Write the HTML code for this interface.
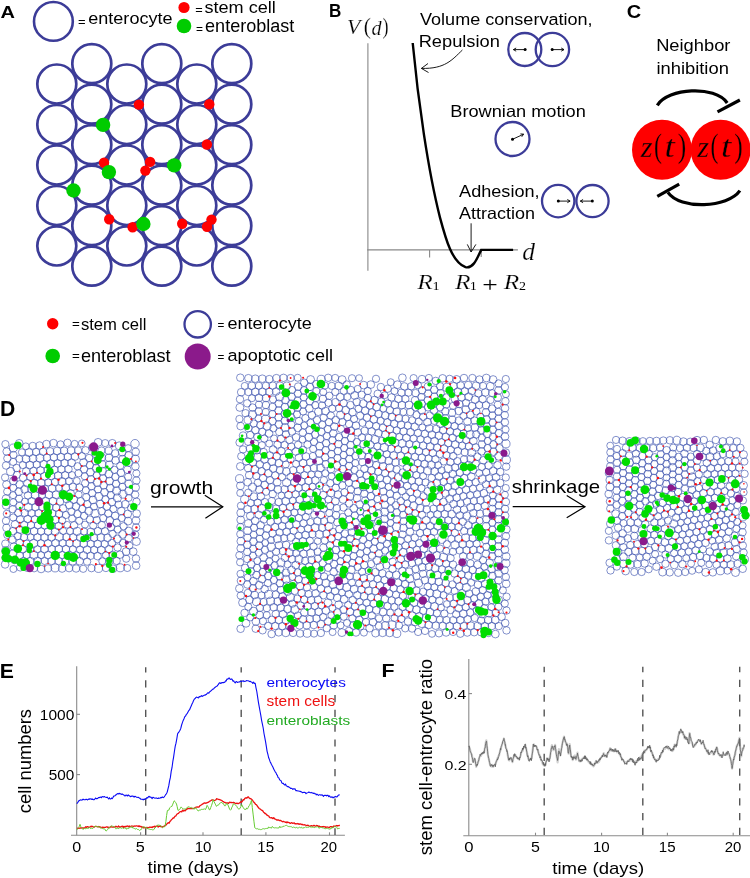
<!DOCTYPE html>
<html><head><meta charset="utf-8"><style>
html,body{margin:0;padding:0;background:#fff;}
svg{display:block;will-change:transform;}
</style></head><body>
<svg width="750" height="878" viewBox="0 0 750 878">
<rect width="750" height="878" fill="#fff"/>
<text transform="translate(0.50,17.60) scale(1.1500,1)" font-family="Liberation Sans, sans-serif" font-size="17.39" font-weight="bold">A</text>
<circle cx="53.4" cy="21.4" r="19.4" fill="none" stroke="#3c3c98" stroke-width="2.6"/>
<text transform="translate(78.05,25.50) scale(0.9992,1)" font-family="Liberation Sans, sans-serif" font-size="13.00">=</text>
<text transform="translate(88.28,24.30) scale(1.1060,1)" font-family="Liberation Sans, sans-serif" font-size="16.31">enterocyte</text>
<circle cx="184" cy="7.5" r="5.6" fill="#ff0000"/>
<circle cx="184" cy="26" r="7.3" fill="#00cc00"/>
<text transform="translate(195.16,14.00) scale(1.0227,1)" font-family="Liberation Sans, sans-serif" font-size="12.50">=</text>
<text transform="translate(204.46,13.00) scale(1.0758,1)" font-family="Liberation Sans, sans-serif" font-size="16.83">stem cell</text>
<text transform="translate(196.10,33.20) scale(0.9567,1)" font-family="Liberation Sans, sans-serif" font-size="12.50">=</text>
<text transform="translate(205.08,31.70) scale(0.9761,1)" font-family="Liberation Sans, sans-serif" font-size="18.48">enteroblast</text>
<g fill="none" stroke="#3c3c98" stroke-width="2.7"><circle cx="56.8" cy="84.0" r="19.5"/><circle cx="56.8" cy="124.5" r="19.5"/><circle cx="56.8" cy="165.0" r="19.5"/><circle cx="56.8" cy="205.5" r="19.5"/><circle cx="56.8" cy="246.0" r="19.5"/><circle cx="91.8" cy="63.7" r="19.5"/><circle cx="91.8" cy="104.2" r="19.5"/><circle cx="91.8" cy="144.7" r="19.5"/><circle cx="91.8" cy="185.2" r="19.5"/><circle cx="91.8" cy="225.7" r="19.5"/><circle cx="91.8" cy="266.2" r="19.5"/><circle cx="126.8" cy="84.0" r="19.5"/><circle cx="126.8" cy="124.5" r="19.5"/><circle cx="126.8" cy="165.0" r="19.5"/><circle cx="126.8" cy="205.5" r="19.5"/><circle cx="126.8" cy="246.0" r="19.5"/><circle cx="161.8" cy="63.7" r="19.5"/><circle cx="161.8" cy="104.2" r="19.5"/><circle cx="161.8" cy="144.7" r="19.5"/><circle cx="161.8" cy="185.2" r="19.5"/><circle cx="161.8" cy="225.7" r="19.5"/><circle cx="161.8" cy="266.2" r="19.5"/><circle cx="196.8" cy="84.0" r="19.5"/><circle cx="196.8" cy="124.5" r="19.5"/><circle cx="196.8" cy="165.0" r="19.5"/><circle cx="196.8" cy="205.5" r="19.5"/><circle cx="196.8" cy="246.0" r="19.5"/><circle cx="231.8" cy="63.7" r="19.5"/><circle cx="231.8" cy="104.2" r="19.5"/><circle cx="231.8" cy="144.7" r="19.5"/><circle cx="231.8" cy="185.2" r="19.5"/><circle cx="231.8" cy="225.7" r="19.5"/><circle cx="231.8" cy="266.2" r="19.5"/></g>
<g fill="#ff0000"><circle cx="138.9" cy="104.6" r="5.2"/><circle cx="209.3" cy="104.2" r="5.2"/><circle cx="206.9" cy="144.5" r="5.2"/><circle cx="104" cy="162.8" r="5.2"/><circle cx="150.1" cy="161.9" r="5.2"/><circle cx="145.4" cy="170.6" r="5.2"/><circle cx="109.2" cy="219.2" r="5.2"/><circle cx="132.6" cy="227.2" r="5.2"/><circle cx="182.2" cy="223.7" r="5.2"/><circle cx="211.5" cy="219.6" r="5.2"/><circle cx="207" cy="226.8" r="5.2"/></g>
<g fill="#00cc00"><circle cx="103.1" cy="124.9" r="7.2"/><circle cx="108.9" cy="172.1" r="7.2"/><circle cx="174.2" cy="165.4" r="7.2"/><circle cx="73.5" cy="190.5" r="7.2"/><circle cx="143.4" cy="224" r="7.2"/></g>
<text transform="translate(328.89,16.80) scale(0.9191,1)" font-family="Liberation Sans, sans-serif" font-size="18.55" font-weight="bold">B</text>
<text transform="translate(346.91,34.30) scale(1.0000,1)" font-family="Liberation Serif, serif" font-size="21.83" font-style="italic" stroke="#fff" stroke-width="0.2">V</text>
<text transform="translate(363.73,34.30) scale(0.9734,1)" font-family="Liberation Serif, serif" font-size="22.16" stroke="#fff" stroke-width="0.2">(</text>
<text transform="translate(371.39,34.50) scale(0.9688,1)" font-family="Liberation Serif, serif" font-size="20.86" font-style="italic" stroke="#fff" stroke-width="0.2">d</text>
<text transform="translate(382.46,34.30) scale(0.8158,1)" font-family="Liberation Serif, serif" font-size="22.16" stroke="#fff" stroke-width="0.2">)</text>
<g stroke="#888" stroke-width="1.1" fill="none"><line x1="367.9" y1="43.2" x2="367.9" y2="270.8"/><line x1="367.2" y1="249.9" x2="517.9" y2="249.9"/><line x1="429.6" y1="249.9" x2="429.6" y2="257.6"/><line x1="481.2" y1="249.9" x2="481.2" y2="257"/></g>
<path d="M412.7,43 C418,100 428,170 440,217.6 C446,240 452,262 465.5,267.2 C474,269 478,256 481.2,249.9 L513.1,249.9" fill="none" stroke="#000" stroke-width="2.4"/>
<text transform="translate(420.01,24.60) scale(1.0558,1)" font-family="Liberation Sans, sans-serif" font-size="17.10">Volume conservation,</text>
<text transform="translate(418.64,47.40) scale(1.1136,1)" font-family="Liberation Sans, sans-serif" font-size="16.41">Repulsion</text>
<text transform="translate(450.24,116.70) scale(1.1186,1)" font-family="Liberation Sans, sans-serif" font-size="16.28">Brownian motion</text>
<text transform="translate(459.10,196.50) scale(1.1119,1)" font-family="Liberation Sans, sans-serif" font-size="16.28">Adhesion,</text>
<text transform="translate(459.10,219.20) scale(1.1048,1)" font-family="Liberation Sans, sans-serif" font-size="16.28">Attraction</text>
<path d="M462.4,50 C452,60 445,69 421.4,68.4" fill="none" stroke="#000" stroke-width="0.9"/>
<path d="M428,63.5 L421.4,68.4 L428.5,72.5" fill="none" stroke="#000" stroke-width="0.9"/>
<path d="M471.1,223.3 L471.1,252" fill="none" stroke="#000" stroke-width="0.9"/>
<path d="M467.3,244.4 L471.1,252 L475.9,244.4" fill="none" stroke="#000" stroke-width="0.9"/>
<g fill="none" stroke="#3c3c98" stroke-width="2.3"><circle cx="524.8" cy="49.5" r="16.5"/><circle cx="552.4" cy="49.5" r="16.7"/><circle cx="512.5" cy="139" r="17"/><circle cx="558.2" cy="201.1" r="16.2"/><circle cx="592.5" cy="201.1" r="16.1"/></g>
<g stroke="#000" stroke-width="0.9" fill="none"><line x1="525.1" y1="49.6" x2="513.4" y2="49.6"/><polyline points="516.17,48.00 513.4,49.6 516.17,51.20"/><line x1="552.2" y1="49.6" x2="564" y2="49.6"/><polyline points="561.23,51.20 564,49.6 561.23,48.00"/><line x1="512.5" y1="139.3" x2="523.6" y2="134.2"/><polyline points="521.75,136.81 523.6,134.2 520.41,133.90"/><line x1="558.3" y1="201.1" x2="570.1" y2="201.1"/><polyline points="567.33,202.70 570.1,201.1 567.33,199.50"/><line x1="592.3" y1="201.1" x2="580.3" y2="201.1"/><polyline points="583.07,199.50 580.3,201.1 583.07,202.70"/></g>
<g fill="#000"><circle cx="525.1" cy="49.6" r="1.5"/><circle cx="552.2" cy="49.6" r="1.5"/><circle cx="512.5" cy="139.3" r="1.5"/><circle cx="558.3" cy="201.1" r="1.5"/><circle cx="592.3" cy="201.1" r="1.5"/></g>
<text transform="translate(522.13,259.80) scale(1.0562,1)" font-family="Liberation Serif, serif" font-size="24.17" font-style="italic" stroke="#fff" stroke-width="0.2">d</text>
<text transform="translate(417.33,288.50) scale(1.2476,1)" font-family="Liberation Serif, serif" font-size="20.31" font-style="italic" stroke="#fff" stroke-width="0.2">R</text>
<text transform="translate(432.48,290.40) scale(1.2314,1)" font-family="Liberation Serif, serif" font-size="11.67">1</text>
<text transform="translate(454.93,288.50) scale(1.2476,1)" font-family="Liberation Serif, serif" font-size="20.31" font-style="italic" stroke="#fff" stroke-width="0.2">R</text>
<text transform="translate(469.78,290.40) scale(1.2314,1)" font-family="Liberation Serif, serif" font-size="11.67">1</text>
<text transform="translate(482.22,291.60) scale(1.2803,1)" font-family="Liberation Serif, serif" font-size="21.50">+</text>
<text transform="translate(503.73,288.50) scale(1.2476,1)" font-family="Liberation Serif, serif" font-size="20.31" font-style="italic" stroke="#fff" stroke-width="0.2">R</text>
<text transform="translate(518.97,290.40) scale(1.2000,1)" font-family="Liberation Serif, serif" font-size="11.67">2</text>
<text transform="translate(626.70,18.00) scale(1.0769,1)" font-family="Liberation Sans, sans-serif" font-size="18.57" font-weight="bold">C</text>
<text transform="translate(656.13,51.30) scale(1.0633,1)" font-family="Liberation Sans, sans-serif" font-size="17.24">Neighbor</text>
<text transform="translate(656.41,73.90) scale(1.0657,1)" font-family="Liberation Sans, sans-serif" font-size="17.24">inhibition</text>
<circle cx="662" cy="149.7" r="30" fill="#ff0000"/><circle cx="720.6" cy="149.7" r="30" fill="#ff0000"/>
<text transform="translate(640.70,157.30) scale(1.0057,1)" font-family="Liberation Serif, serif" font-size="30.22" font-style="italic" stroke="#ff0000" stroke-width="0.3">z</text>
<text transform="translate(654.02,157.30) scale(0.7324,1)" font-family="Liberation Serif, serif" font-size="32.66" stroke="#ff0000" stroke-width="0.3">(</text>
<text transform="translate(664.42,157.30) scale(1.1502,1)" font-family="Liberation Serif, serif" font-size="32.39" font-style="italic" stroke="#ff0000" stroke-width="0.3">t</text>
<text transform="translate(677.74,157.30) scale(0.7772,1)" font-family="Liberation Serif, serif" font-size="32.66" stroke="#ff0000" stroke-width="0.3">)</text>
<text transform="translate(697.20,157.30) scale(1.0057,1)" font-family="Liberation Serif, serif" font-size="30.22" font-style="italic" stroke="#ff0000" stroke-width="0.3">z</text>
<text transform="translate(710.52,157.30) scale(0.7324,1)" font-family="Liberation Serif, serif" font-size="32.66" stroke="#ff0000" stroke-width="0.3">(</text>
<text transform="translate(720.92,157.30) scale(1.1502,1)" font-family="Liberation Serif, serif" font-size="32.39" font-style="italic" stroke="#ff0000" stroke-width="0.3">t</text>
<text transform="translate(734.24,157.30) scale(0.7772,1)" font-family="Liberation Serif, serif" font-size="32.66" stroke="#ff0000" stroke-width="0.3">)</text>
<g stroke="#000" stroke-width="3.2" fill="none"><path d="M657.3,105.3 C668,88 715,85 727.2,103"/><path d="M717.5,111.8 L739.9,100"/><path d="M739.9,190.7 C728,208 680,210 667.9,192.4"/><path d="M657.3,196.4 L679.2,184.2"/></g>
<circle cx="52.7" cy="323.8" r="5.7" fill="#ff0000"/>
<circle cx="52.7" cy="356" r="7.3" fill="#00cc00"/>
<text transform="translate(71.93,328.20) scale(1.0722,1)" font-family="Liberation Sans, sans-serif" font-size="12.50">=</text>
<text transform="translate(80.90,329.80) scale(1.0317,1)" font-family="Liberation Sans, sans-serif" font-size="16.14">stem cell</text>
<text transform="translate(71.93,360.20) scale(1.0722,1)" font-family="Liberation Sans, sans-serif" font-size="12.50">=</text>
<text transform="translate(80.98,362.10) scale(1.0265,1)" font-family="Liberation Sans, sans-serif" font-size="17.66">enteroblast</text>
<circle cx="197.7" cy="324.3" r="13.2" fill="none" stroke="#3c3c98" stroke-width="2.3"/>
<circle cx="197.7" cy="356.5" r="13" fill="#8b1a8b"/>
<text transform="translate(217.41,328.50) scale(0.9402,1)" font-family="Liberation Sans, sans-serif" font-size="12.50">=</text>
<text transform="translate(227.58,328.80) scale(1.0375,1)" font-family="Liberation Sans, sans-serif" font-size="17.38">enterocyte</text>
<text transform="translate(217.41,360.70) scale(0.9402,1)" font-family="Liberation Sans, sans-serif" font-size="12.50">=</text>
<text transform="translate(227.58,360.50) scale(1.1589,1)" font-family="Liberation Sans, sans-serif" font-size="15.59">apoptotic cell</text>
<text transform="translate(-0.18,677.60) scale(1.0697,1)" font-family="Liberation Sans, sans-serif" font-size="19.86" font-weight="bold">E</text>
<g stroke="#8a8a8a" stroke-width="1.1" fill="none"><line x1="76.7" y1="666.3" x2="76.7" y2="835.3"/><line x1="71" y1="835.3" x2="344.9" y2="835.3"/><line x1="76.7" y1="714.3" x2="80" y2="714.3"/><line x1="76.7" y1="774.6" x2="80" y2="774.6"/><line x1="140.6" y1="835.3" x2="140.6" y2="832.3"/><line x1="203" y1="835.3" x2="203" y2="832.3"/><line x1="265.9" y1="835.3" x2="265.9" y2="832.3"/><line x1="329.5" y1="835.3" x2="329.5" y2="832.3"/></g>
<g stroke="#555" stroke-width="1.4" stroke-dasharray="7.2,7.6" stroke-dashoffset="1.8" fill="none"><line x1="145.7" y1="667.2" x2="145.7" y2="835"/><line x1="241.2" y1="667.2" x2="241.2" y2="835"/><line x1="335" y1="667.2" x2="335" y2="835"/></g>
<polyline points="76.7,803.7 77.5,802.9 78.2,801.8 79.0,800.6 79.8,800.4 80.5,799.9 81.2,800.0 82.0,800.2 82.7,799.4 83.4,799.3 84.1,799.8 84.8,799.8 85.5,799.6 86.2,799.2 86.9,799.6 87.6,799.9 88.4,799.0 89.1,799.4 89.8,798.7 90.5,799.0 91.2,798.8 91.9,799.5 92.6,799.0 93.3,799.7 94.0,799.7 94.7,799.3 95.5,798.0 96.2,798.6 97.0,798.6 97.7,798.5 98.4,797.5 99.2,797.7 99.9,797.3 100.6,797.1 101.4,797.7 102.1,796.6 102.9,796.7 103.6,796.9 104.3,796.5 105.0,796.9 105.8,797.3 106.5,797.5 107.2,797.1 107.9,798.0 108.6,798.8 109.4,797.7 110.1,799.0 110.8,799.0 111.5,798.0 112.2,798.6 113.0,797.5 113.7,796.0 114.4,796.0 115.1,795.7 115.8,794.8 116.6,794.6 117.3,793.7 118.0,793.4 118.7,794.0 119.4,793.3 120.2,793.9 120.9,793.9 121.6,794.4 122.3,794.0 123.0,794.5 123.8,794.9 124.5,795.7 125.2,796.0 125.9,795.0 126.7,795.3 127.4,796.0 128.2,794.9 128.9,795.7 129.6,795.9 130.4,796.6 131.1,796.4 131.8,796.0 132.6,796.1 133.3,796.2 134.1,797.1 134.8,796.3 135.6,796.6 136.3,797.2 137.1,797.3 137.9,797.5 138.6,797.4 139.4,798.2 140.1,798.3 140.9,799.3 141.7,799.3 142.4,799.3 143.2,799.9 143.9,799.1 144.7,799.5 145.4,798.7 146.2,798.7 146.9,797.5 147.7,798.0 148.4,796.7 149.2,796.3 149.9,797.2 150.7,797.0 151.4,797.6 152.2,798.6 152.9,797.3 153.6,797.5 154.4,797.9 155.1,798.2 155.8,798.0 156.6,798.0 157.3,798.5 158.1,798.5 158.8,797.9 159.5,798.2 160.3,798.0 161.0,797.3 161.8,797.7 162.5,797.0 163.3,797.6 164.0,797.1 164.8,796.0 165.6,794.7 166.4,793.9 167.2,792.1 168.0,788.8 168.8,785.7 169.6,780.8 170.4,777.4 171.2,771.4 172.0,767.7 172.8,761.7 173.6,757.1 174.4,751.5 175.2,746.3 176.0,743.2 176.8,738.8 177.6,733.8 178.4,732.6 179.2,731.6 180.0,730.2 180.8,728.4 181.6,725.0 182.4,722.6 183.2,720.4 184.0,718.7 184.8,716.6 185.6,716.0 186.4,714.2 187.2,713.6 188.0,712.0 188.8,710.6 189.6,709.7 190.4,707.7 191.2,706.1 192.0,704.0 192.8,702.5 193.6,700.4 194.4,699.0 195.2,698.5 196.0,697.4 196.8,697.1 197.6,697.6 198.4,697.9 199.2,696.5 200.0,696.9 200.7,696.4 201.4,695.7 202.1,696.5 202.8,695.9 203.6,695.7 204.3,695.1 205.0,695.3 205.7,694.6 206.4,694.5 207.2,693.4 208.0,692.7 208.8,693.2 209.6,691.7 210.4,691.4 211.2,690.6 212.0,689.8 212.8,689.1 213.6,689.0 214.4,687.9 215.2,687.3 216.0,686.6 216.8,686.3 217.6,685.3 218.4,684.4 219.2,683.1 219.9,682.6 220.6,683.4 221.3,683.2 222.0,682.5 222.7,682.6 223.4,682.6 224.1,682.4 224.8,682.2 225.5,680.9 226.2,681.0 226.9,679.1 227.7,679.3 228.4,678.4 229.1,677.9 229.9,679.0 230.6,679.4 231.4,678.9 232.1,679.3 232.9,681.1 233.7,680.9 234.4,682.0 235.2,683.0 235.9,681.8 236.6,681.5 237.3,682.4 238.0,682.2 238.7,682.0 239.4,682.0 240.1,681.5 240.8,681.1 241.6,681.6 242.4,681.1 243.2,680.7 244.0,681.6 244.8,681.2 245.6,681.3 246.4,680.6 247.2,680.8 248.0,680.8 248.8,681.0 249.6,681.6 250.4,681.3 251.2,682.0 252.0,682.3 252.8,683.4 253.6,682.1 254.4,683.5 255.2,683.4 256.0,687.8 256.8,691.5 257.6,696.8 258.4,702.1 259.2,706.6 260.0,711.0 260.8,715.3 261.6,720.3 262.4,724.2 263.2,728.0 264.0,733.5 264.8,737.7 265.6,741.9 266.4,746.8 267.1,751.3 267.9,754.4 268.6,757.5 269.3,759.2 270.1,761.7 270.8,762.9 271.5,764.4 272.2,765.8 273.0,767.3 273.7,769.1 274.5,770.5 275.2,771.8 275.9,772.6 276.7,774.6 277.4,775.4 278.1,777.6 278.9,777.9 279.6,779.7 280.3,780.5 281.1,780.7 281.8,782.8 282.5,783.4 283.3,783.3 284.0,784.5 284.7,784.9 285.5,784.0 286.2,785.8 286.9,786.1 287.7,786.7 288.4,786.6 289.1,787.3 289.9,787.6 290.6,788.5 291.4,788.4 292.1,788.5 292.8,789.4 293.6,788.8 294.3,789.1 295.0,788.8 295.8,790.6 296.5,790.6 297.2,790.8 297.9,791.0 298.7,791.0 299.4,791.3 300.1,791.4 300.8,791.6 301.6,791.9 302.3,792.7 303.1,792.5 303.8,792.4 304.5,792.4 305.3,792.5 306.0,793.7 306.7,793.1 307.5,792.8 308.2,792.5 308.9,792.0 309.7,792.4 310.4,792.7 311.1,792.4 311.9,792.7 312.6,793.0 313.4,793.4 314.1,793.0 314.8,793.8 315.6,793.8 316.3,794.9 317.0,794.2 317.8,794.9 318.5,795.4 319.2,794.7 319.9,794.7 320.7,795.1 321.4,795.1 322.1,794.8 322.8,795.5 323.6,796.3 324.3,795.3 325.1,795.5 325.8,795.2 326.5,795.9 327.3,795.3 328.0,795.4 328.7,796.6 329.5,795.8 330.2,796.9 330.9,797.3 331.7,796.9 332.4,797.1 333.1,797.9 333.9,797.1 334.6,797.1 335.3,796.4 336.1,796.7 336.8,797.0 337.5,796.4 338.2,795.2 339.0,794.9 339.7,794.7" fill="none" stroke="#0a0af5" stroke-width="1.1" stroke-linejoin="round"/>
<polyline points="76.9,828.5 77.6,828.2 78.4,828.3 79.1,828.3 79.8,828.0 80.6,828.0 81.3,828.0 82.1,827.8 82.8,827.9 83.5,828.3 84.3,827.8 85.0,827.5 85.8,826.8 86.5,827.5 87.2,826.6 88.0,826.7 88.8,827.4 89.5,827.2 90.2,826.9 91.0,826.2 91.8,826.6 92.5,826.4 93.2,826.8 94.0,827.3 94.7,826.6 95.5,826.4 96.2,826.3 96.9,826.7 97.7,826.8 98.4,826.5 99.1,827.0 99.9,826.6 100.6,827.5 101.3,827.5 102.1,827.6 102.8,827.1 103.5,827.5 104.3,827.4 105.0,827.4 105.7,827.3 106.4,826.9 107.1,826.8 107.9,827.6 108.6,827.2 109.3,827.3 110.0,827.5 110.7,826.5 111.4,826.8 112.1,827.1 112.9,827.1 113.6,826.8 114.3,827.2 115.0,826.9 115.7,826.4 116.4,826.4 117.1,827.0 117.9,826.9 118.6,826.0 119.3,827.2 120.0,826.9 120.7,827.1 121.4,826.5 122.1,826.5 122.8,826.2 123.6,827.4 124.3,826.5 125.0,827.1 125.7,826.3 126.4,826.5 127.1,825.9 127.8,826.3 128.5,826.8 129.2,826.0 129.9,826.8 130.6,826.5 131.3,826.0 132.0,826.2 132.7,826.2 133.4,826.3 134.1,826.1 134.8,826.0 135.5,826.2 136.2,825.9 136.9,825.8 137.6,826.2 138.3,826.5 139.0,825.8 139.7,826.5 140.4,826.5 141.1,826.5 141.9,827.3 142.6,827.0 143.3,827.9 144.0,827.3 144.7,827.8 145.5,827.6 146.2,827.4 147.0,827.8 147.7,827.5 148.5,827.7 149.2,827.4 150.0,827.0 150.7,827.3 151.5,827.2 152.2,827.5 152.9,826.7 153.7,826.9 154.4,826.3 155.1,827.0 155.8,826.3 156.6,826.0 157.3,826.5 158.2,827.0 159.1,826.2 160.0,826.4 160.7,826.6 161.4,826.5 162.1,827.1 162.8,826.7 163.5,826.3 164.2,826.4 165.0,825.5 165.7,825.5 166.5,824.3 167.4,823.5 168.2,822.6 169.1,823.2 169.9,821.5 170.7,820.7 171.5,819.7 172.3,818.9 173.1,817.9 173.8,818.1 174.6,816.7 175.3,816.1 176.0,815.8 176.8,814.3 177.7,813.7 178.5,813.3 179.3,812.3 180.1,811.7 180.9,811.7 181.7,811.9 182.5,810.2 183.4,811.1 184.2,810.3 185.1,810.9 185.9,809.7 186.7,809.5 187.5,808.6 188.3,808.3 189.1,808.7 189.8,808.7 190.5,808.5 191.2,808.6 191.9,808.4 192.7,808.7 193.4,808.5 194.2,808.2 195.0,807.9 195.8,807.2 196.6,807.2 197.3,806.9 198.1,807.1 198.9,807.0 199.7,806.0 200.5,805.3 201.2,805.0 202.0,804.4 202.8,803.9 203.5,803.6 204.3,802.8 205.1,803.3 205.8,803.0 206.6,803.0 207.3,802.7 208.1,802.4 208.8,801.8 209.6,801.5 210.3,800.8 211.1,800.5 211.8,799.9 212.7,799.8 213.7,800.6 214.6,800.4 215.3,800.2 216.0,799.8 216.7,798.7 217.4,799.0 218.3,799.4 219.3,799.5 220.2,799.8 221.0,800.2 221.8,800.5 222.6,801.2 223.3,801.6 224.1,802.3 224.9,802.3 225.6,802.9 226.4,803.0 227.1,803.0 227.9,802.9 228.6,803.4 229.6,802.2 230.5,802.5 231.2,802.5 232.0,802.6 232.7,802.7 233.5,802.4 234.2,802.6 234.9,803.2 235.6,803.4 236.3,803.5 237.0,803.2 237.8,803.6 238.6,803.5 239.3,803.1 240.1,802.5 240.9,801.6 241.7,802.1 242.4,801.1 243.2,799.6 243.9,800.0 244.7,798.6 245.4,798.0 246.2,797.8 246.9,798.0 247.7,797.0 248.4,796.8 249.1,798.0 249.8,798.5 250.6,798.6 251.3,799.2 252.0,799.5 252.7,800.5 253.4,801.7 254.2,802.5 254.9,803.3 255.6,804.4 256.3,804.6 257.1,805.7 257.8,806.8 258.5,807.6 259.2,808.5 259.9,808.9 260.7,809.3 261.4,810.2 262.1,810.4 262.8,810.9 263.6,812.3 264.3,812.8 265.0,813.6 265.7,813.5 266.4,814.6 267.1,815.1 267.9,815.7 268.6,815.8 269.3,817.1 270.0,817.7 270.8,817.8 271.5,817.6 272.3,818.1 273.0,818.6 273.7,817.6 274.5,818.7 275.2,819.2 276.0,819.4 276.7,820.0 277.4,820.0 278.2,819.9 278.9,820.2 279.6,820.6 280.4,820.3 281.1,820.7 281.8,821.3 282.5,821.8 283.3,821.3 284.0,821.6 284.7,821.8 285.5,822.4 286.2,822.0 286.9,822.7 287.6,822.0 288.4,822.4 289.1,822.6 289.8,823.1 290.6,823.3 291.3,822.6 292.0,822.8 292.8,823.4 293.5,823.1 294.3,822.8 295.0,823.8 295.7,823.7 296.5,823.8 297.2,823.5 298.0,824.1 298.7,823.7 299.4,824.3 300.2,823.8 300.9,824.0 301.6,824.5 302.4,824.3 303.1,824.9 303.8,824.9 304.5,824.7 305.3,825.2 306.0,825.2 306.7,825.7 307.5,825.2 308.2,825.3 308.9,825.9 309.6,826.3 310.4,826.2 311.1,825.6 311.8,825.7 312.6,826.2 313.3,825.7 314.0,825.4 314.8,825.9 315.5,826.1 316.2,825.7 317.0,825.5 317.7,825.7 318.4,826.5 319.2,826.1 319.9,826.4 320.6,826.6 321.4,826.8 322.1,826.6 322.8,827.0 323.6,826.5 324.3,826.8 325.1,826.7 325.8,827.5 326.5,827.2 327.3,827.0 328.0,827.2 328.8,827.3 329.5,827.7 330.2,826.7 331.0,826.6 331.7,826.6 332.4,827.4 333.2,826.6 333.9,826.0 334.6,826.2 335.3,826.5 336.1,825.7 336.8,825.5 337.5,826.0 338.2,825.6 339.0,825.6 339.7,825.1" fill="none" stroke="#ee1111" stroke-width="1.3" stroke-linejoin="round"/>
<polyline points="76.9,829.9 77.7,828.8 78.5,827.4 79.2,826.5 80.0,824.3 80.9,826.8 81.7,827.6 82.6,829.2 83.4,829.2 84.1,828.7 84.9,828.0 85.7,828.9 86.5,828.3 87.2,828.4 88.0,828.2 88.8,828.2 89.6,827.2 90.4,828.6 91.2,828.1 92.0,828.3 92.8,828.5 93.5,827.4 94.2,826.4 95.0,826.7 95.8,826.3 96.5,826.5 97.2,826.9 98.0,826.2 98.8,827.4 99.5,826.8 100.2,827.8 101.0,827.8 101.7,828.0 102.4,828.5 103.1,828.6 103.9,829.0 104.6,828.8 105.3,829.9 106.0,831.1 106.7,830.6 107.4,829.8 108.1,828.9 108.8,827.7 109.6,828.1 110.3,826.9 111.0,826.3 111.7,825.7 112.4,826.2 113.2,826.3 113.9,826.9 114.6,826.8 115.3,827.5 116.1,829.1 116.8,828.4 117.6,828.2 118.3,828.5 119.1,828.5 119.9,827.5 120.7,827.9 121.5,828.3 122.2,827.9 123.0,827.8 123.7,828.6 124.4,827.8 125.1,828.3 125.9,828.2 126.6,829.3 127.3,827.9 128.0,828.7 128.9,827.9 129.8,827.6 130.7,826.8 131.4,827.5 132.1,826.6 132.8,828.1 133.6,828.0 134.3,828.3 135.0,829.2 135.8,828.8 136.5,828.5 137.3,829.5 138.1,829.2 138.8,829.8 139.6,830.5 140.4,829.8 141.1,829.7 141.9,828.3 142.6,827.1 143.4,826.8 144.1,827.0 144.9,827.1 145.6,828.1 146.3,827.9 147.0,827.6 147.8,829.0 148.5,828.9 149.2,829.2 149.9,829.2 150.6,829.5 151.4,829.4 152.1,830.0 152.8,829.7 153.5,829.8 154.2,829.1 155.0,827.5 155.7,827.4 156.4,826.6 157.1,826.1 157.9,824.7 158.6,825.3 159.4,825.3 160.1,825.3 160.9,825.7 161.6,827.0 162.4,827.7 163.3,827.0 164.2,826.9 165.1,826.2 165.9,821.4 166.6,815.5 167.4,810.5 168.1,810.2 168.9,810.2 169.6,807.9 170.3,807.4 171.0,806.5 171.8,806.5 172.5,804.9 173.3,802.9 174.2,800.8 175.0,801.5 175.7,802.6 176.5,804.0 177.2,806.7 178.0,810.4 178.8,810.1 179.6,809.5 180.3,808.5 181.1,806.9 181.9,807.8 182.7,808.7 183.5,809.0 184.3,809.0 185.1,809.0 185.9,809.1 186.7,808.0 187.5,807.1 188.3,806.7 189.1,807.2 189.8,807.0 190.6,807.8 191.3,807.4 192.1,808.5 192.8,808.1 193.6,808.7 194.3,809.2 195.0,807.7 195.7,807.9 196.5,808.8 197.2,809.8 198.0,810.9 198.7,810.9 199.5,809.9 200.2,810.1 201.0,809.7 201.7,809.3 202.5,809.4 203.2,809.1 203.9,809.4 204.6,808.7 205.3,809.7 206.2,808.1 207.1,805.4 207.8,806.5 208.5,807.7 209.2,809.7 209.9,809.8 210.7,807.6 211.6,805.3 212.4,802.8 213.2,799.7 214.0,801.7 214.8,803.1 215.7,804.9 216.5,806.4 217.3,805.3 218.0,805.1 218.8,804.8 219.6,803.3 220.3,802.9 221.1,802.6 221.9,802.4 222.6,803.5 223.4,803.5 224.1,805.1 224.9,806.1 225.7,805.4 226.4,803.7 227.2,803.5 228.0,805.1 228.8,807.0 229.7,809.5 230.5,810.1 231.2,809.4 231.9,807.2 232.6,806.1 233.3,803.8 234.2,803.9 235.2,804.8 236.1,805.4 236.8,806.4 237.5,807.9 238.2,808.7 238.9,809.2 239.8,808.7 240.8,806.8 241.7,804.7 242.4,805.9 243.1,807.6 243.8,808.2 244.5,809.4 245.2,809.3 246.0,809.5 246.7,808.0 247.5,808.8 248.2,807.6 249.0,805.7 249.8,805.0 250.7,802.6 251.5,800.3 252.3,807.5 253.2,814.9 254.0,821.8 254.8,827.8 255.6,828.4 256.4,828.8 257.2,828.5 258.0,829.2 258.8,829.3 259.6,829.3 260.4,829.6 261.2,829.6 261.9,829.3 262.7,828.8 263.5,828.7 264.2,829.1 265.0,828.5 265.7,828.6 266.4,828.5 267.1,828.1 267.9,828.6 268.6,827.0 269.3,827.6 270.0,827.1 270.8,828.1 271.5,828.1 272.2,826.5 273.0,827.0 273.7,827.8 274.4,827.9 275.2,827.9 275.9,827.6 276.6,827.9 277.4,828.0 278.1,827.8 278.8,828.1 279.6,826.4 280.3,827.6 281.0,826.6 281.8,827.4 282.5,826.6 283.2,826.2 284.0,826.6 284.7,825.8 285.4,825.6 286.2,825.2 286.9,825.7 287.6,826.1 288.4,826.5 289.1,826.2 289.8,826.9 290.6,826.6 291.3,826.7 292.0,827.2 292.8,827.6 293.5,827.1 294.2,827.3 295.0,827.6 295.7,827.8 296.4,827.3 297.2,828.2 297.9,827.5 298.6,827.8 299.4,827.2 300.1,827.7 300.8,827.6 301.6,827.2 302.3,828.3 303.0,827.5 303.8,828.0 304.5,827.6 305.2,826.9 306.0,827.1 306.7,827.5 307.4,827.3 308.2,827.3 308.9,827.2 309.6,826.6 310.4,827.3 311.1,826.4 311.8,827.6 312.6,827.1 313.3,827.2 314.0,827.4 314.8,827.7 315.5,826.9 316.2,826.8 317.0,827.1 317.7,826.7 318.4,827.2 319.2,828.4 319.9,827.2 320.6,828.0 321.4,827.2 322.1,827.9 322.8,827.8 323.6,828.0 324.3,828.4 325.1,829.0 325.8,828.4 326.5,828.5 327.3,828.1 328.0,828.9 328.8,828.7 329.5,829.3 330.2,828.6 330.9,829.1 331.7,827.2 332.4,827.7 333.1,827.9 333.9,827.1 334.6,826.6 335.3,826.6 336.0,826.4 336.8,827.5 337.5,828.9 338.2,828.7 339.0,828.0 339.7,828.5" fill="none" stroke="#66cc33" stroke-width="1.0" stroke-linejoin="round"/>
<text transform="translate(39.84,719.80) scale(1.0748,1)" font-family="Liberation Sans, sans-serif" font-size="14.43">1000</text>
<text transform="translate(48.79,780.00) scale(1.0429,1)" font-family="Liberation Sans, sans-serif" font-size="14.71">500</text>
<text transform="translate(72.26,852.00) scale(1.1458,1)" font-family="Liberation Sans, sans-serif" font-size="14.00">0</text>
<text transform="translate(135.85,852.00) scale(1.1414,1)" font-family="Liberation Sans, sans-serif" font-size="14.20">5</text>
<text transform="translate(194.67,852.00) scale(1.0786,1)" font-family="Liberation Sans, sans-serif" font-size="14.00">10</text>
<text transform="translate(257.37,852.00) scale(1.0614,1)" font-family="Liberation Sans, sans-serif" font-size="14.20">15</text>
<text transform="translate(320.45,852.00) scale(1.0662,1)" font-family="Liberation Sans, sans-serif" font-size="14.00">20</text>
<text transform="translate(147.52,873.00) scale(1.1177,1)" font-family="Liberation Sans, sans-serif" font-size="16.55">time (days)</text>
<text transform="translate(30.80,813.13) rotate(-90) scale(1.0326,1)" font-family="Liberation Sans, sans-serif" font-size="17.79">cell numbers</text>
<text transform="translate(266.38,686.60) scale(1.2051,1)" font-family="Liberation Sans, sans-serif" font-size="12.77" fill="#0a0af5">enterocytes</text>
<text transform="translate(266.54,705.70) scale(1.0096,1)" font-family="Liberation Sans, sans-serif" font-size="15.31" fill="#ee1111">stem cells</text>
<text transform="translate(266.38,725.00) scale(1.2822,1)" font-family="Liberation Sans, sans-serif" font-size="12.00" fill="#22aa22">enteroblasts</text>
<text transform="translate(381.41,677.30) scale(1.1989,1)" font-family="Liberation Sans, sans-serif" font-size="17.83" font-weight="bold">F</text>
<g stroke="#8a8a8a" stroke-width="1.1" fill="none"><line x1="468.8" y1="659.1" x2="468.8" y2="835.7"/><line x1="463.3" y1="835.7" x2="750" y2="835.7"/><line x1="468.8" y1="693.6" x2="472" y2="693.6"/><line x1="468.8" y1="764.3" x2="472" y2="764.3"/><line x1="535.5" y1="835.7" x2="535.5" y2="832.7"/><line x1="601.6" y1="835.7" x2="601.6" y2="832.7"/><line x1="667.4" y1="835.7" x2="667.4" y2="832.7"/><line x1="733.2" y1="835.7" x2="733.2" y2="832.7"/></g>
<g stroke="#555" stroke-width="1.4" stroke-dasharray="7.2,7.6" stroke-dashoffset="1.8" fill="none"><line x1="544.2" y1="666.8" x2="544.2" y2="835.5"/><line x1="642.8" y1="666.8" x2="642.8" y2="835.5"/><line x1="739.7" y1="666.8" x2="739.7" y2="835.5"/></g>
<polyline points="468.8,745.9 469.3,747.2 469.8,748.4 470.3,750.6 470.8,752.8 471.4,754.2 471.9,755.0 472.4,758.4 473.0,761.9 473.5,760.9 474.1,758.7 474.6,758.8 475.1,760.6 475.7,763.6 476.2,766.8 476.7,765.4 477.3,763.2 477.8,763.1 478.3,761.7 478.9,759.1 479.4,757.4 479.9,756.2 480.4,754.9 481.0,755.9 481.6,753.4 482.1,753.5 482.6,753.4 483.1,752.9 483.7,752.6 484.2,752.1 484.7,749.0 485.2,746.7 485.8,742.2 486.3,740.3 486.8,744.9 487.4,750.3 487.9,755.3 488.4,757.1 489.0,759.7 489.6,762.8 490.1,765.0 490.6,764.7 491.1,766.3 491.7,766.6 492.2,764.9 492.7,766.1 493.2,766.9 493.8,765.9 494.3,765.4 494.9,764.9 495.4,764.5 495.9,762.9 496.5,761.0 497.0,759.9 497.5,758.2 498.1,757.1 498.6,755.7 499.1,755.2 499.7,752.6 500.2,750.9 500.8,749.3 501.3,746.9 501.8,745.4 502.3,743.7 502.9,741.9 503.4,740.2 503.9,738.5 504.4,741.4 505.0,742.8 505.5,746.3 506.0,747.8 506.6,749.5 507.1,751.8 507.6,754.5 508.2,757.7 508.7,760.1 509.2,760.5 509.8,759.1 510.3,757.8 510.9,758.0 511.4,758.5 512.0,760.5 512.5,762.1 513.0,760.0 513.5,757.2 514.1,755.6 514.6,755.0 515.1,754.9 515.7,755.4 516.2,756.5 516.8,757.9 517.3,757.9 517.8,757.9 518.3,758.6 518.9,759.3 519.4,759.2 519.9,757.1 520.5,755.8 521.0,753.4 521.5,752.0 522.0,751.0 522.6,751.0 523.1,748.4 523.7,747.7 524.2,746.6 524.8,745.8 525.3,745.0 525.8,747.1 526.4,749.8 526.9,752.3 527.4,754.5 528.0,757.1 528.5,758.7 529.0,760.0 529.5,759.9 530.1,759.7 530.6,759.5 531.2,758.5 531.7,758.3 532.2,753.1 532.8,749.0 533.3,745.9 533.8,744.3 534.4,745.5 534.9,746.0 535.4,746.0 536.0,746.0 536.5,746.7 537.0,748.3 537.6,749.9 538.1,750.6 538.6,753.0 539.2,754.3 539.7,756.0 540.2,757.6 540.8,759.1 541.3,760.4 541.8,761.0 542.4,762.9 542.9,764.3 543.4,764.8 544.0,765.5 544.5,765.3 545.0,765.8 545.5,764.4 546.0,761.5 546.6,760.4 547.1,758.1 547.6,758.7 548.2,758.6 548.8,759.5 549.3,760.5 549.8,758.0 550.3,755.0 550.9,751.5 551.4,748.5 551.9,745.2 552.4,747.2 553.0,748.3 553.5,750.2 554.0,749.3 554.6,747.0 555.1,744.9 555.6,749.1 556.2,752.7 556.7,756.7 557.6,762.3 558.2,755.9 558.9,749.1 559.4,752.0 560.0,754.1 560.5,755.0 561.0,751.3 561.6,747.9 562.1,744.6 562.7,742.0 563.4,739.4 564.0,736.6 564.6,738.7 565.2,740.9 565.8,742.7 566.3,742.7 566.9,744.5 567.4,745.8 568.0,749.2 568.5,753.6 569.1,748.6 569.7,744.0 570.4,751.1 571.1,756.6 571.6,757.5 572.2,758.9 572.7,760.0 573.2,758.7 573.8,756.4 574.4,756.3 574.9,755.5 575.4,757.1 575.9,759.6 576.4,758.0 577.0,755.0 577.5,752.5 578.0,756.9 578.6,758.5 579.1,761.0 579.6,761.3 580.2,761.0 580.7,760.0 581.3,760.3 581.8,759.3 582.3,758.5 582.9,758.5 583.4,758.3 583.9,757.0 584.5,757.0 585.0,756.3 585.5,758.6 586.1,757.6 586.6,759.5 587.2,759.6 587.7,760.4 588.2,761.4 588.8,762.0 589.3,762.7 589.8,762.8 590.4,762.9 590.9,763.4 591.4,764.4 591.9,764.9 592.5,765.7 593.0,765.7 593.5,766.4 594.0,765.8 594.6,764.3 595.1,762.6 595.7,761.9 596.2,760.9 596.7,762.5 597.2,761.4 597.8,762.6 598.3,762.4 598.8,762.0 599.4,760.8 600.0,759.3 600.5,758.3 601.0,757.7 601.6,757.1 602.1,756.0 602.6,755.5 603.2,755.6 603.7,753.2 604.2,754.7 604.7,754.5 605.3,755.5 605.8,756.3 606.3,756.3 606.8,755.7 607.4,753.5 607.9,753.9 608.5,752.0 609.0,751.6 609.6,750.4 610.1,748.0 610.6,749.2 611.2,749.9 611.7,750.9 612.2,750.5 612.8,750.8 613.3,750.2 613.8,751.4 614.3,751.3 614.9,750.2 615.4,749.8 615.9,749.4 616.5,751.0 617.0,752.3 617.5,751.7 618.1,752.3 618.6,752.3 619.1,752.6 619.7,754.8 620.2,754.6 620.7,756.2 621.3,757.5 621.8,758.8 622.3,759.4 622.9,760.2 623.4,760.4 623.9,761.0 624.5,762.4 625.0,762.8 625.5,762.4 626.0,762.3 626.6,762.6 627.1,761.8 627.6,761.4 628.2,760.6 628.7,760.9 629.3,760.3 629.8,760.5 630.3,758.9 630.9,759.4 631.4,760.3 632.0,759.8 632.5,759.8 633.0,761.6 633.5,761.3 634.1,761.6 634.6,762.3 635.1,763.9 635.6,763.0 636.2,761.3 636.7,760.7 637.3,760.6 637.8,759.8 638.3,758.9 638.9,759.3 639.4,759.0 639.9,757.5 640.5,758.0 641.0,758.1 641.5,756.4 642.0,754.4 642.6,754.2 643.1,753.5 643.6,753.3 644.2,750.7 644.7,752.5 645.3,750.0 645.8,750.4 646.4,749.9 647.0,749.1 647.5,748.1 648.1,746.8 648.7,747.0 649.3,747.0 650.0,746.8 650.6,750.2 651.1,750.6 651.7,752.6 652.2,752.6 652.7,755.2 653.3,756.7 653.8,758.1 654.3,758.4 654.8,758.8 655.4,760.4 655.9,760.5 656.4,760.2 657.0,760.6 657.5,759.5 658.1,759.4 658.6,758.8 659.1,758.9 659.7,757.6 660.2,756.0 660.8,755.7 661.3,753.7 661.8,752.9 662.3,752.4 662.9,750.3 663.4,749.7 663.9,748.1 664.4,748.5 665.0,748.9 665.5,747.4 666.0,747.5 666.6,746.6 667.1,746.1 667.6,746.5 668.2,748.3 668.7,749.1 669.3,748.6 669.8,748.4 670.3,749.6 670.9,749.5 671.4,750.5 672.0,750.6 672.5,751.0 673.0,749.9 673.5,748.0 674.1,746.7 674.6,744.7 675.1,745.4 675.7,744.9 676.2,745.5 676.7,745.1 677.2,742.5 677.8,739.4 678.3,735.3 678.8,734.0 679.4,732.3 680.0,731.6 680.5,730.5 681.0,730.8 681.5,731.0 682.1,732.7 682.6,732.0 683.1,734.6 683.7,734.6 684.2,734.6 684.7,738.4 685.2,738.1 685.8,737.1 686.4,737.9 686.9,738.0 687.5,740.0 688.2,741.0 688.8,743.2 689.5,733.0 690.0,735.4 690.6,738.4 691.1,740.3 691.6,743.1 692.2,743.1 692.8,745.2 693.3,745.7 693.8,745.5 694.3,746.3 694.9,744.6 695.4,744.8 695.9,744.0 696.4,742.6 697.0,742.1 697.5,741.2 698.1,740.3 698.6,740.1 699.3,740.4 700.0,740.2 700.7,741.7 701.4,744.0 702.0,742.9 702.5,742.6 703.1,742.5 703.7,743.7 704.2,745.2 704.8,747.2 705.3,747.9 705.8,748.9 706.3,749.9 706.8,751.2 707.3,751.9 707.8,753.2 708.4,753.3 708.9,754.1 709.4,753.0 709.9,753.9 710.5,752.7 711.0,752.8 711.5,751.7 712.0,751.4 712.5,751.5 713.0,752.8 713.5,754.7 714.0,753.6 714.5,753.3 715.1,752.0 715.6,749.9 716.2,748.5 716.7,747.2 717.3,748.8 717.8,751.9 718.4,753.8 718.9,754.4 719.5,754.9 720.0,755.6 720.5,756.3 721.0,756.2 721.6,754.9 722.1,756.4 722.7,755.7 723.2,755.2 723.8,754.5 724.3,754.5 724.9,754.7 725.4,754.5 726.0,753.3 726.5,754.1 727.0,754.6 727.5,751.7 728.0,752.6 728.7,753.6 729.4,754.7 730.0,757.9 730.7,759.0 731.4,763.8 732.1,768.6 732.8,763.9 733.5,760.1 734.1,758.1 734.6,755.5 735.2,754.3 735.8,750.5 736.3,748.9 736.9,745.4 737.5,745.2 738.0,743.6 738.6,741.2 739.5,737.8 740.3,749.6 740.8,752.6 741.3,756.3 742.0,751.5 742.7,748.2 743.3,748.7 743.8,747.4 744.4,747.4" fill="none" stroke="#9a9a9a" stroke-width="2.2" stroke-linejoin="round" stroke-opacity="0.45"/>
<polyline points="468.8,746.4 469.3,745.9 469.6,748.0 470.0,750.6 470.3,751.8 470.6,751.8 470.9,752.7 471.3,753.4 471.6,753.8 471.9,757.0 472.3,757.7 472.6,759.2 473.0,762.3 473.3,762.5 473.6,761.6 474.0,760.0 474.3,758.6 474.6,758.4 474.9,758.4 475.2,760.2 475.6,763.6 475.9,764.0 476.2,766.2 476.5,766.4 476.8,765.2 477.2,764.0 477.5,765.3 477.8,763.3 478.1,761.3 478.5,761.2 478.9,759.9 479.2,757.6 479.5,757.4 479.9,756.1 480.2,754.2 480.5,755.5 480.8,755.1 481.2,754.6 481.5,753.2 481.8,754.1 482.1,754.1 482.5,753.8 482.8,752.3 483.1,753.6 483.5,751.6 483.9,752.1 484.2,753.2 484.5,749.7 484.8,748.2 485.1,748.0 485.4,745.0 485.7,743.4 486.0,742.2 486.3,741.3 486.6,741.2 486.9,745.5 487.3,748.3 487.6,751.2 487.9,754.4 488.2,755.8 488.5,758.2 488.8,758.5 489.2,760.8 489.5,762.4 489.8,762.8 490.1,764.9 490.4,766.4 490.8,765.4 491.1,764.6 491.4,765.3 491.7,764.6 492.1,765.9 492.4,766.6 492.7,765.1 493.0,765.6 493.4,766.6 493.7,765.0 494.0,765.5 494.4,764.3 494.7,764.3 495.1,764.5 495.4,766.8 495.7,763.4 496.0,762.2 496.4,761.1 496.7,760.4 497.0,760.1 497.3,759.1 497.6,760.1 497.9,757.8 498.2,758.3 498.5,756.7 498.8,756.4 499.1,753.9 499.4,753.9 499.7,752.7 500.0,751.3 500.4,748.4 500.7,749.9 501.0,747.6 501.3,746.3 501.6,745.5 501.9,744.5 502.3,744.1 502.6,741.6 502.9,740.9 503.2,741.0 503.6,739.8 503.9,738.4 504.2,739.6 504.5,740.7 504.9,742.8 505.2,745.3 505.5,744.6 505.8,748.3 506.1,748.9 506.5,749.0 506.8,751.4 507.1,750.7 507.4,752.1 507.7,754.2 508.1,756.7 508.4,758.5 508.7,760.0 509.0,760.3 509.3,758.0 509.6,760.0 510.0,758.0 510.3,758.4 510.6,758.3 510.9,757.4 511.2,757.8 511.5,758.8 511.9,760.3 512.2,761.5 512.5,762.1 512.8,759.6 513.1,758.7 513.4,757.6 513.7,757.7 514.0,754.4 514.3,756.3 514.6,753.7 514.9,753.8 515.3,755.2 515.6,756.2 516.0,756.0 516.3,757.0 516.6,756.6 517.0,758.0 517.3,758.4 517.6,757.5 517.9,759.2 518.2,758.4 518.5,758.6 518.8,758.0 519.1,758.9 519.4,760.2 519.7,757.2 520.0,757.9 520.3,756.6 520.6,755.5 520.9,752.2 521.2,753.0 521.5,752.6 521.8,750.7 522.1,750.8 522.5,748.0 522.8,750.1 523.1,748.3 523.4,749.0 523.7,746.0 524.0,747.6 524.3,746.2 524.7,746.5 525.0,744.3 525.3,743.9 525.6,748.2 525.9,747.2 526.3,749.0 526.6,751.1 526.9,752.2 527.2,755.2 527.5,756.8 527.8,755.6 528.1,755.8 528.4,759.4 528.7,760.4 529.0,761.2 529.3,761.3 529.6,759.3 529.9,759.6 530.2,758.3 530.5,758.1 530.8,760.0 531.1,758.3 531.4,760.7 531.7,758.5 532.0,755.2 532.3,753.8 532.7,752.0 533.0,748.2 533.3,744.0 533.6,745.6 533.9,746.7 534.3,745.1 534.6,745.0 534.9,746.8 535.2,746.2 535.5,745.2 535.9,746.0 536.2,745.9 536.5,747.0 536.8,747.8 537.1,749.7 537.5,750.2 537.8,749.1 538.1,751.9 538.4,753.3 538.7,753.8 539.1,755.3 539.4,754.8 539.7,755.4 540.0,757.9 540.3,756.8 540.7,756.6 541.0,760.2 541.3,759.3 541.6,760.5 541.9,760.2 542.3,761.0 542.6,761.9 542.9,763.4 543.2,764.3 543.5,762.3 543.8,765.3 544.1,763.9 544.4,764.3 544.7,766.2 545.0,765.8 545.3,763.4 545.6,765.4 545.9,761.9 546.2,761.8 546.5,760.7 546.8,760.7 547.1,758.0 547.4,759.6 547.7,758.3 548.0,760.3 548.4,758.9 548.7,759.6 549.0,761.9 549.3,760.8 549.6,758.7 549.9,758.8 550.3,755.2 550.6,752.3 550.9,751.8 551.2,748.3 551.6,748.5 551.9,746.7 552.2,745.9 552.5,746.8 552.9,748.3 553.2,749.1 553.5,749.0 553.8,749.6 554.1,746.3 554.5,746.9 554.8,746.1 555.1,745.4 555.4,748.2 555.7,749.2 556.1,753.1 556.4,754.8 556.7,756.7 557.2,758.2 557.6,760.5 557.9,759.0 558.2,754.9 558.6,752.9 558.9,750.9 559.2,751.9 559.5,753.4 559.9,752.8 560.2,753.2 560.5,756.1 560.8,753.3 561.1,751.9 561.5,748.8 561.8,747.7 562.1,745.3 562.4,743.7 562.7,742.1 563.0,740.6 563.4,739.0 563.7,737.6 564.0,736.9 564.4,736.8 564.7,740.1 565.1,739.7 565.4,742.0 565.8,742.3 566.1,742.8 566.4,745.5 566.8,744.0 567.1,743.8 567.4,745.0 567.8,747.8 568.1,752.5 568.5,753.3 568.8,751.8 569.1,747.9 569.4,747.0 569.7,745.1 570.1,749.1 570.4,749.8 570.8,753.9 571.1,756.6 571.4,756.0 571.7,757.6 572.1,758.0 572.4,756.8 572.7,760.0 573.0,759.4 573.3,758.0 573.6,756.7 574.0,758.7 574.3,757.0 574.6,757.2 574.9,757.0 575.2,756.5 575.6,759.0 575.9,759.3 576.2,758.2 576.5,756.9 576.9,755.7 577.2,755.4 577.5,753.2 577.8,754.7 578.1,756.3 578.5,758.5 578.8,759.1 579.1,761.1 579.4,761.3 579.8,760.6 580.1,760.7 580.5,760.0 580.8,762.1 581.1,761.2 581.5,760.2 581.8,759.5 582.1,761.2 582.4,759.2 582.8,758.5 583.1,758.5 583.4,758.2 583.7,758.8 584.0,757.2 584.4,758.8 584.7,755.8 585.0,756.9 585.3,755.9 585.6,758.9 585.9,757.4 586.2,758.1 586.5,759.5 586.8,760.2 587.1,758.6 587.4,759.7 587.7,759.2 588.0,760.9 588.3,761.0 588.7,761.1 589.0,761.2 589.3,761.8 589.6,761.7 589.9,763.2 590.3,764.4 590.6,761.6 590.9,763.6 591.2,763.6 591.5,764.7 591.9,763.7 592.2,764.7 592.5,764.1 592.9,766.0 593.2,765.7 593.5,765.8 593.8,765.8 594.1,764.7 594.4,763.1 594.7,764.5 595.0,763.8 595.3,762.9 595.6,763.4 595.9,763.2 596.2,760.6 596.6,761.0 596.9,763.2 597.2,763.1 597.6,761.3 597.9,761.0 598.3,761.5 598.6,761.1 598.9,759.6 599.2,760.5 599.6,758.8 599.9,758.4 600.2,759.8 600.5,757.8 600.8,757.9 601.1,758.1 601.5,757.8 601.8,756.4 602.1,756.3 602.4,755.1 602.7,757.0 603.1,755.5 603.4,753.5 603.7,754.1 604.0,755.0 604.4,755.1 604.7,756.6 605.0,756.4 605.3,755.0 605.6,755.7 606.0,754.9 606.3,756.5 606.6,755.9 606.9,757.6 607.2,754.6 607.6,752.1 607.9,752.8 608.2,752.9 608.5,751.1 608.8,750.9 609.1,750.7 609.5,750.8 609.8,749.7 610.1,748.5 610.4,750.2 610.7,749.1 611.1,749.3 611.4,748.7 611.7,749.4 612.0,750.8 612.3,749.0 612.7,750.5 613.0,751.4 613.3,750.6 613.6,751.0 613.9,749.6 614.2,751.7 614.5,751.3 614.8,750.4 615.1,748.5 615.4,749.0 615.7,751.0 616.0,751.9 616.4,750.8 616.7,751.9 617.0,750.4 617.3,751.0 617.6,751.4 618.0,752.0 618.3,750.4 618.6,752.8 618.9,753.8 619.2,752.2 619.6,752.7 619.9,754.9 620.2,754.6 620.5,753.7 620.8,757.2 621.2,757.3 621.5,757.3 621.8,760.3 622.1,759.0 622.4,758.7 622.8,759.9 623.1,759.4 623.4,760.1 623.7,761.6 624.0,761.3 624.4,761.8 624.7,764.2 625.0,764.0 625.3,763.9 625.6,763.5 625.9,763.4 626.2,764.2 626.5,762.8 626.8,764.4 627.1,761.8 627.4,762.1 627.8,760.7 628.1,761.2 628.5,761.6 628.8,762.0 629.1,759.7 629.5,759.9 629.8,759.2 630.1,758.9 630.4,758.5 630.7,759.7 631.0,758.2 631.3,759.9 631.6,759.9 631.9,759.3 632.2,759.0 632.5,758.8 632.8,762.1 633.1,759.7 633.5,762.8 633.8,762.4 634.1,762.0 634.5,761.7 634.8,764.2 635.1,765.3 635.4,762.3 635.8,762.4 636.1,763.1 636.5,761.9 636.8,762.9 637.1,760.0 637.5,760.5 637.8,758.4 638.1,761.2 638.4,758.5 638.8,757.0 639.1,758.7 639.4,758.6 639.7,760.3 640.0,758.1 640.4,758.2 640.7,758.6 641.0,759.3 641.3,757.2 641.6,757.5 641.9,756.3 642.2,754.9 642.5,754.5 642.8,753.8 643.1,752.3 643.4,753.8 643.8,751.1 644.1,753.0 644.5,752.4 644.8,751.0 645.1,750.0 645.5,750.1 645.8,750.3 646.1,750.2 646.4,749.4 646.8,749.7 647.1,748.0 647.4,748.3 647.7,746.4 648.1,748.1 648.4,747.2 648.7,746.3 649.0,748.1 649.3,748.0 649.7,745.2 650.0,748.1 650.3,747.1 650.6,749.8 650.9,751.9 651.2,750.1 651.6,751.4 651.9,752.0 652.2,753.4 652.5,754.5 652.8,755.9 653.2,754.7 653.5,757.9 653.8,756.5 654.1,758.2 654.4,759.6 654.7,759.8 655.0,758.9 655.3,759.7 655.6,760.6 655.9,761.6 656.2,762.3 656.5,759.8 656.8,761.1 657.1,760.9 657.4,760.6 657.7,760.2 658.0,760.9 658.3,759.6 658.6,759.7 658.9,758.8 659.3,759.3 659.6,755.4 660.0,757.7 660.3,755.7 660.6,755.0 661.0,753.8 661.3,752.4 661.6,753.1 661.9,752.2 662.3,752.6 662.6,750.1 662.9,752.1 663.2,750.4 663.6,749.2 663.9,748.2 664.2,747.9 664.5,747.4 664.9,747.7 665.2,748.0 665.5,747.6 665.8,746.3 666.1,747.1 666.5,746.3 666.8,747.1 667.1,748.4 667.4,747.5 667.8,746.9 668.1,746.0 668.5,746.5 668.8,746.5 669.1,748.9 669.5,747.8 669.8,748.9 670.1,748.5 670.4,749.3 670.7,750.8 671.0,749.1 671.3,749.7 671.6,749.5 671.9,751.2 672.2,749.7 672.5,749.9 672.8,748.9 673.1,748.1 673.4,749.1 673.7,750.2 674.0,746.2 674.3,747.2 674.6,745.8 674.9,744.6 675.2,745.4 675.5,745.4 675.8,745.0 676.1,747.3 676.4,743.9 676.7,745.9 677.0,744.0 677.3,741.2 677.7,740.0 678.0,738.7 678.3,736.1 678.6,735.5 678.9,734.8 679.2,731.4 679.6,733.7 679.9,733.5 680.2,731.4 680.5,730.5 680.8,728.8 681.1,730.4 681.4,730.2 681.7,730.9 682.0,732.8 682.3,731.6 682.6,732.7 682.9,731.7 683.2,733.9 683.5,734.7 683.8,734.6 684.1,735.2 684.4,738.2 684.7,736.0 685.0,736.3 685.3,736.7 685.6,738.6 686.0,739.6 686.3,738.1 686.6,737.3 686.9,737.7 687.2,740.0 687.5,739.1 687.8,742.1 688.2,743.0 688.5,742.7 688.8,744.1 689.1,738.8 689.5,734.2 689.8,733.4 690.1,736.9 690.5,737.0 690.8,738.1 691.1,740.4 691.4,741.0 691.7,741.2 692.0,741.6 692.4,743.1 692.7,746.2 693.0,747.6 693.3,747.3 693.6,747.4 693.9,745.6 694.3,745.6 694.6,745.6 694.9,744.0 695.2,743.8 695.6,744.4 695.9,743.7 696.2,742.6 696.5,743.4 696.8,742.3 697.1,743.0 697.4,741.6 697.7,740.9 698.0,740.8 698.3,740.0 698.6,739.1 699.0,739.5 699.3,740.8 699.6,740.9 700.0,741.7 700.4,739.8 700.7,741.8 701.0,742.7 701.4,744.1 701.7,743.0 702.1,742.4 702.4,743.0 702.8,741.9 703.1,740.2 703.4,743.6 703.8,744.5 704.1,744.3 704.5,746.8 704.8,746.6 705.1,749.0 705.5,748.5 705.8,748.6 706.1,749.7 706.5,750.0 706.8,751.6 707.1,752.0 707.4,752.2 707.7,752.1 708.0,749.7 708.3,753.5 708.6,752.1 708.9,754.4 709.2,754.9 709.5,753.7 709.8,752.8 710.1,752.6 710.5,752.3 710.8,751.6 711.1,751.2 711.4,750.6 711.7,752.1 712.0,750.7 712.3,752.1 712.7,751.6 713.0,752.5 713.3,752.9 713.7,754.0 714.0,754.9 714.3,753.6 714.6,751.9 714.9,751.0 715.2,752.3 715.5,749.7 715.8,748.9 716.1,749.6 716.4,748.4 716.7,747.1 717.0,747.8 717.4,751.8 717.7,751.5 718.1,753.2 718.4,754.0 718.7,753.2 719.0,753.6 719.3,755.4 719.6,755.7 719.9,755.4 720.2,754.9 720.5,754.9 720.8,755.7 721.1,754.6 721.4,756.5 721.7,756.6 722.0,758.0 722.3,756.1 722.6,754.6 722.9,754.2 723.2,751.7 723.5,754.2 723.8,754.5 724.1,755.5 724.4,755.1 724.8,755.0 725.1,754.6 725.4,754.9 725.7,755.6 726.0,753.2 726.3,753.4 726.7,752.3 727.0,754.6 727.3,754.0 727.7,753.1 728.0,751.0 728.4,752.9 728.7,753.2 729.0,754.2 729.4,754.6 729.7,756.5 730.0,756.8 730.4,759.2 730.7,759.8 731.1,761.4 731.4,763.6 731.8,765.4 732.1,768.5 732.5,765.7 732.8,764.3 733.1,761.8 733.5,759.0 733.8,759.8 734.2,756.6 734.5,756.8 734.9,755.2 735.2,752.0 735.5,751.1 735.9,750.0 736.2,748.3 736.6,746.4 736.9,746.7 737.2,745.1 737.6,744.9 737.9,743.5 738.3,743.5 738.6,741.8 739.0,740.1 739.5,738.3 739.9,744.0 740.3,749.7 740.6,750.9 741.0,753.9 741.3,755.8 741.6,753.6 742.0,751.4 742.4,750.9 742.7,750.9 743.0,748.0 743.4,748.2 743.7,747.8 744.1,744.7 744.4,746.7" fill="none" stroke="#606060" stroke-width="0.8" stroke-linejoin="round"/>
<text transform="translate(444.47,699.40) scale(1.1734,1)" font-family="Liberation Sans, sans-serif" font-size="13.43">0.4</text>
<text transform="translate(444.46,770.00) scale(1.1915,1)" font-family="Liberation Sans, sans-serif" font-size="13.43">0.2</text>
<text transform="translate(464.13,852.40) scale(1.1551,1)" font-family="Liberation Sans, sans-serif" font-size="14.43">0</text>
<text transform="translate(531.06,852.40) scale(1.0931,1)" font-family="Liberation Sans, sans-serif" font-size="14.64">5</text>
<text transform="translate(592.92,852.40) scale(1.0465,1)" font-family="Liberation Sans, sans-serif" font-size="14.43">10</text>
<text transform="translate(658.77,852.40) scale(1.0299,1)" font-family="Liberation Sans, sans-serif" font-size="14.64">15</text>
<text transform="translate(724.80,852.40) scale(1.0345,1)" font-family="Liberation Sans, sans-serif" font-size="14.43">20</text>
<text transform="translate(552.32,874.00) scale(1.1226,1)" font-family="Liberation Sans, sans-serif" font-size="16.55">time (days)</text>
<text transform="translate(432.20,855.16) rotate(-90) scale(1.0091,1)" font-family="Liberation Sans, sans-serif" font-size="18.34">stem cell-entrocyte ratio</text>
<text transform="translate(0.03,415.80) scale(0.9855,1)" font-family="Liberation Sans, sans-serif" font-size="21.45" font-weight="bold">D</text>
<g fill="none" stroke="#3048aa" stroke-width="0.6"><circle cx="72.9" cy="549.2" r="3.49"/><circle cx="127.3" cy="568.0" r="3.55"/><circle cx="22.8" cy="465.1" r="3.55"/><circle cx="135.2" cy="494.6" r="3.70"/><circle cx="45.2" cy="488.7" r="3.40"/><circle cx="59.1" cy="514.0" r="3.72"/><circle cx="114.4" cy="469.8" r="3.61"/><circle cx="57.1" cy="451.0" r="3.88"/><circle cx="80.7" cy="501.4" r="3.89"/><circle cx="15.1" cy="524.4" r="3.96"/><circle cx="104.5" cy="492.3" r="3.87"/><circle cx="76.1" cy="568.5" r="3.74"/><circle cx="49.0" cy="494.8" r="3.88"/><circle cx="109.5" cy="481.1" r="3.98"/><circle cx="51.8" cy="549.0" r="3.65"/><circle cx="66.7" cy="499.1" r="3.84"/><circle cx="23.1" cy="477.8" r="3.74"/><circle cx="58.2" cy="475.7" r="3.97"/><circle cx="34.1" cy="568.3" r="3.62"/><circle cx="48.1" cy="568.4" r="3.70"/><circle cx="101.7" cy="525.1" r="3.80"/><circle cx="40.5" cy="470.4" r="3.79"/><circle cx="70.1" cy="531.1" r="3.50"/><circle cx="135.4" cy="466.4" r="3.80"/><circle cx="136.4" cy="480.5" r="3.73"/><circle cx="101.6" cy="511.2" r="3.71"/><circle cx="79.5" cy="487.5" r="3.73"/><circle cx="37.4" cy="476.7" r="3.78"/><circle cx="27.1" cy="568.0" r="3.48"/><circle cx="135.5" cy="459.0" r="3.98"/><circle cx="79.2" cy="520.8" r="3.62"/><circle cx="25.8" cy="446.3" r="3.41"/><circle cx="85.6" cy="450.3" r="3.74"/><circle cx="109.3" cy="464.9" r="3.97"/><circle cx="91.5" cy="568.2" r="3.67"/><circle cx="122.7" cy="534.4" r="3.98"/><circle cx="5.7" cy="550.5" r="3.98"/><circle cx="78.1" cy="450.4" r="3.62"/><circle cx="67.2" cy="524.8" r="3.38"/><circle cx="19.1" cy="498.6" r="3.56"/><circle cx="92.9" cy="499.9" r="3.93"/><circle cx="123.6" cy="526.2" r="3.63"/><circle cx="84.7" cy="476.3" r="3.52"/><circle cx="42.2" cy="507.1" r="3.55"/><circle cx="121.0" cy="472.8" r="3.75"/><circle cx="70.7" cy="493.4" r="3.75"/><circle cx="76.0" cy="506.4" r="3.88"/><circle cx="101.8" cy="457.4" r="3.90"/><circle cx="30.3" cy="477.0" r="3.61"/><circle cx="110.9" cy="495.1" r="3.73"/><circle cx="94.0" cy="506.7" r="3.58"/><circle cx="112.0" cy="543.0" r="3.76"/><circle cx="34.7" cy="519.2" r="3.58"/><circle cx="113.4" cy="509.0" r="3.57"/><circle cx="33.9" cy="555.1" r="4.07"/><circle cx="16.6" cy="468.0" r="3.75"/><circle cx="122.2" cy="452.2" r="3.85"/><circle cx="122.9" cy="494.1" r="4.13"/><circle cx="122.6" cy="459.2" r="3.87"/><circle cx="71.4" cy="511.5" r="3.73"/><circle cx="38.5" cy="513.2" r="3.76"/><circle cx="7.3" cy="458.4" r="3.64"/><circle cx="90.8" cy="531.9" r="3.91"/><circle cx="103.2" cy="518.2" r="3.70"/><circle cx="117.3" cy="497.9" r="4.01"/><circle cx="51.6" cy="561.0" r="3.70"/><circle cx="40.9" cy="543.3" r="3.70"/><circle cx="89.9" cy="465.2" r="3.69"/><circle cx="108.9" cy="457.8" r="3.84"/><circle cx="136.0" cy="558.5" r="3.78"/><circle cx="26.1" cy="458.9" r="3.96"/><circle cx="69.6" cy="543.2" r="3.67"/><circle cx="122.4" cy="487.0" r="3.79"/><circle cx="62.0" cy="481.7" r="4.04"/><circle cx="77.5" cy="514.0" r="3.71"/><circle cx="5.1" cy="564.4" r="3.83"/><circle cx="98.1" cy="442.4" r="3.99"/><circle cx="127.4" cy="469.7" r="3.83"/><circle cx="112.6" cy="533.9" r="3.65"/><circle cx="128.7" cy="498.0" r="3.44"/><circle cx="97.3" cy="482.3" r="4.11"/><circle cx="41.1" cy="569.0" r="3.81"/><circle cx="108.8" cy="474.1" r="3.94"/><circle cx="37.9" cy="525.3" r="3.68"/><circle cx="120.2" cy="567.8" r="4.02"/><circle cx="13.1" cy="531.1" r="3.83"/><circle cx="110.9" cy="527.2" r="3.76"/><circle cx="27.1" cy="531.0" r="3.61"/><circle cx="55.5" cy="543.0" r="3.81"/><circle cx="51.3" cy="476.1" r="3.68"/><circle cx="96.8" cy="520.1" r="3.72"/><circle cx="26.7" cy="543.5" r="3.51"/><circle cx="62.2" cy="555.0" r="3.68"/><circle cx="5.7" cy="557.5" r="3.77"/><circle cx="41.0" cy="555.1" r="3.56"/><circle cx="64.1" cy="450.7" r="3.76"/><circle cx="18.8" cy="491.7" r="3.85"/><circle cx="87.3" cy="504.2" r="3.70"/><circle cx="55.2" cy="555.0" r="3.66"/><circle cx="105.4" cy="499.3" r="3.66"/><circle cx="90.4" cy="472.2" r="3.89"/><circle cx="60.5" cy="444.3" r="3.52"/><circle cx="121.8" cy="479.9" r="3.70"/><circle cx="94.1" cy="537.9" r="3.69"/><circle cx="112.3" cy="443.2" r="3.77"/><circle cx="53.9" cy="457.4" r="3.74"/><circle cx="78.5" cy="473.3" r="3.58"/><circle cx="28.3" cy="507.2" r="4.06"/><circle cx="135.7" cy="487.5" r="3.78"/><circle cx="37.4" cy="549.2" r="3.55"/><circle cx="36.7" cy="464.5" r="3.62"/><circle cx="18.2" cy="512.8" r="3.76"/><circle cx="44.5" cy="537.4" r="3.84"/><circle cx="102.3" cy="561.2" r="3.55"/><circle cx="97.6" cy="556.1" r="3.86"/><circle cx="21.9" cy="452.3" r="3.54"/><circle cx="62.6" cy="543.0" r="3.63"/><circle cx="58.6" cy="526.0" r="3.88"/><circle cx="98.9" cy="496.5" r="4.01"/><circle cx="67.5" cy="442.8" r="3.74"/><circle cx="77.6" cy="466.3" r="3.70"/><circle cx="117.4" cy="538.9" r="3.94"/><circle cx="101.5" cy="450.5" r="3.59"/><circle cx="55.1" cy="482.0" r="3.79"/><circle cx="65.1" cy="475.3" r="3.78"/><circle cx="55.0" cy="531.7" r="3.90"/><circle cx="19.6" cy="484.4" r="3.79"/><circle cx="36.1" cy="452.1" r="3.71"/><circle cx="41.3" cy="482.7" r="3.84"/><circle cx="48.2" cy="482.4" r="3.58"/><circle cx="48.1" cy="531.5" r="3.87"/><circle cx="85.1" cy="483.3" r="3.65"/><circle cx="135.3" cy="534.5" r="3.61"/><circle cx="108.3" cy="513.5" r="3.69"/><circle cx="112.9" cy="554.9" r="3.76"/><circle cx="107.5" cy="537.8" r="3.86"/><circle cx="86.3" cy="497.2" r="3.72"/><circle cx="125.4" cy="504.2" r="3.86"/><circle cx="100.3" cy="504.0" r="3.90"/><circle cx="69.3" cy="555.1" r="3.73"/><circle cx="13.2" cy="461.9" r="3.60"/><circle cx="73.8" cy="499.7" r="3.89"/><circle cx="31.6" cy="513.2" r="3.79"/><circle cx="24.9" cy="501.5" r="3.43"/><circle cx="65.9" cy="515.0" r="3.60"/><circle cx="106.8" cy="506.6" r="3.77"/><circle cx="42.0" cy="495.0" r="3.54"/><circle cx="105.0" cy="531.2" r="3.65"/><circle cx="76.8" cy="480.9" r="3.49"/><circle cx="27.8" cy="519.0" r="3.81"/><circle cx="128.6" cy="538.3" r="3.79"/><circle cx="60.8" cy="457.0" r="3.78"/><circle cx="44.4" cy="476.4" r="3.97"/><circle cx="116.6" cy="560.9" r="3.70"/><circle cx="20.2" cy="567.4" r="3.71"/><circle cx="98.5" cy="568.4" r="4.05"/><circle cx="32.7" cy="445.8" r="3.55"/><circle cx="58.8" cy="549.0" r="3.86"/><circle cx="44.6" cy="561.0" r="3.55"/><circle cx="119.9" cy="554.7" r="3.79"/><circle cx="59.3" cy="537.0" r="4.07"/><circle cx="136.1" cy="527.5" r="3.79"/><circle cx="84.0" cy="531.5" r="3.63"/><circle cx="95.1" cy="513.5" r="4.11"/><circle cx="73.3" cy="537.3" r="3.67"/><circle cx="49.2" cy="507.2" r="3.72"/><circle cx="57.6" cy="463.4" r="3.80"/><circle cx="128.1" cy="448.2" r="3.55"/><circle cx="37.5" cy="561.0" r="3.92"/><circle cx="136.4" cy="541.5" r="3.99"/><circle cx="102.2" cy="464.3" r="3.86"/><circle cx="48.1" cy="555.0" r="3.80"/><circle cx="91.0" cy="479.3" r="3.73"/><circle cx="55.3" cy="519.8" r="3.88"/><circle cx="58.9" cy="488.0" r="3.28"/><circle cx="68.5" cy="469.1" r="3.73"/><circle cx="6.1" cy="465.5" r="3.79"/><circle cx="74.6" cy="443.8" r="3.45"/><circle cx="135.7" cy="451.8" r="3.81"/><circle cx="39.6" cy="445.5" r="3.73"/><circle cx="108.6" cy="450.7" r="3.74"/><circle cx="65.9" cy="549.1" r="3.77"/><circle cx="35.3" cy="507.2" r="3.84"/><circle cx="128.6" cy="455.4" r="3.82"/><circle cx="6.8" cy="513.8" r="3.59"/><circle cx="45.4" cy="513.3" r="3.73"/><circle cx="136.5" cy="501.7" r="3.72"/><circle cx="43.7" cy="464.1" r="3.76"/><circle cx="118.6" cy="504.6" r="3.66"/><circle cx="87.1" cy="549.7" r="3.90"/><circle cx="110.2" cy="488.1" r="3.95"/><circle cx="88.8" cy="511.1" r="3.98"/><circle cx="55.1" cy="567.9" r="4.04"/><circle cx="102.5" cy="471.3" r="3.97"/><circle cx="6.0" cy="520.9" r="3.68"/><circle cx="60.1" cy="501.6" r="3.66"/><circle cx="51.5" cy="537.5" r="3.69"/><circle cx="65.9" cy="487.6" r="3.83"/><circle cx="24.7" cy="512.9" r="3.73"/><circle cx="31.4" cy="489.2" r="3.90"/><circle cx="83.5" cy="555.5" r="4.00"/><circle cx="58.6" cy="561.0" r="3.69"/><circle cx="109.8" cy="520.4" r="3.90"/><circle cx="87.1" cy="561.6" r="3.69"/><circle cx="117.7" cy="529.5" r="3.56"/><circle cx="104.6" cy="544.0" r="3.56"/><circle cx="90.6" cy="555.8" r="3.70"/><circle cx="47.5" cy="470.1" r="3.47"/><circle cx="113.1" cy="568.7" r="3.82"/><circle cx="35.1" cy="495.2" r="3.98"/><circle cx="13.3" cy="502.3" r="3.58"/><circle cx="128.7" cy="462.7" r="3.70"/><circle cx="76.6" cy="543.4" r="3.98"/><circle cx="103.7" cy="485.3" r="3.80"/><circle cx="74.1" cy="525.3" r="3.78"/><circle cx="84.1" cy="469.3" r="3.71"/><circle cx="6.5" cy="484.5" r="3.90"/><circle cx="28.0" cy="495.4" r="3.80"/><circle cx="96.7" cy="475.3" r="3.59"/><circle cx="81.7" cy="443.4" r="3.39"/><circle cx="30.6" cy="537.2" r="3.35"/><circle cx="136.1" cy="565.6" r="3.85"/><circle cx="26.1" cy="471.3" r="3.71"/><circle cx="71.6" cy="462.8" r="3.97"/><circle cx="27.4" cy="483.3" r="3.83"/><circle cx="92.0" cy="447.7" r="3.56"/><circle cx="44.8" cy="525.4" r="3.79"/><circle cx="24.7" cy="489.3" r="3.93"/><circle cx="13.3" cy="517.5" r="3.61"/><circle cx="26.7" cy="555.0" r="3.67"/><circle cx="33.8" cy="543.3" r="4.01"/><circle cx="76.3" cy="555.2" r="3.49"/><circle cx="65.6" cy="561.0" r="3.59"/><circle cx="127.7" cy="514.0" r="3.91"/><circle cx="131.2" cy="507.8" r="3.78"/><circle cx="105.2" cy="443.1" r="3.58"/><circle cx="95.3" cy="454.0" r="3.53"/><circle cx="121.3" cy="511.0" r="3.82"/><circle cx="126.1" cy="551.6" r="3.93"/><circle cx="6.0" cy="498.6" r="3.87"/><circle cx="19.2" cy="443.3" r="3.81"/><circle cx="50.7" cy="463.7" r="3.97"/><circle cx="19.9" cy="529.7" r="3.80"/><circle cx="81.9" cy="456.1" r="3.63"/><circle cx="39.9" cy="458.1" r="4.05"/><circle cx="33.5" cy="470.8" r="3.56"/><circle cx="41.6" cy="519.3" r="3.73"/><circle cx="13.7" cy="546.6" r="3.74"/><circle cx="96.2" cy="468.2" r="3.96"/><circle cx="84.1" cy="515.9" r="3.64"/><circle cx="82.3" cy="509.0" r="3.71"/><circle cx="13.1" cy="495.2" r="3.48"/><circle cx="63.2" cy="508.4" r="3.80"/><circle cx="97.7" cy="543.9" r="3.82"/><circle cx="29.8" cy="464.9" r="3.85"/><circle cx="56.2" cy="507.6" r="3.61"/><circle cx="6.7" cy="451.5" r="3.79"/><circle cx="19.4" cy="505.9" r="3.62"/><circle cx="37.5" cy="537.3" r="3.68"/><circle cx="62.1" cy="568.6" r="3.74"/><circle cx="69.3" cy="505.1" r="3.94"/><circle cx="128.2" cy="476.8" r="3.68"/><circle cx="48.5" cy="519.5" r="3.78"/><circle cx="7.2" cy="491.5" r="3.62"/><circle cx="115.2" cy="453.3" r="3.66"/><circle cx="12.7" cy="509.3" r="3.64"/><circle cx="17.7" cy="536.1" r="3.73"/><circle cx="133.2" cy="551.6" r="3.86"/><circle cx="105.9" cy="568.1" r="3.58"/><circle cx="52.1" cy="488.4" r="3.86"/><circle cx="16.8" cy="474.9" r="3.61"/><circle cx="50.1" cy="451.3" r="3.80"/><circle cx="45.8" cy="501.0" r="3.67"/><circle cx="117.6" cy="547.5" r="3.70"/><circle cx="61.4" cy="469.4" r="3.69"/><circle cx="13.2" cy="553.5" r="3.91"/><circle cx="128.7" cy="530.9" r="3.79"/><circle cx="83.5" cy="462.5" r="3.91"/><circle cx="20.1" cy="519.3" r="3.69"/><circle cx="19.7" cy="542.8" r="3.71"/><circle cx="72.7" cy="561.1" r="3.99"/><circle cx="19.3" cy="458.9" r="3.50"/><circle cx="90.7" cy="543.8" r="3.61"/><circle cx="87.2" cy="537.8" r="3.72"/><circle cx="10.6" cy="471.5" r="4.02"/><circle cx="115.3" cy="476.9" r="3.65"/><circle cx="109.5" cy="561.0" r="3.87"/><circle cx="128.8" cy="490.9" r="3.98"/><circle cx="103.1" cy="478.3" r="3.71"/><circle cx="97.9" cy="531.1" r="3.72"/><circle cx="29.0" cy="452.6" r="4.00"/><circle cx="6.0" cy="505.6" r="3.66"/><circle cx="13.3" cy="487.9" r="3.59"/><circle cx="136.6" cy="513.6" r="3.87"/><circle cx="89.9" cy="519.5" r="3.67"/><circle cx="128.1" cy="521.1" r="3.94"/><circle cx="55.9" cy="494.8" r="3.83"/><circle cx="105.8" cy="555.2" r="3.48"/><circle cx="5.4" cy="543.7" r="3.79"/><circle cx="23.5" cy="561.1" r="3.75"/><circle cx="38.8" cy="501.1" r="3.65"/><circle cx="80.3" cy="537.5" r="3.91"/><circle cx="78.7" cy="494.5" r="3.48"/><circle cx="72.0" cy="475.1" r="3.56"/><circle cx="62.1" cy="520.4" r="3.67"/><circle cx="79.7" cy="561.2" r="3.86"/><circle cx="129.4" cy="545.6" r="3.51"/><circle cx="69.0" cy="481.2" r="3.65"/><circle cx="120.2" cy="465.8" r="3.64"/><circle cx="7.2" cy="535.0" r="3.52"/><circle cx="51.7" cy="525.6" r="3.69"/><circle cx="80.0" cy="549.5" r="3.57"/><circle cx="89.1" cy="458.0" r="3.68"/><circle cx="44.5" cy="549.2" r="3.79"/><circle cx="62.7" cy="493.7" r="3.61"/><circle cx="136.4" cy="473.4" r="3.61"/><circle cx="98.0" cy="489.4" r="3.60"/><circle cx="83.2" cy="568.8" r="3.62"/><circle cx="13.4" cy="569.0" r="3.51"/><circle cx="13.5" cy="454.9" r="3.57"/><circle cx="34.4" cy="483.0" r="3.76"/><circle cx="24.2" cy="524.7" r="3.61"/><circle cx="135.0" cy="443.7" r="4.24"/><circle cx="5.4" cy="444.1" r="3.62"/><circle cx="53.5" cy="443.1" r="3.81"/><circle cx="14.4" cy="560.3" r="3.52"/><circle cx="91.5" cy="486.2" r="3.70"/><circle cx="5.1" cy="477.5" r="3.66"/><circle cx="12.4" cy="539.7" r="3.73"/><circle cx="13.5" cy="480.9" r="3.94"/><circle cx="41.1" cy="531.4" r="3.72"/><circle cx="85.8" cy="490.3" r="3.56"/><circle cx="116.0" cy="483.9" r="3.76"/><circle cx="38.3" cy="489.0" r="3.60"/><circle cx="46.9" cy="457.7" r="3.73"/><circle cx="119.2" cy="445.8" r="3.99"/><circle cx="101.2" cy="550.0" r="3.89"/><circle cx="22.6" cy="549.2" r="3.91"/><circle cx="111.9" cy="502.1" r="3.83"/><circle cx="116.5" cy="522.7" r="3.75"/><circle cx="30.3" cy="549.2" r="3.52"/><circle cx="92.2" cy="493.2" r="3.68"/><circle cx="31.0" cy="525.1" r="3.67"/><circle cx="34.1" cy="531.2" r="3.85"/><circle cx="71.1" cy="450.6" r="3.90"/><circle cx="74.9" cy="456.6" r="3.82"/><circle cx="66.3" cy="537.1" r="3.63"/><circle cx="77.1" cy="531.4" r="4.03"/><circle cx="33.0" cy="458.5" r="3.96"/><circle cx="109.1" cy="549.2" r="3.72"/><circle cx="48.0" cy="543.3" r="3.78"/><circle cx="128.7" cy="483.8" r="3.85"/><circle cx="72.8" cy="486.8" r="3.77"/><circle cx="43.1" cy="451.7" r="3.74"/><circle cx="31.8" cy="501.2" r="3.82"/><circle cx="67.8" cy="456.8" r="3.75"/><circle cx="52.3" cy="513.5" r="3.78"/><circle cx="85.0" cy="524.6" r="3.51"/><circle cx="72.1" cy="518.6" r="3.51"/><circle cx="13.3" cy="448.0" r="4.01"/><circle cx="121.8" cy="518.1" r="3.52"/><circle cx="6.5" cy="527.8" r="3.82"/><circle cx="115.6" cy="460.4" r="3.80"/><circle cx="115.1" cy="515.8" r="3.78"/><circle cx="123.0" cy="542.9" r="3.65"/><circle cx="95.8" cy="461.1" r="3.90"/><circle cx="19.7" cy="555.5" r="3.80"/><circle cx="69.1" cy="568.2" r="3.70"/><circle cx="63.1" cy="531.0" r="3.54"/><circle cx="94.2" cy="549.9" r="3.72"/><circle cx="54.5" cy="469.7" r="3.66"/><circle cx="93.2" cy="525.7" r="3.56"/><circle cx="30.5" cy="561.0" r="3.81"/><circle cx="46.5" cy="444.1" r="3.84"/><circle cx="83.7" cy="543.7" r="3.88"/><circle cx="64.6" cy="463.1" r="3.77"/><circle cx="24.0" cy="537.2" r="3.71"/><circle cx="136.0" cy="520.5" r="3.92"/><circle cx="100.8" cy="537.5" r="3.87"/><circle cx="116.6" cy="490.9" r="4.10"/><circle cx="53.0" cy="501.2" r="3.84"/><circle cx="126.2" cy="558.7" r="3.61"/></g>
<g fill="#00dd00"><circle cx="17.8" cy="445.3" r="3.92"/><circle cx="48" cy="466.2" r="2.54"/><circle cx="49.9" cy="471.5" r="3.70"/><circle cx="48" cy="474.9" r="3.07"/><circle cx="30.2" cy="485.9" r="2.43"/><circle cx="33.6" cy="488.6" r="4.13"/><circle cx="5.8" cy="502.2" r="3.70"/><circle cx="63.4" cy="494.8" r="4.66"/><circle cx="69.1" cy="496.7" r="4.23"/><circle cx="47" cy="504.6" r="3.17"/><circle cx="94.5" cy="452.8" r="2.96"/><circle cx="99.8" cy="455.2" r="4.13"/><circle cx="97.8" cy="460" r="3.92"/><circle cx="122.3" cy="449.2" r="2.96"/><circle cx="126.2" cy="461.7" r="4.34"/><circle cx="99" cy="469.6" r="3.17"/><circle cx="107" cy="466.9" r="1.69"/><circle cx="109.4" cy="469.1" r="1.69"/><circle cx="131" cy="486.9" r="2.11"/><circle cx="133.8" cy="506.6" r="3.70"/><circle cx="47" cy="506.9" r="3.70"/><circle cx="48" cy="512.6" r="4.13"/><circle cx="45.1" cy="516.5" r="4.66"/><circle cx="41.3" cy="520.3" r="4.66"/><circle cx="49" cy="519.4" r="4.66"/><circle cx="50.4" cy="525.6" r="4.13"/><circle cx="25.4" cy="530.1" r="3.92"/><circle cx="8.2" cy="533.8" r="3.39"/><circle cx="17.8" cy="548.6" r="4.34"/><circle cx="29.8" cy="546.2" r="3.39"/><circle cx="29.3" cy="550.6" r="2.64"/><circle cx="5.8" cy="551.5" r="4.34"/><circle cx="5.8" cy="557.8" r="4.34"/><circle cx="8.6" cy="558.7" r="3.70"/><circle cx="14.9" cy="559.7" r="4.13"/><circle cx="20.6" cy="562.6" r="4.13"/><circle cx="25.4" cy="563" r="4.66"/><circle cx="23.5" cy="567.8" r="3.17"/><circle cx="37.4" cy="564" r="3.17"/><circle cx="55.2" cy="555.4" r="4.66"/><circle cx="67.7" cy="555.8" r="4.13"/><circle cx="63.4" cy="563.5" r="2.64"/><circle cx="20.2" cy="508" r="1.37"/><circle cx="83.4" cy="539" r="3.17"/><circle cx="86.8" cy="537.6" r="2.96"/><circle cx="91.6" cy="534.2" r="2.11"/><circle cx="73.4" cy="557.3" r="4.66"/><circle cx="114.2" cy="554.9" r="2.96"/><circle cx="109.4" cy="560.2" r="3.17"/><circle cx="108.9" cy="565" r="2.96"/><circle cx="112.2" cy="569.8" r="3.17"/></g>
<g fill="#8a1a8c"><circle cx="14.4" cy="478.5" r="2.96"/><circle cx="24.8" cy="473.7" r="1.37"/><circle cx="42.4" cy="490.2" r="4.66"/><circle cx="38.9" cy="501.8" r="4.45"/><circle cx="93.7" cy="447" r="4.66"/><circle cx="122.8" cy="444.2" r="2.64"/><circle cx="112" cy="445.9" r="1.37"/><circle cx="129.3" cy="472" r="1.37"/><circle cx="29.8" cy="568.1" r="4.13"/><circle cx="109.4" cy="525.1" r="2.64"/><circle cx="133.8" cy="533.8" r="2.11"/><circle cx="126.8" cy="542.6" r="2.11"/></g>
<g fill="#ff1010"><circle cx="126.7" cy="534.5" r="1.04"/><circle cx="69.8" cy="539.2" r="1.28"/><circle cx="126.2" cy="546.7" r="1.03"/><circle cx="30.7" cy="481.1" r="1.17"/><circle cx="86.9" cy="479.6" r="0.98"/><circle cx="99.1" cy="478.6" r="1.26"/><circle cx="101.4" cy="481.9" r="1.23"/><circle cx="33.7" cy="474.9" r="1.30"/><circle cx="23.5" cy="541.2" r="0.91"/><circle cx="62.3" cy="485.7" r="1.24"/><circle cx="95.0" cy="479.0" r="1.04"/><circle cx="6.2" cy="513.4" r="1.05"/><circle cx="78.3" cy="454.4" r="1.07"/><circle cx="135.9" cy="461.4" r="0.85"/><circle cx="104.1" cy="503.3" r="1.24"/><circle cx="82.5" cy="442.8" r="1.10"/><circle cx="105.4" cy="551.5" r="0.85"/><circle cx="58.9" cy="518.0" r="1.17"/><circle cx="42.1" cy="511.2" r="0.86"/><circle cx="8.3" cy="539.5" r="0.99"/><circle cx="31.2" cy="521.1" r="1.13"/><circle cx="93.3" cy="521.8" r="1.03"/><circle cx="91.6" cy="461.4" r="0.83"/><circle cx="24.2" cy="504.9" r="1.11"/><circle cx="70.5" cy="527.1" r="0.98"/><circle cx="56.4" cy="503.5" r="0.99"/><circle cx="123.6" cy="514.4" r="0.88"/><circle cx="73.2" cy="541.3" r="0.89"/><circle cx="20.8" cy="510.5" r="1.30"/><circle cx="95.9" cy="564.2" r="1.10"/><circle cx="55.3" cy="535.4" r="1.09"/><circle cx="136.4" cy="527.5" r="1.19"/><circle cx="131.0" cy="459.0" r="0.99"/><circle cx="33.9" cy="551.2" r="0.88"/><circle cx="125.6" cy="498.8" r="1.10"/><circle cx="115.1" cy="443.1" r="1.00"/><circle cx="114.0" cy="538.6" r="1.00"/><circle cx="77.0" cy="489.6" r="0.84"/><circle cx="46.7" cy="453.6" r="1.01"/><circle cx="48.1" cy="563.5" r="0.83"/><circle cx="44.5" cy="545.3" r="1.25"/><circle cx="124.6" cy="564.8" r="0.99"/><circle cx="41.0" cy="478.6" r="1.16"/><circle cx="109.3" cy="553.1" r="1.09"/><circle cx="81.8" cy="466.1" r="1.02"/><circle cx="19.8" cy="471.4" r="0.97"/><circle cx="44.6" cy="566.1" r="0.82"/><circle cx="112.9" cy="546.6" r="1.13"/><circle cx="62.6" cy="523.7" r="0.85"/><circle cx="82.0" cy="529.2" r="0.92"/><circle cx="19.7" cy="526.3" r="1.28"/><circle cx="74.4" cy="495.9" r="0.99"/><circle cx="9.2" cy="454.9" r="0.98"/><circle cx="63.0" cy="527.2" r="1.14"/><circle cx="58.9" cy="529.5" r="0.93"/><circle cx="19.8" cy="522.8" r="0.98"/><circle cx="26.5" cy="475.4" r="0.95"/><circle cx="102.3" cy="565.9" r="1.15"/><circle cx="16.1" cy="528.4" r="0.84"/><circle cx="43.1" cy="447.1" r="0.99"/><circle cx="9.0" cy="487.9" r="1.30"/><circle cx="105.5" cy="481.5" r="1.12"/><circle cx="23.0" cy="545.2" r="1.04"/><circle cx="51.8" cy="484.3" r="0.94"/><circle cx="133.4" cy="538.1" r="0.81"/><circle cx="83.5" cy="504.8" r="1.25"/><circle cx="59.5" cy="510.0" r="1.26"/><circle cx="58.5" cy="479.8" r="1.29"/><circle cx="37.1" cy="472.7" r="1.04"/><circle cx="108.0" cy="502.7" r="1.10"/></g>
<g fill="none" stroke="#3048aa" stroke-width="0.6"><circle cx="314.0" cy="441.9" r="3.63"/><circle cx="319.3" cy="453.3" r="3.79"/><circle cx="459.2" cy="491.0" r="3.50"/><circle cx="262.1" cy="579.1" r="3.85"/><circle cx="396.3" cy="574.9" r="3.92"/><circle cx="431.7" cy="477.9" r="3.68"/><circle cx="298.2" cy="386.6" r="3.81"/><circle cx="251.8" cy="385.8" r="3.79"/><circle cx="322.1" cy="405.5" r="3.69"/><circle cx="418.1" cy="632.0" r="3.62"/><circle cx="388.5" cy="486.9" r="3.45"/><circle cx="285.7" cy="501.3" r="3.96"/><circle cx="359.0" cy="560.4" r="3.74"/><circle cx="413.7" cy="505.8" r="4.13"/><circle cx="352.5" cy="412.2" r="3.87"/><circle cx="414.4" cy="556.3" r="3.79"/><circle cx="505.0" cy="422.3" r="3.65"/><circle cx="424.6" cy="464.1" r="3.96"/><circle cx="346.8" cy="384.5" r="3.67"/><circle cx="290.9" cy="537.3" r="3.99"/><circle cx="337.8" cy="578.3" r="3.69"/><circle cx="369.3" cy="463.7" r="3.78"/><circle cx="483.1" cy="385.9" r="3.52"/><circle cx="448.2" cy="468.7" r="4.10"/><circle cx="329.0" cy="422.2" r="3.74"/><circle cx="481.8" cy="437.7" r="3.69"/><circle cx="368.3" cy="544.3" r="3.87"/><circle cx="424.3" cy="538.6" r="3.62"/><circle cx="267.2" cy="528.5" r="3.87"/><circle cx="266.1" cy="491.8" r="3.57"/><circle cx="296.2" cy="524.4" r="3.83"/><circle cx="477.1" cy="494.3" r="3.59"/><circle cx="423.2" cy="476.1" r="3.47"/><circle cx="461.6" cy="397.5" r="3.66"/><circle cx="407.1" cy="601.4" r="3.53"/><circle cx="348.4" cy="473.4" r="3.83"/><circle cx="375.4" cy="591.0" r="3.75"/><circle cx="398.6" cy="601.3" r="3.83"/><circle cx="464.3" cy="478.0" r="3.76"/><circle cx="355.8" cy="542.5" r="3.70"/><circle cx="480.0" cy="513.7" r="3.75"/><circle cx="405.1" cy="584.1" r="3.91"/><circle cx="460.3" cy="633.7" r="3.72"/><circle cx="376.0" cy="378.8" r="3.64"/><circle cx="425.5" cy="598.5" r="3.60"/><circle cx="332.5" cy="440.2" r="3.72"/><circle cx="376.1" cy="426.1" r="3.64"/><circle cx="298.9" cy="559.1" r="4.03"/><circle cx="261.9" cy="445.2" r="3.57"/><circle cx="250.7" cy="503.0" r="3.59"/><circle cx="428.0" cy="407.4" r="3.70"/><circle cx="363.7" cy="385.1" r="3.85"/><circle cx="477.7" cy="507.0" r="3.71"/><circle cx="463.5" cy="415.9" r="3.61"/><circle cx="343.7" cy="616.7" r="3.63"/><circle cx="498.6" cy="383.5" r="3.70"/><circle cx="394.8" cy="404.9" r="3.90"/><circle cx="446.5" cy="620.0" r="3.60"/><circle cx="344.8" cy="441.1" r="3.74"/><circle cx="293.6" cy="530.8" r="3.66"/><circle cx="286.8" cy="385.7" r="3.80"/><circle cx="292.0" cy="559.1" r="3.81"/><circle cx="403.2" cy="514.7" r="3.53"/><circle cx="268.7" cy="594.5" r="4.11"/><circle cx="247.3" cy="551.9" r="3.78"/><circle cx="459.6" cy="550.4" r="3.67"/><circle cx="264.8" cy="502.0" r="3.62"/><circle cx="361.3" cy="518.3" r="3.71"/><circle cx="370.7" cy="577.5" r="3.75"/><circle cx="402.7" cy="472.6" r="3.84"/><circle cx="378.8" cy="553.6" r="3.75"/><circle cx="492.0" cy="408.6" r="3.82"/><circle cx="443.5" cy="595.2" r="3.51"/><circle cx="395.5" cy="534.5" r="3.64"/><circle cx="405.5" cy="418.8" r="3.60"/><circle cx="371.6" cy="431.4" r="3.77"/><circle cx="497.5" cy="465.2" r="3.82"/><circle cx="303.8" cy="397.4" r="3.53"/><circle cx="426.7" cy="509.4" r="3.72"/><circle cx="390.8" cy="515.9" r="3.86"/><circle cx="240.7" cy="519.9" r="3.89"/><circle cx="323.9" cy="480.1" r="3.58"/><circle cx="481.3" cy="430.3" r="3.83"/><circle cx="450.5" cy="558.1" r="3.80"/><circle cx="248.3" cy="492.7" r="3.68"/><circle cx="321.2" cy="379.3" r="4.04"/><circle cx="240.5" cy="573.8" r="3.58"/><circle cx="453.7" cy="386.1" r="3.71"/><circle cx="272.6" cy="533.4" r="3.82"/><circle cx="258.8" cy="514.8" r="3.79"/><circle cx="506.5" cy="610.5" r="3.72"/><circle cx="357.1" cy="613.2" r="3.96"/><circle cx="320.5" cy="467.9" r="3.97"/><circle cx="260.6" cy="525.3" r="3.89"/><circle cx="345.7" cy="410.2" r="3.90"/><circle cx="336.7" cy="508.2" r="3.74"/><circle cx="377.4" cy="446.2" r="3.58"/><circle cx="239.6" cy="478.7" r="4.08"/><circle cx="282.1" cy="477.1" r="3.61"/><circle cx="294.8" cy="609.6" r="4.08"/><circle cx="355.8" cy="522.3" r="3.73"/><circle cx="321.0" cy="588.6" r="3.78"/><circle cx="395.2" cy="489.0" r="3.72"/><circle cx="319.0" cy="461.0" r="3.89"/><circle cx="474.7" cy="618.0" r="3.67"/><circle cx="506.4" cy="459.8" r="4.03"/><circle cx="255.3" cy="391.9" r="3.83"/><circle cx="289.5" cy="439.9" r="3.78"/><circle cx="386.5" cy="565.3" r="3.66"/><circle cx="441.0" cy="488.4" r="3.79"/><circle cx="253.0" cy="588.2" r="3.75"/><circle cx="289.3" cy="552.7" r="4.03"/><circle cx="362.2" cy="608.3" r="3.89"/><circle cx="412.1" cy="420.2" r="3.52"/><circle cx="479.0" cy="603.6" r="3.98"/><circle cx="468.1" cy="428.2" r="3.39"/><circle cx="452.4" cy="492.3" r="3.98"/><circle cx="250.1" cy="617.5" r="3.47"/><circle cx="506.2" cy="466.6" r="3.75"/><circle cx="403.5" cy="527.9" r="3.87"/><circle cx="261.6" cy="471.2" r="3.75"/><circle cx="315.3" cy="405.2" r="3.59"/><circle cx="408.7" cy="510.5" r="3.93"/><circle cx="347.4" cy="397.0" r="3.48"/><circle cx="357.7" cy="388.9" r="3.53"/><circle cx="449.6" cy="498.7" r="3.96"/><circle cx="457.4" cy="461.1" r="3.62"/><circle cx="386.8" cy="586.8" r="3.79"/><circle cx="447.6" cy="507.7" r="3.87"/><circle cx="343.1" cy="462.1" r="3.73"/><circle cx="499.4" cy="448.2" r="3.79"/><circle cx="402.7" cy="606.9" r="3.77"/><circle cx="498.4" cy="580.4" r="3.78"/><circle cx="248.3" cy="523.5" r="3.93"/><circle cx="472.1" cy="406.1" r="3.89"/><circle cx="396.8" cy="519.5" r="3.80"/><circle cx="428.0" cy="386.5" r="3.89"/><circle cx="296.9" cy="414.4" r="3.67"/><circle cx="385.1" cy="473.2" r="3.64"/><circle cx="316.4" cy="391.1" r="3.60"/><circle cx="266.0" cy="398.0" r="3.87"/><circle cx="240.8" cy="512.9" r="3.99"/><circle cx="481.3" cy="578.4" r="3.76"/><circle cx="420.5" cy="439.3" r="3.45"/><circle cx="301.6" cy="593.0" r="3.67"/><circle cx="311.9" cy="415.1" r="3.82"/><circle cx="357.7" cy="491.3" r="3.79"/><circle cx="459.7" cy="472.7" r="3.76"/><circle cx="268.2" cy="576.0" r="3.90"/><circle cx="498.4" cy="519.2" r="3.89"/><circle cx="492.4" cy="529.6" r="3.55"/><circle cx="309.7" cy="401.2" r="3.82"/><circle cx="407.8" cy="425.7" r="3.64"/><circle cx="337.8" cy="451.1" r="3.78"/><circle cx="423.8" cy="548.7" r="3.94"/><circle cx="256.5" cy="601.7" r="4.02"/><circle cx="364.8" cy="615.0" r="3.85"/><circle cx="393.6" cy="588.1" r="3.67"/><circle cx="411.9" cy="585.3" r="3.70"/><circle cx="416.3" cy="590.6" r="3.83"/><circle cx="476.7" cy="543.7" r="3.60"/><circle cx="309.9" cy="386.9" r="3.74"/><circle cx="284.9" cy="407.0" r="3.84"/><circle cx="350.7" cy="390.1" r="3.89"/><circle cx="389.8" cy="555.5" r="3.71"/><circle cx="492.0" cy="542.5" r="3.81"/><circle cx="427.5" cy="422.1" r="3.95"/><circle cx="437.1" cy="447.6" r="3.80"/><circle cx="498.4" cy="411.7" r="3.49"/><circle cx="315.6" cy="593.4" r="3.78"/><circle cx="317.3" cy="575.2" r="3.79"/><circle cx="353.6" cy="556.1" r="3.69"/><circle cx="322.1" cy="527.9" r="3.76"/><circle cx="407.3" cy="503.5" r="3.53"/><circle cx="497.2" cy="489.7" r="3.94"/><circle cx="278.6" cy="410.5" r="3.81"/><circle cx="378.1" cy="506.1" r="3.67"/><circle cx="416.0" cy="527.2" r="3.79"/><circle cx="363.2" cy="539.7" r="3.77"/><circle cx="490.5" cy="400.0" r="3.62"/><circle cx="439.7" cy="619.6" r="3.35"/><circle cx="470.2" cy="556.3" r="3.32"/><circle cx="271.2" cy="546.9" r="4.05"/><circle cx="291.3" cy="446.5" r="3.58"/><circle cx="257.7" cy="502.7" r="3.71"/><circle cx="458.5" cy="538.7" r="3.84"/><circle cx="498.7" cy="433.1" r="3.70"/><circle cx="247.4" cy="544.8" r="3.93"/><circle cx="447.9" cy="532.7" r="3.61"/><circle cx="430.3" cy="573.8" r="3.83"/><circle cx="479.7" cy="520.7" r="3.44"/><circle cx="323.6" cy="555.1" r="3.86"/><circle cx="428.7" cy="624.9" r="3.85"/><circle cx="305.6" cy="535.0" r="3.81"/><circle cx="255.3" cy="378.7" r="3.80"/><circle cx="434.2" cy="389.7" r="3.79"/><circle cx="247.7" cy="482.2" r="3.88"/><circle cx="427.8" cy="491.3" r="3.89"/><circle cx="310.5" cy="522.1" r="3.61"/><circle cx="363.2" cy="487.0" r="3.91"/><circle cx="473.0" cy="488.7" r="3.61"/><circle cx="310.0" cy="394.1" r="3.77"/><circle cx="361.5" cy="589.7" r="3.71"/><circle cx="335.4" cy="501.2" r="3.82"/><circle cx="294.0" cy="621.2" r="3.70"/><circle cx="369.2" cy="609.2" r="3.81"/><circle cx="282.3" cy="626.1" r="3.68"/><circle cx="446.9" cy="544.1" r="3.61"/><circle cx="397.4" cy="384.7" r="3.91"/><circle cx="315.4" cy="480.4" r="3.84"/><circle cx="498.5" cy="512.3" r="3.83"/><circle cx="338.4" cy="444.1" r="3.89"/><circle cx="413.6" cy="378.1" r="3.59"/><circle cx="439.1" cy="562.6" r="3.89"/><circle cx="319.1" cy="581.9" r="3.59"/><circle cx="240.6" cy="426.1" r="3.81"/><circle cx="479.4" cy="379.5" r="3.72"/><circle cx="489.7" cy="562.5" r="3.79"/><circle cx="286.1" cy="544.9" r="3.85"/><circle cx="278.6" cy="417.4" r="3.75"/><circle cx="354.1" cy="419.0" r="3.61"/><circle cx="392.3" cy="436.0" r="3.89"/><circle cx="504.7" cy="542.9" r="3.93"/><circle cx="494.9" cy="593.9" r="3.85"/><circle cx="506.2" cy="583.8" r="3.91"/><circle cx="304.2" cy="425.5" r="3.49"/><circle cx="400.7" cy="455.7" r="3.76"/><circle cx="348.3" cy="512.6" r="3.73"/><circle cx="301.1" cy="529.5" r="3.46"/><circle cx="257.4" cy="436.9" r="3.77"/><circle cx="293.2" cy="470.3" r="3.75"/><circle cx="333.0" cy="531.7" r="3.52"/><circle cx="259.7" cy="538.8" r="3.62"/><circle cx="280.2" cy="569.4" r="3.76"/><circle cx="250.2" cy="515.8" r="3.84"/><circle cx="402.4" cy="377.8" r="3.86"/><circle cx="368.6" cy="437.8" r="3.58"/><circle cx="305.9" cy="516.9" r="3.59"/><circle cx="379.8" cy="452.9" r="3.67"/><circle cx="349.0" cy="630.9" r="3.74"/><circle cx="416.2" cy="444.9" r="3.66"/><circle cx="480.7" cy="596.7" r="3.72"/><circle cx="333.3" cy="433.4" r="3.86"/><circle cx="409.2" cy="571.7" r="3.85"/><circle cx="305.1" cy="560.8" r="3.77"/><circle cx="488.4" cy="633.1" r="3.58"/><circle cx="405.5" cy="545.6" r="3.68"/><circle cx="278.9" cy="620.0" r="3.83"/><circle cx="311.1" cy="600.2" r="3.88"/><circle cx="286.4" cy="471.5" r="3.91"/><circle cx="294.4" cy="512.5" r="3.59"/><circle cx="328.5" cy="402.8" r="3.68"/><circle cx="461.4" cy="427.1" r="3.57"/><circle cx="359.7" cy="601.7" r="3.31"/><circle cx="315.9" cy="427.4" r="3.59"/><circle cx="355.4" cy="463.0" r="3.48"/><circle cx="308.8" cy="437.2" r="3.96"/><circle cx="438.8" cy="581.8" r="3.82"/><circle cx="253.7" cy="423.5" r="3.65"/><circle cx="317.4" cy="521.1" r="3.76"/><circle cx="335.8" cy="420.0" r="3.81"/><circle cx="290.4" cy="597.5" r="4.01"/><circle cx="434.4" cy="420.7" r="3.87"/><circle cx="289.2" cy="525.3" r="3.98"/><circle cx="320.9" cy="624.1" r="3.82"/><circle cx="253.4" cy="541.7" r="3.95"/><circle cx="437.9" cy="526.2" r="3.97"/><circle cx="333.7" cy="571.8" r="3.89"/><circle cx="414.6" cy="486.9" r="3.76"/><circle cx="297.3" cy="407.5" r="3.92"/><circle cx="247.2" cy="559.0" r="3.69"/><circle cx="328.0" cy="602.7" r="3.97"/><circle cx="448.3" cy="443.2" r="3.71"/><circle cx="463.3" cy="496.2" r="3.65"/><circle cx="332.9" cy="584.6" r="4.03"/><circle cx="468.9" cy="446.4" r="3.69"/><circle cx="253.1" cy="462.4" r="3.78"/><circle cx="375.2" cy="458.2" r="3.59"/><circle cx="305.4" cy="418.1" r="3.65"/><circle cx="354.9" cy="606.6" r="3.70"/><circle cx="298.6" cy="535.7" r="3.60"/><circle cx="473.4" cy="550.0" r="3.93"/><circle cx="324.1" cy="576.4" r="3.64"/><circle cx="492.1" cy="600.3" r="3.56"/><circle cx="269.2" cy="507.3" r="3.92"/><circle cx="353.5" cy="625.4" r="3.86"/><circle cx="359.1" cy="378.1" r="3.40"/><circle cx="427.5" cy="440.2" r="3.67"/><circle cx="334.3" cy="426.6" r="3.90"/><circle cx="370.7" cy="530.2" r="3.64"/><circle cx="257.0" cy="568.0" r="3.71"/><circle cx="328.0" cy="589.8" r="3.72"/><circle cx="432.0" cy="633.9" r="3.41"/><circle cx="263.0" cy="621.2" r="3.62"/><circle cx="357.0" cy="498.1" r="3.87"/><circle cx="304.0" cy="505.3" r="3.97"/><circle cx="283.0" cy="507.7" r="3.74"/><circle cx="269.3" cy="379.1" r="3.74"/><circle cx="456.6" cy="497.7" r="3.84"/><circle cx="421.4" cy="555.2" r="3.78"/><circle cx="340.2" cy="397.0" r="3.83"/><circle cx="337.5" cy="458.0" r="3.62"/><circle cx="434.1" cy="410.6" r="3.76"/><circle cx="398.4" cy="398.9" r="3.83"/><circle cx="483.3" cy="460.3" r="3.84"/><circle cx="479.9" cy="487.6" r="3.52"/><circle cx="365.2" cy="410.7" r="3.88"/><circle cx="412.4" cy="544.3" r="3.77"/><circle cx="380.1" cy="546.1" r="3.78"/><circle cx="332.6" cy="632.1" r="3.49"/><circle cx="364.3" cy="565.1" r="3.76"/><circle cx="428.9" cy="377.9" r="3.52"/><circle cx="383.3" cy="408.7" r="3.37"/><circle cx="405.5" cy="613.5" r="3.77"/><circle cx="371.8" cy="412.4" r="3.75"/><circle cx="493.0" cy="436.8" r="3.76"/><circle cx="445.5" cy="493.5" r="3.78"/><circle cx="274.1" cy="587.4" r="3.75"/><circle cx="453.5" cy="504.0" r="3.92"/><circle cx="486.3" cy="378.0" r="3.88"/><circle cx="457.3" cy="479.2" r="4.00"/><circle cx="336.9" cy="619.3" r="4.13"/><circle cx="338.9" cy="437.2" r="3.87"/><circle cx="311.6" cy="560.0" r="3.88"/><circle cx="257.7" cy="457.2" r="4.04"/><circle cx="367.7" cy="391.0" r="3.63"/><circle cx="466.5" cy="471.5" r="3.71"/><circle cx="440.6" cy="508.2" r="3.80"/><circle cx="411.7" cy="596.0" r="3.52"/><circle cx="467.5" cy="421.4" r="3.90"/><circle cx="414.1" cy="602.6" r="3.99"/><circle cx="303.2" cy="411.5" r="3.57"/><circle cx="453.3" cy="456.0" r="3.63"/><circle cx="337.9" cy="494.6" r="3.89"/><circle cx="477.6" cy="626.1" r="3.96"/><circle cx="325.3" cy="473.2" r="3.51"/><circle cx="264.4" cy="459.4" r="3.84"/><circle cx="435.7" cy="380.9" r="3.72"/><circle cx="269.2" cy="443.6" r="3.48"/><circle cx="469.6" cy="544.1" r="3.69"/><circle cx="352.4" cy="562.9" r="3.67"/><circle cx="448.0" cy="487.0" r="3.77"/><circle cx="244.6" cy="612.9" r="3.76"/><circle cx="380.8" cy="387.0" r="3.71"/><circle cx="419.3" cy="543.2" r="3.73"/><circle cx="269.9" cy="480.2" r="3.73"/><circle cx="402.2" cy="508.0" r="3.83"/><circle cx="278.9" cy="463.1" r="3.90"/><circle cx="325.5" cy="411.1" r="3.89"/><circle cx="339.1" cy="408.3" r="3.62"/><circle cx="405.4" cy="398.9" r="3.63"/><circle cx="277.7" cy="520.6" r="3.65"/><circle cx="285.8" cy="632.8" r="3.96"/><circle cx="452.1" cy="412.8" r="3.82"/><circle cx="432.4" cy="599.7" r="3.63"/><circle cx="361.5" cy="546.6" r="3.58"/><circle cx="312.9" cy="456.0" r="3.60"/><circle cx="423.2" cy="416.8" r="3.75"/><circle cx="362.4" cy="422.9" r="3.58"/><circle cx="333.7" cy="625.4" r="3.75"/><circle cx="471.2" cy="531.5" r="3.95"/><circle cx="300.1" cy="633.5" r="3.71"/><circle cx="452.6" cy="437.9" r="3.88"/><circle cx="403.4" cy="412.0" r="3.52"/><circle cx="417.4" cy="520.2" r="3.80"/><circle cx="415.0" cy="400.2" r="3.79"/><circle cx="439.3" cy="496.3" r="3.61"/><circle cx="470.6" cy="507.2" r="3.96"/><circle cx="481.1" cy="620.6" r="3.75"/><circle cx="316.1" cy="565.5" r="3.65"/><circle cx="283.5" cy="377.8" r="3.71"/><circle cx="476.1" cy="385.7" r="3.89"/><circle cx="297.7" cy="377.8" r="3.54"/><circle cx="301.4" cy="511.6" r="3.77"/><circle cx="451.6" cy="526.6" r="3.61"/><circle cx="498.4" cy="526.0" r="3.78"/><circle cx="465.7" cy="607.2" r="3.67"/><circle cx="369.2" cy="424.8" r="3.74"/><circle cx="336.0" cy="515.1" r="3.86"/><circle cx="498.7" cy="599.8" r="3.76"/><circle cx="436.8" cy="555.3" r="3.83"/><circle cx="405.0" cy="479.2" r="3.85"/><circle cx="241.2" cy="392.2" r="3.81"/><circle cx="291.6" cy="396.8" r="3.78"/><circle cx="240.6" cy="628.8" r="3.76"/><circle cx="470.4" cy="414.9" r="3.85"/><circle cx="310.6" cy="379.5" r="3.93"/><circle cx="285.9" cy="579.3" r="4.03"/><circle cx="396.5" cy="526.7" r="4.01"/><circle cx="295.6" cy="494.2" r="3.60"/><circle cx="388.8" cy="536.9" r="3.79"/><circle cx="493.5" cy="444.6" r="3.82"/><circle cx="471.3" cy="476.7" r="3.93"/><circle cx="305.9" cy="456.5" r="3.91"/><circle cx="480.4" cy="416.6" r="3.54"/><circle cx="342.4" cy="547.5" r="3.79"/><circle cx="380.2" cy="478.3" r="3.49"/><circle cx="330.3" cy="483.2" r="3.68"/><circle cx="506.6" cy="529.4" r="3.61"/><circle cx="330.1" cy="545.4" r="3.66"/><circle cx="437.3" cy="575.0" r="3.99"/><circle cx="410.0" cy="551.0" r="3.67"/><circle cx="414.9" cy="456.8" r="3.67"/><circle cx="265.9" cy="405.0" r="3.77"/><circle cx="383.2" cy="532.5" r="3.91"/><circle cx="505.6" cy="429.5" r="3.49"/><circle cx="387.0" cy="479.9" r="3.99"/><circle cx="292.4" cy="603.7" r="3.64"/><circle cx="248.4" cy="392.1" r="3.60"/><circle cx="331.0" cy="469.2" r="3.77"/><circle cx="438.8" cy="435.6" r="3.85"/><circle cx="244.7" cy="499.3" r="4.16"/><circle cx="247.6" cy="509.3" r="3.88"/><circle cx="412.0" cy="450.5" r="3.66"/><circle cx="470.2" cy="612.6" r="3.72"/><circle cx="354.8" cy="515.4" r="3.61"/><circle cx="401.9" cy="405.1" r="3.85"/><circle cx="312.3" cy="580.0" r="3.87"/><circle cx="317.6" cy="551.7" r="3.70"/><circle cx="364.5" cy="468.8" r="3.92"/><circle cx="302.3" cy="567.2" r="3.50"/><circle cx="362.1" cy="571.8" r="3.68"/><circle cx="279.8" cy="470.1" r="3.61"/><circle cx="484.4" cy="608.1" r="3.66"/><circle cx="407.9" cy="538.9" r="3.50"/><circle cx="259.0" cy="397.8" r="3.89"/><circle cx="291.4" cy="424.6" r="3.61"/><circle cx="464.0" cy="378.0" r="3.73"/><circle cx="343.5" cy="540.7" r="3.93"/><circle cx="309.3" cy="408.5" r="3.99"/><circle cx="253.9" cy="496.7" r="3.93"/><circle cx="415.2" cy="513.2" r="3.41"/><circle cx="387.7" cy="388.7" r="3.70"/><circle cx="467.3" cy="632.6" r="3.70"/><circle cx="275.2" cy="626.0" r="3.65"/><circle cx="439.0" cy="633.4" r="3.63"/><circle cx="461.9" cy="466.2" r="3.66"/><circle cx="457.8" cy="451.0" r="3.84"/><circle cx="440.0" cy="407.3" r="3.68"/><circle cx="363.9" cy="632.6" r="3.55"/><circle cx="247.6" cy="577.4" r="3.51"/><circle cx="410.3" cy="412.0" r="3.77"/><circle cx="244.7" cy="385.9" r="3.49"/><circle cx="254.6" cy="595.0" r="3.85"/><circle cx="344.2" cy="448.0" r="3.67"/><circle cx="275.2" cy="475.4" r="3.67"/><circle cx="356.8" cy="576.5" r="3.78"/><circle cx="461.5" cy="574.4" r="3.69"/><circle cx="290.0" cy="506.9" r="3.86"/><circle cx="454.6" cy="591.0" r="3.56"/><circle cx="504.9" cy="494.8" r="3.48"/><circle cx="252.6" cy="487.2" r="4.04"/><circle cx="351.7" cy="532.4" r="3.77"/><circle cx="430.5" cy="514.9" r="3.36"/><circle cx="430.2" cy="446.6" r="4.00"/><circle cx="321.6" cy="569.9" r="3.54"/><circle cx="455.1" cy="544.9" r="4.06"/><circle cx="340.7" cy="415.1" r="4.02"/><circle cx="291.8" cy="518.9" r="3.88"/><circle cx="378.4" cy="513.5" r="3.75"/><circle cx="403.6" cy="521.3" r="3.62"/><circle cx="462.7" cy="521.6" r="3.89"/><circle cx="416.9" cy="549.8" r="3.69"/><circle cx="259.3" cy="489.6" r="3.91"/><circle cx="396.7" cy="512.4" r="3.71"/><circle cx="332.4" cy="608.0" r="3.51"/><circle cx="417.9" cy="385.2" r="3.64"/><circle cx="250.9" cy="571.4" r="3.76"/><circle cx="411.2" cy="386.3" r="3.68"/><circle cx="442.6" cy="378.3" r="3.77"/><circle cx="248.3" cy="606.8" r="3.61"/><circle cx="239.9" cy="407.4" r="3.99"/><circle cx="482.7" cy="399.1" r="3.67"/><circle cx="475.8" cy="591.5" r="3.83"/><circle cx="290.7" cy="459.4" r="3.50"/><circle cx="483.9" cy="493.2" r="3.88"/><circle cx="344.8" cy="533.7" r="3.98"/><circle cx="385.0" cy="504.9" r="3.84"/><circle cx="371.2" cy="564.0" r="3.71"/><circle cx="325.9" cy="488.5" r="3.61"/><circle cx="472.7" cy="570.0" r="3.84"/><circle cx="402.5" cy="462.4" r="3.84"/><circle cx="497.7" cy="404.6" r="3.56"/><circle cx="402.3" cy="570.9" r="3.75"/><circle cx="488.2" cy="620.1" r="3.83"/><circle cx="371.0" cy="597.2" r="3.63"/><circle cx="367.8" cy="398.1" r="3.84"/><circle cx="396.7" cy="495.7" r="3.71"/><circle cx="240.9" cy="541.2" r="3.97"/><circle cx="441.0" cy="532.4" r="3.56"/><circle cx="275.7" cy="594.7" r="3.83"/><circle cx="491.8" cy="626.0" r="3.77"/><circle cx="253.7" cy="534.7" r="3.47"/><circle cx="427.7" cy="605.2" r="3.61"/><circle cx="441.6" cy="470.4" r="3.62"/><circle cx="384.6" cy="518.8" r="3.89"/><circle cx="259.8" cy="607.9" r="3.70"/><circle cx="450.0" cy="431.4" r="3.75"/><circle cx="321.0" cy="515.0" r="3.77"/><circle cx="319.4" cy="534.3" r="4.14"/><circle cx="421.8" cy="457.6" r="3.72"/><circle cx="505.9" cy="563.3" r="4.04"/><circle cx="262.7" cy="572.0" r="3.72"/><circle cx="357.7" cy="529.0" r="3.51"/><circle cx="417.9" cy="432.9" r="3.63"/><circle cx="313.1" cy="448.9" r="3.56"/><circle cx="486.3" cy="519.3" r="3.70"/><circle cx="399.3" cy="437.0" r="3.53"/><circle cx="258.8" cy="552.7" r="3.61"/><circle cx="280.9" cy="562.8" r="4.04"/><circle cx="285.6" cy="400.1" r="3.79"/><circle cx="357.7" cy="535.8" r="3.80"/><circle cx="477.2" cy="556.1" r="4.03"/><circle cx="271.1" cy="540.1" r="3.50"/><circle cx="280.0" cy="583.2" r="3.84"/><circle cx="292.7" cy="547.1" r="3.68"/><circle cx="387.4" cy="422.4" r="3.75"/><circle cx="355.4" cy="456.0" r="3.65"/><circle cx="354.7" cy="549.3" r="3.77"/><circle cx="279.8" cy="576.3" r="3.94"/><circle cx="456.9" cy="432.5" r="3.93"/><circle cx="364.3" cy="493.7" r="3.79"/><circle cx="465.8" cy="409.5" r="3.87"/><circle cx="253.0" cy="555.7" r="3.57"/><circle cx="358.9" cy="583.3" r="3.31"/><circle cx="338.7" cy="385.9" r="3.91"/><circle cx="466.3" cy="587.5" r="4.06"/><circle cx="419.0" cy="451.2" r="3.82"/><circle cx="376.2" cy="465.1" r="3.66"/><circle cx="284.6" cy="489.2" r="3.76"/><circle cx="416.4" cy="609.6" r="3.93"/><circle cx="479.2" cy="473.2" r="3.58"/><circle cx="445.7" cy="582.9" r="3.76"/><circle cx="495.4" cy="634.1" r="3.84"/><circle cx="396.4" cy="553.9" r="3.60"/><circle cx="328.7" cy="559.7" r="4.07"/><circle cx="299.8" cy="547.6" r="3.87"/><circle cx="444.8" cy="526.4" r="4.00"/><circle cx="449.6" cy="378.8" r="3.59"/><circle cx="407.1" cy="485.9" r="3.78"/><circle cx="452.8" cy="474.0" r="3.98"/><circle cx="367.0" cy="417.6" r="3.82"/><circle cx="463.3" cy="562.7" r="3.94"/><circle cx="422.4" cy="427.4" r="3.47"/><circle cx="309.5" cy="430.2" r="3.74"/><circle cx="384.7" cy="395.2" r="3.45"/><circle cx="417.8" cy="463.2" r="3.68"/><circle cx="298.6" cy="487.9" r="3.79"/><circle cx="489.0" cy="613.4" r="3.73"/><circle cx="454.6" cy="399.0" r="3.56"/><circle cx="274.6" cy="565.6" r="3.80"/><circle cx="296.0" cy="437.3" r="3.85"/><circle cx="240.8" cy="595.6" r="3.74"/><circle cx="496.0" cy="477.3" r="3.87"/><circle cx="282.2" cy="526.1" r="3.92"/><circle cx="462.6" cy="544.2" r="3.94"/><circle cx="377.6" cy="578.9" r="3.70"/><circle cx="249.5" cy="599.8" r="3.83"/><circle cx="298.8" cy="518.0" r="3.65"/><circle cx="308.4" cy="510.7" r="3.74"/><circle cx="439.0" cy="476.5" r="3.91"/><circle cx="335.8" cy="487.8" r="3.73"/><circle cx="275.7" cy="613.9" r="3.68"/><circle cx="487.6" cy="448.1" r="3.66"/><circle cx="376.3" cy="534.8" r="3.83"/><circle cx="254.8" cy="469.3" r="3.99"/><circle cx="496.8" cy="587.2" r="3.89"/><circle cx="420.6" cy="469.6" r="3.72"/><circle cx="357.7" cy="432.3" r="3.87"/><circle cx="277.8" cy="489.4" r="3.89"/><circle cx="426.1" cy="520.3" r="3.97"/><circle cx="260.3" cy="425.1" r="3.65"/><circle cx="497.7" cy="397.5" r="3.85"/><circle cx="439.8" cy="454.1" r="3.69"/><circle cx="428.2" cy="393.5" r="3.67"/><circle cx="444.4" cy="576.0" r="3.94"/><circle cx="468.6" cy="465.0" r="3.83"/><circle cx="372.1" cy="555.6" r="3.76"/><circle cx="456.6" cy="597.3" r="3.95"/><circle cx="266.5" cy="513.5" r="3.78"/><circle cx="420.9" cy="604.0" r="3.62"/><circle cx="437.6" cy="514.4" r="3.89"/><circle cx="297.9" cy="393.6" r="3.61"/><circle cx="271.8" cy="500.9" r="3.62"/><circle cx="486.2" cy="472.1" r="3.69"/><circle cx="473.3" cy="470.0" r="3.73"/><circle cx="260.8" cy="496.4" r="3.88"/><circle cx="391.6" cy="600.4" r="3.70"/><circle cx="292.3" cy="576.9" r="3.48"/><circle cx="297.7" cy="572.4" r="3.66"/><circle cx="486.5" cy="419.4" r="3.80"/><circle cx="418.6" cy="561.6" r="3.73"/><circle cx="441.9" cy="569.4" r="3.73"/><circle cx="320.4" cy="439.0" r="3.57"/><circle cx="453.3" cy="620.2" r="3.69"/><circle cx="418.8" cy="481.6" r="3.84"/><circle cx="335.0" cy="591.1" r="3.84"/><circle cx="371.7" cy="503.2" r="3.63"/><circle cx="306.8" cy="499.0" r="3.64"/><circle cx="398.5" cy="547.2" r="3.60"/><circle cx="291.5" cy="570.0" r="3.89"/><circle cx="363.4" cy="444.2" r="3.64"/><circle cx="463.1" cy="556.2" r="3.71"/><circle cx="415.5" cy="407.3" r="3.63"/><circle cx="396.7" cy="430.4" r="3.61"/><circle cx="263.1" cy="478.1" r="3.73"/><circle cx="456.6" cy="379.4" r="3.88"/><circle cx="400.5" cy="589.3" r="3.66"/><circle cx="486.6" cy="512.4" r="3.93"/><circle cx="492.7" cy="422.6" r="3.74"/><circle cx="479.3" cy="537.1" r="3.86"/><circle cx="384.3" cy="447.5" r="4.12"/><circle cx="440.7" cy="423.5" r="4.09"/><circle cx="266.6" cy="466.2" r="3.79"/><circle cx="250.2" cy="435.0" r="3.76"/><circle cx="445.7" cy="436.7" r="3.73"/><circle cx="415.0" cy="622.1" r="3.86"/><circle cx="505.9" cy="394.2" r="3.47"/><circle cx="323.8" cy="508.6" r="3.64"/><circle cx="372.7" cy="517.1" r="3.73"/><circle cx="448.4" cy="520.3" r="3.64"/><circle cx="405.2" cy="628.4" r="3.60"/><circle cx="468.2" cy="385.2" r="3.94"/><circle cx="344.5" cy="580.8" r="3.53"/><circle cx="464.8" cy="391.2" r="3.69"/><circle cx="466.1" cy="402.8" r="3.66"/><circle cx="475.7" cy="482.1" r="3.68"/><circle cx="342.7" cy="516.9" r="3.59"/><circle cx="475.4" cy="526.1" r="3.86"/><circle cx="325.1" cy="457.3" r="3.73"/><circle cx="396.8" cy="633.5" r="4.01"/><circle cx="502.9" cy="590.3" r="3.55"/><circle cx="410.0" cy="531.7" r="3.77"/><circle cx="401.4" cy="619.0" r="3.56"/><circle cx="331.5" cy="454.1" r="3.78"/><circle cx="376.3" cy="610.2" r="3.93"/><circle cx="369.9" cy="489.2" r="3.58"/><circle cx="422.0" cy="379.2" r="3.90"/><circle cx="379.0" cy="618.4" r="3.63"/><circle cx="326.8" cy="436.1" r="3.58"/><circle cx="291.0" cy="410.7" r="3.80"/><circle cx="505.0" cy="436.6" r="3.86"/><circle cx="400.9" cy="559.0" r="3.77"/><circle cx="285.0" cy="557.8" r="3.80"/><circle cx="330.4" cy="596.3" r="3.74"/><circle cx="409.2" cy="444.1" r="3.67"/><circle cx="302.5" cy="439.6" r="3.43"/><circle cx="476.8" cy="610.3" r="3.69"/><circle cx="381.9" cy="440.8" r="3.64"/><circle cx="421.6" cy="403.7" r="3.83"/><circle cx="416.5" cy="576.3" r="3.63"/><circle cx="285.0" cy="427.6" r="4.05"/><circle cx="485.4" cy="540.1" r="3.84"/><circle cx="462.1" cy="445.7" r="3.69"/><circle cx="279.0" cy="545.3" r="3.85"/><circle cx="393.5" cy="482.2" r="3.71"/><circle cx="379.9" cy="585.6" r="3.94"/><circle cx="326.1" cy="443.2" r="3.69"/><circle cx="342.1" cy="379.6" r="3.97"/><circle cx="310.0" cy="462.3" r="3.59"/><circle cx="404.3" cy="386.4" r="3.77"/><circle cx="351.0" cy="430.7" r="3.74"/><circle cx="264.3" cy="438.6" r="3.62"/><circle cx="298.1" cy="444.9" r="3.70"/><circle cx="285.9" cy="434.2" r="3.75"/><circle cx="407.8" cy="456.2" r="3.57"/><circle cx="386.9" cy="543.8" r="3.62"/><circle cx="350.5" cy="405.1" r="3.82"/><circle cx="384.5" cy="580.1" r="3.64"/><circle cx="409.0" cy="405.0" r="3.99"/><circle cx="304.2" cy="574.0" r="3.99"/><circle cx="253.2" cy="548.7" r="3.68"/><circle cx="492.4" cy="508.9" r="3.80"/><circle cx="288.5" cy="494.9" r="3.83"/><circle cx="304.0" cy="390.4" r="3.86"/><circle cx="425.0" cy="630.9" r="3.67"/><circle cx="498.3" cy="539.5" r="3.86"/><circle cx="277.5" cy="444.6" r="3.67"/><circle cx="349.1" cy="424.0" r="3.74"/><circle cx="463.3" cy="613.7" r="3.94"/><circle cx="260.0" cy="531.9" r="3.74"/><circle cx="314.0" cy="586.7" r="3.61"/><circle cx="402.9" cy="577.6" r="3.66"/><circle cx="460.6" cy="385.5" r="3.80"/><circle cx="263.6" cy="602.0" r="3.64"/><circle cx="349.0" cy="545.2" r="3.60"/><circle cx="395.9" cy="505.3" r="3.77"/><circle cx="390.6" cy="508.9" r="3.61"/><circle cx="384.8" cy="512.0" r="4.07"/><circle cx="506.6" cy="596.7" r="3.65"/><circle cx="505.8" cy="452.7" r="3.85"/><circle cx="297.6" cy="400.6" r="3.53"/><circle cx="310.6" cy="422.8" r="3.70"/><circle cx="346.9" cy="558.7" r="3.87"/><circle cx="264.6" cy="484.9" r="3.83"/><circle cx="277.2" cy="482.3" r="3.85"/><circle cx="386.2" cy="618.5" r="3.66"/><circle cx="505.2" cy="515.7" r="3.78"/><circle cx="329.3" cy="395.8" r="3.72"/><circle cx="296.0" cy="463.9" r="3.54"/><circle cx="402.0" cy="490.9" r="3.92"/><circle cx="326.7" cy="628.2" r="3.65"/><circle cx="245.6" cy="413.2" r="3.72"/><circle cx="263.6" cy="557.6" r="3.88"/><circle cx="465.9" cy="569.0" r="3.85"/><circle cx="265.5" cy="419.1" r="4.14"/><circle cx="412.1" cy="628.5" r="3.74"/><circle cx="349.9" cy="451.9" r="3.97"/><circle cx="440.1" cy="386.3" r="3.73"/><circle cx="371.8" cy="615.5" r="3.76"/><circle cx="299.5" cy="625.3" r="3.91"/><circle cx="297.0" cy="506.1" r="3.85"/><circle cx="307.5" cy="444.6" r="3.68"/><circle cx="304.2" cy="382.7" r="3.74"/><circle cx="304.3" cy="612.5" r="3.78"/><circle cx="316.8" cy="508.2" r="4.00"/><circle cx="399.0" cy="625.4" r="3.64"/><circle cx="384.1" cy="525.7" r="3.79"/><circle cx="256.5" cy="575.1" r="3.84"/><circle cx="350.9" cy="489.5" r="3.77"/><circle cx="489.1" cy="478.2" r="3.68"/><circle cx="486.7" cy="533.4" r="3.88"/><circle cx="331.7" cy="385.9" r="3.61"/><circle cx="286.6" cy="482.6" r="4.04"/><circle cx="317.7" cy="541.1" r="3.36"/><circle cx="274.0" cy="438.4" r="3.46"/><circle cx="317.0" cy="420.0" r="3.78"/><circle cx="488.6" cy="465.5" r="3.85"/><circle cx="477.3" cy="456.7" r="3.82"/><circle cx="357.6" cy="567.1" r="3.66"/><circle cx="381.3" cy="401.7" r="3.73"/><circle cx="423.1" cy="591.8" r="3.76"/><circle cx="429.8" cy="415.5" r="3.62"/><circle cx="424.9" cy="433.8" r="3.70"/><circle cx="433.5" cy="508.6" r="3.61"/><circle cx="393.6" cy="455.6" r="3.93"/><circle cx="276.7" cy="456.4" r="3.81"/><circle cx="422.1" cy="390.3" r="3.69"/><circle cx="415.6" cy="393.1" r="3.70"/><circle cx="287.6" cy="591.8" r="3.68"/><circle cx="293.1" cy="632.9" r="3.70"/><circle cx="408.0" cy="621.5" r="3.79"/><circle cx="343.5" cy="507.5" r="3.70"/><circle cx="454.5" cy="426.1" r="3.68"/><circle cx="316.8" cy="492.2" r="3.81"/><circle cx="414.8" cy="537.7" r="3.73"/><circle cx="400.8" cy="501.1" r="3.75"/><circle cx="265.9" cy="535.5" r="3.76"/><circle cx="319.6" cy="485.8" r="3.72"/><circle cx="330.8" cy="578.0" r="3.58"/><circle cx="323.4" cy="595.2" r="3.72"/><circle cx="263.1" cy="564.7" r="3.93"/><circle cx="309.9" cy="540.7" r="3.62"/><circle cx="378.7" cy="625.8" r="3.63"/><circle cx="296.1" cy="541.7" r="3.69"/><circle cx="401.4" cy="392.6" r="3.69"/><circle cx="341.9" cy="632.6" r="3.96"/><circle cx="359.3" cy="619.6" r="3.71"/><circle cx="297.7" cy="427.8" r="3.93"/><circle cx="443.1" cy="430.2" r="3.87"/><circle cx="255.9" cy="621.5" r="3.86"/><circle cx="487.0" cy="499.1" r="3.85"/><circle cx="398.2" cy="582.7" r="3.81"/><circle cx="486.1" cy="573.5" r="3.83"/><circle cx="384.8" cy="599.0" r="3.93"/><circle cx="331.5" cy="476.3" r="3.45"/><circle cx="339.8" cy="585.9" r="3.81"/><circle cx="486.2" cy="526.3" r="3.93"/><circle cx="378.2" cy="471.7" r="3.65"/><circle cx="344.5" cy="492.3" r="3.75"/><circle cx="282.9" cy="614.2" r="3.88"/><circle cx="285.8" cy="464.5" r="3.49"/><circle cx="350.1" cy="611.8" r="3.80"/><circle cx="365.6" cy="558.1" r="3.59"/><circle cx="455.1" cy="467.5" r="3.79"/><circle cx="272.6" cy="407.0" r="3.81"/><circle cx="357.3" cy="595.1" r="3.79"/><circle cx="273.0" cy="399.4" r="3.60"/><circle cx="313.8" cy="625.0" r="3.75"/><circle cx="373.0" cy="451.6" r="3.66"/><circle cx="460.3" cy="620.0" r="3.80"/><circle cx="272.8" cy="385.6" r="3.69"/><circle cx="285.5" cy="392.7" r="3.62"/><circle cx="430.0" cy="612.1" r="3.89"/><circle cx="380.6" cy="420.8" r="3.57"/><circle cx="262.3" cy="431.8" r="3.67"/><circle cx="420.1" cy="508.1" r="3.91"/><circle cx="492.5" cy="515.8" r="3.80"/><circle cx="429.4" cy="428.5" r="3.88"/><circle cx="504.8" cy="603.6" r="3.60"/><circle cx="434.4" cy="396.7" r="3.78"/><circle cx="332.2" cy="408.6" r="3.62"/><circle cx="453.2" cy="632.1" r="3.48"/><circle cx="390.0" cy="493.8" r="3.84"/><circle cx="258.9" cy="404.6" r="3.60"/><circle cx="335.5" cy="402.2" r="3.77"/><circle cx="492.7" cy="459.9" r="3.61"/><circle cx="411.8" cy="480.6" r="3.83"/><circle cx="338.6" cy="604.7" r="3.84"/><circle cx="425.5" cy="482.4" r="3.60"/><circle cx="421.5" cy="488.2" r="3.60"/><circle cx="281.4" cy="495.5" r="3.35"/><circle cx="362.4" cy="462.2" r="3.68"/><circle cx="461.8" cy="484.5" r="3.71"/><circle cx="266.8" cy="608.2" r="3.64"/><circle cx="380.5" cy="604.5" r="3.85"/><circle cx="273.3" cy="515.1" r="3.74"/><circle cx="322.9" cy="398.8" r="3.75"/><circle cx="446.1" cy="563.7" r="3.65"/><circle cx="331.5" cy="461.1" r="3.52"/><circle cx="462.2" cy="593.2" r="3.76"/><circle cx="433.0" cy="549.4" r="3.88"/><circle cx="409.7" cy="524.6" r="3.93"/><circle cx="281.4" cy="451.1" r="3.77"/><circle cx="363.3" cy="525.1" r="3.56"/><circle cx="467.7" cy="619.3" r="3.70"/><circle cx="407.7" cy="557.7" r="3.77"/><circle cx="256.3" cy="476.0" r="3.58"/><circle cx="374.8" cy="541.7" r="3.69"/><circle cx="366.3" cy="450.2" r="3.65"/><circle cx="370.5" cy="444.6" r="3.63"/><circle cx="348.0" cy="551.9" r="3.59"/><circle cx="458.8" cy="608.3" r="3.79"/><circle cx="379.8" cy="566.8" r="3.83"/><circle cx="470.8" cy="458.9" r="3.93"/><circle cx="498.8" cy="440.3" r="3.71"/><circle cx="474.8" cy="576.8" r="3.76"/><circle cx="441.4" cy="442.1" r="3.49"/><circle cx="245.1" cy="567.9" r="3.79"/><circle cx="241.1" cy="580.8" r="3.95"/><circle cx="290.6" cy="378.0" r="3.63"/><circle cx="375.5" cy="633.2" r="3.82"/><circle cx="320.9" cy="633.0" r="3.67"/><circle cx="269.0" cy="433.5" r="3.83"/><circle cx="493.2" cy="470.8" r="3.86"/><circle cx="347.0" cy="623.0" r="3.53"/><circle cx="288.5" cy="452.8" r="3.61"/><circle cx="375.0" cy="484.3" r="3.64"/><circle cx="505.4" cy="401.2" r="3.72"/><circle cx="430.0" cy="593.0" r="3.95"/><circle cx="486.1" cy="484.4" r="3.75"/><circle cx="271.9" cy="619.8" r="3.77"/><circle cx="435.7" cy="625.7" r="3.78"/><circle cx="329.3" cy="513.0" r="3.65"/><circle cx="337.0" cy="465.5" r="3.91"/><circle cx="356.7" cy="402.0" r="3.83"/><circle cx="363.7" cy="578.2" r="3.87"/><circle cx="449.7" cy="626.1" r="3.79"/><circle cx="323.3" cy="392.1" r="3.54"/><circle cx="366.0" cy="584.4" r="3.83"/><circle cx="356.8" cy="442.0" r="3.65"/><circle cx="405.7" cy="496.7" r="3.61"/><circle cx="389.8" cy="467.9" r="4.15"/><circle cx="255.2" cy="520.8" r="3.89"/><circle cx="464.0" cy="459.4" r="3.69"/><circle cx="409.6" cy="607.9" r="3.87"/><circle cx="279.9" cy="385.8" r="3.92"/><circle cx="369.6" cy="537.0" r="3.78"/><circle cx="480.2" cy="549.8" r="3.69"/><circle cx="470.7" cy="625.7" r="3.90"/><circle cx="339.4" cy="529.2" r="3.86"/><circle cx="305.6" cy="487.3" r="3.85"/><circle cx="486.9" cy="426.4" r="3.50"/><circle cx="432.8" cy="452.9" r="3.82"/><circle cx="418.5" cy="583.1" r="4.06"/><circle cx="352.0" cy="378.2" r="3.59"/><circle cx="474.1" cy="598.5" r="3.69"/><circle cx="297.3" cy="598.6" r="3.63"/><circle cx="460.5" cy="503.5" r="3.67"/><circle cx="452.4" cy="584.5" r="3.73"/><circle cx="375.2" cy="439.5" r="4.05"/><circle cx="342.4" cy="422.0" r="3.70"/><circle cx="422.2" cy="567.1" r="3.99"/><circle cx="340.5" cy="561.3" r="3.61"/><circle cx="349.0" cy="466.0" r="3.84"/><circle cx="322.8" cy="563.2" r="3.74"/><circle cx="445.4" cy="411.4" r="3.69"/><circle cx="276.1" cy="391.5" r="3.79"/><circle cx="368.5" cy="590.8" r="3.95"/><circle cx="349.1" cy="503.4" r="3.81"/><circle cx="504.5" cy="570.1" r="3.85"/><circle cx="276.0" cy="508.6" r="3.76"/><circle cx="390.8" cy="500.8" r="3.82"/><circle cx="303.1" cy="619.4" r="3.81"/><circle cx="495.3" cy="620.0" r="3.88"/><circle cx="278.7" cy="502.1" r="3.73"/><circle cx="481.8" cy="466.9" r="3.66"/><circle cx="410.9" cy="462.3" r="3.68"/><circle cx="293.3" cy="584.0" r="3.68"/><circle cx="349.3" cy="459.0" r="3.83"/><circle cx="311.1" cy="504.4" r="3.63"/><circle cx="370.8" cy="384.6" r="3.86"/><circle cx="459.4" cy="439.1" r="3.79"/><circle cx="364.1" cy="596.2" r="3.94"/><circle cx="501.6" cy="616.8" r="3.79"/><circle cx="481.3" cy="632.2" r="3.92"/><circle cx="295.9" cy="451.5" r="3.82"/><circle cx="275.1" cy="527.0" r="3.78"/><circle cx="422.9" cy="526.5" r="3.71"/><circle cx="337.2" cy="597.8" r="3.83"/><circle cx="308.5" cy="480.9" r="3.77"/><circle cx="485.5" cy="601.6" r="3.66"/><circle cx="391.2" cy="448.7" r="3.68"/><circle cx="311.4" cy="474.5" r="3.46"/><circle cx="389.8" cy="429.2" r="3.93"/><circle cx="376.6" cy="407.1" r="3.93"/><circle cx="453.0" cy="551.7" r="3.68"/><circle cx="349.8" cy="576.3" r="3.56"/><circle cx="370.9" cy="496.2" r="3.85"/><circle cx="285.8" cy="572.8" r="3.92"/><circle cx="464.2" cy="531.0" r="3.75"/><circle cx="482.7" cy="590.1" r="3.65"/><circle cx="240.4" cy="485.8" r="3.94"/><circle cx="444.0" cy="448.7" r="3.89"/><circle cx="498.4" cy="553.1" r="3.91"/><circle cx="470.0" cy="434.7" r="4.04"/><circle cx="454.5" cy="573.5" r="3.75"/><circle cx="300.0" cy="586.2" r="3.78"/><circle cx="506.0" cy="443.8" r="4.06"/><circle cx="336.0" cy="550.0" r="3.88"/><circle cx="466.9" cy="516.0" r="4.13"/><circle cx="446.8" cy="604.0" r="3.36"/><circle cx="394.5" cy="391.1" r="3.52"/><circle cx="498.6" cy="425.9" r="3.84"/><circle cx="493.5" cy="451.7" r="3.82"/><circle cx="351.9" cy="582.7" r="3.58"/><circle cx="361.9" cy="437.4" r="3.61"/><circle cx="475.8" cy="463.5" r="3.61"/><circle cx="359.6" cy="504.5" r="3.84"/><circle cx="471.2" cy="582.7" r="3.53"/><circle cx="309.2" cy="566.5" r="3.72"/><circle cx="315.9" cy="398.1" r="3.63"/><circle cx="343.5" cy="478.4" r="3.29"/><circle cx="325.9" cy="610.7" r="3.78"/><circle cx="355.9" cy="484.5" r="4.02"/><circle cx="302.8" cy="432.6" r="3.71"/><circle cx="284.8" cy="413.9" r="3.85"/><circle cx="342.4" cy="485.5" r="3.75"/><circle cx="284.1" cy="538.2" r="3.71"/><circle cx="340.6" cy="625.3" r="3.49"/><circle cx="348.2" cy="605.0" r="3.71"/><circle cx="491.4" cy="607.1" r="3.43"/><circle cx="347.4" cy="417.1" r="3.64"/><circle cx="396.6" cy="411.6" r="3.76"/><circle cx="487.6" cy="455.1" r="3.76"/><circle cx="366.9" cy="551.1" r="3.61"/><circle cx="315.4" cy="499.0" r="3.71"/><circle cx="387.4" cy="606.1" r="3.58"/><circle cx="455.4" cy="520.7" r="3.85"/><circle cx="314.0" cy="633.6" r="3.56"/><circle cx="441.8" cy="539.3" r="4.15"/><circle cx="366.6" cy="475.5" r="3.87"/><circle cx="383.3" cy="491.5" r="3.73"/><circle cx="409.9" cy="578.7" r="4.02"/><circle cx="365.2" cy="500.4" r="3.61"/><circle cx="291.5" cy="488.5" r="3.93"/><circle cx="298.9" cy="421.0" r="3.65"/><circle cx="247.3" cy="584.5" r="3.75"/><circle cx="473.9" cy="501.1" r="3.66"/><circle cx="416.5" cy="414.9" r="3.63"/><circle cx="492.9" cy="495.4" r="3.66"/><circle cx="329.7" cy="552.4" r="3.78"/><circle cx="391.4" cy="581.4" r="3.70"/><circle cx="392.2" cy="624.8" r="4.02"/><circle cx="279.3" cy="431.9" r="3.76"/><circle cx="390.6" cy="522.9" r="3.34"/><circle cx="398.1" cy="449.3" r="3.63"/><circle cx="354.5" cy="469.9" r="3.70"/><circle cx="330.9" cy="519.7" r="3.79"/><circle cx="303.6" cy="553.8" r="3.83"/><circle cx="258.8" cy="385.8" r="3.54"/><circle cx="391.5" cy="397.4" r="3.77"/><circle cx="294.7" cy="591.0" r="3.61"/><circle cx="257.9" cy="482.8" r="3.75"/><circle cx="504.9" cy="387.1" r="3.69"/><circle cx="472.7" cy="519.8" r="3.92"/><circle cx="331.1" cy="493.1" r="3.89"/><circle cx="361.8" cy="455.2" r="3.97"/><circle cx="297.8" cy="615.5" r="3.62"/><circle cx="505.9" cy="577.0" r="3.66"/><circle cx="330.2" cy="506.1" r="3.74"/><circle cx="457.2" cy="579.8" r="3.65"/><circle cx="444.4" cy="613.6" r="3.64"/><circle cx="248.3" cy="441.7" r="3.81"/><circle cx="248.1" cy="419.9" r="4.06"/><circle cx="359.9" cy="473.9" r="3.78"/><circle cx="247.6" cy="530.6" r="3.97"/><circle cx="482.2" cy="614.4" r="3.52"/><circle cx="498.2" cy="566.7" r="4.04"/><circle cx="403.2" cy="552.4" r="4.06"/><circle cx="323.2" cy="495.0" r="3.76"/><circle cx="296.1" cy="553.2" r="3.66"/><circle cx="273.2" cy="468.5" r="3.83"/><circle cx="390.7" cy="382.2" r="3.48"/><circle cx="278.8" cy="424.3" r="3.78"/><circle cx="302.6" cy="493.5" r="3.47"/><circle cx="434.5" cy="471.3" r="3.97"/><circle cx="472.3" cy="605.3" r="3.73"/><circle cx="405.3" cy="564.6" r="3.62"/><circle cx="484.4" cy="566.9" r="3.42"/><circle cx="455.2" cy="444.5" r="3.95"/><circle cx="360.2" cy="553.5" r="3.75"/><circle cx="340.9" cy="428.9" r="3.65"/><circle cx="295.8" cy="565.0" r="3.92"/><circle cx="452.9" cy="405.9" r="3.54"/><circle cx="373.8" cy="419.3" r="3.90"/><circle cx="475.0" cy="399.6" r="3.94"/><circle cx="372.4" cy="510.1" r="3.70"/><circle cx="468.4" cy="525.3" r="3.92"/><circle cx="434.4" cy="606.5" r="4.00"/><circle cx="386.7" cy="454.2" r="3.63"/><circle cx="428.6" cy="458.5" r="3.64"/><circle cx="434.5" cy="441.1" r="3.87"/><circle cx="251.2" cy="564.4" r="3.86"/><circle cx="450.8" cy="449.7" r="3.63"/><circle cx="269.9" cy="554.5" r="3.28"/><circle cx="390.0" cy="529.9" r="3.52"/><circle cx="368.3" cy="482.3" r="3.93"/><circle cx="438.0" cy="465.3" r="3.67"/><circle cx="308.6" cy="594.0" r="3.61"/><circle cx="419.2" cy="616.4" r="3.80"/><circle cx="446.5" cy="455.2" r="3.48"/><circle cx="328.9" cy="526.4" r="4.08"/><circle cx="390.2" cy="612.6" r="3.46"/><circle cx="345.2" cy="434.2" r="3.72"/><circle cx="440.2" cy="400.4" r="3.80"/><circle cx="478.0" cy="584.7" r="3.84"/><circle cx="373.4" cy="477.3" r="3.58"/><circle cx="239.4" cy="555.3" r="3.70"/><circle cx="484.8" cy="626.2" r="3.90"/><circle cx="395.5" cy="462.4" r="3.77"/><circle cx="286.6" cy="531.7" r="3.85"/><circle cx="431.2" cy="485.5" r="3.77"/><circle cx="360.3" cy="626.3" r="3.78"/><circle cx="290.5" cy="476.8" r="3.62"/><circle cx="328.5" cy="499.5" r="3.57"/><circle cx="398.4" cy="565.4" r="3.71"/><circle cx="332.0" cy="447.2" r="3.58"/><circle cx="277.7" cy="601.4" r="3.96"/><circle cx="250.0" cy="448.6" r="3.86"/><circle cx="334.0" cy="564.1" r="3.93"/><circle cx="434.4" cy="587.3" r="3.52"/><circle cx="335.2" cy="377.9" r="3.55"/><circle cx="343.1" cy="499.5" r="3.85"/><circle cx="444.7" cy="514.0" r="3.77"/><circle cx="407.4" cy="590.6" r="3.78"/><circle cx="498.7" cy="498.4" r="3.89"/><circle cx="458.9" cy="568.0" r="3.60"/><circle cx="487.7" cy="441.0" r="3.56"/><circle cx="377.4" cy="499.0" r="3.62"/><circle cx="443.5" cy="557.2" r="4.06"/><circle cx="504.8" cy="415.2" r="3.74"/><circle cx="239.4" cy="419.0" r="3.63"/><circle cx="363.3" cy="403.6" r="3.96"/><circle cx="436.3" cy="429.0" r="3.88"/><circle cx="302.9" cy="450.1" r="3.88"/><circle cx="259.7" cy="464.4" r="3.84"/><circle cx="378.2" cy="521.2" r="3.71"/><circle cx="252.5" cy="414.6" r="4.01"/><circle cx="283.7" cy="457.9" r="3.87"/><circle cx="255.1" cy="443.5" r="3.57"/><circle cx="431.3" cy="537.8" r="3.58"/><circle cx="254.0" cy="527.7" r="3.65"/><circle cx="485.1" cy="583.8" r="3.87"/><circle cx="389.2" cy="574.8" r="3.65"/><circle cx="343.7" cy="455.0" r="3.71"/><circle cx="276.2" cy="551.7" r="3.68"/><circle cx="342.9" cy="469.1" r="3.76"/><circle cx="309.8" cy="493.0" r="3.93"/><circle cx="466.5" cy="550.2" r="3.68"/><circle cx="376.4" cy="491.9" r="3.75"/><circle cx="242.6" cy="602.6" r="4.00"/><circle cx="492.1" cy="393.1" r="3.52"/><circle cx="505.2" cy="623.0" r="3.80"/><circle cx="505.9" cy="501.9" r="3.78"/><circle cx="312.5" cy="534.2" r="3.74"/><circle cx="374.5" cy="400.1" r="3.90"/><circle cx="427.5" cy="470.7" r="4.08"/><circle cx="269.3" cy="391.9" r="3.75"/><circle cx="352.7" cy="600.0" r="3.74"/><circle cx="325.9" cy="464.3" r="3.85"/><circle cx="463.8" cy="625.9" r="3.57"/><circle cx="247.9" cy="592.9" r="3.70"/><circle cx="481.8" cy="444.4" r="3.80"/><circle cx="240.3" cy="377.7" r="3.78"/><circle cx="480.7" cy="423.5" r="3.64"/><circle cx="354.7" cy="395.5" r="3.92"/><circle cx="290.7" cy="615.2" r="3.58"/><circle cx="327.8" cy="429.1" r="3.65"/><circle cx="487.5" cy="595.1" r="3.60"/><circle cx="291.3" cy="403.8" r="3.81"/><circle cx="457.0" cy="509.6" r="3.87"/><circle cx="478.4" cy="393.4" r="3.74"/><circle cx="319.7" cy="446.2" r="3.92"/><circle cx="388.6" cy="442.0" r="3.69"/><circle cx="381.9" cy="484.9" r="3.77"/><circle cx="485.9" cy="553.8" r="3.78"/><circle cx="289.4" cy="626.2" r="3.75"/><circle cx="343.5" cy="609.7" r="3.78"/><circle cx="416.3" cy="475.1" r="3.60"/><circle cx="275.6" cy="558.5" r="3.44"/><circle cx="317.9" cy="558.6" r="3.67"/><circle cx="442.7" cy="625.9" r="3.69"/><circle cx="409.5" cy="474.0" r="3.72"/><circle cx="391.8" cy="548.7" r="3.60"/><circle cx="470.2" cy="495.2" r="3.56"/><circle cx="307.1" cy="633.2" r="4.05"/><circle cx="480.5" cy="500.4" r="3.86"/><circle cx="328.1" cy="567.7" r="3.80"/><circle cx="486.0" cy="405.3" r="3.78"/><circle cx="436.9" cy="613.2" r="3.66"/><circle cx="428.4" cy="554.6" r="3.73"/><circle cx="401.0" cy="424.8" r="3.92"/><circle cx="448.6" cy="570.2" r="3.90"/><circle cx="330.8" cy="415.5" r="3.67"/><circle cx="435.8" cy="543.0" r="3.68"/><circle cx="268.1" cy="625.9" r="3.67"/><circle cx="412.4" cy="498.8" r="3.65"/><circle cx="498.4" cy="532.8" r="3.89"/><circle cx="492.4" cy="575.9" r="3.85"/><circle cx="303.5" cy="404.4" r="3.80"/><circle cx="479.1" cy="405.1" r="3.66"/><circle cx="392.0" cy="417.0" r="3.94"/><circle cx="356.0" cy="632.5" r="3.76"/><circle cx="342.0" cy="592.6" r="3.38"/><circle cx="354.0" cy="589.2" r="3.94"/><circle cx="363.9" cy="532.4" r="3.79"/><circle cx="483.0" cy="560.1" r="3.66"/><circle cx="434.3" cy="520.5" r="3.95"/><circle cx="285.5" cy="602.5" r="3.40"/><circle cx="447.9" cy="589.9" r="3.65"/><circle cx="394.2" cy="423.7" r="3.85"/><circle cx="505.8" cy="477.5" r="3.64"/><circle cx="315.1" cy="527.7" r="4.06"/><circle cx="436.7" cy="594.0" r="4.05"/><circle cx="378.5" cy="433.2" r="3.79"/><circle cx="307.6" cy="606.3" r="3.78"/><circle cx="270.6" cy="601.1" r="4.01"/><circle cx="476.2" cy="434.4" r="3.85"/><circle cx="240.1" cy="562.3" r="3.60"/><circle cx="309.8" cy="619.0" r="3.71"/><circle cx="365.9" cy="622.0" r="3.62"/><circle cx="318.0" cy="599.7" r="3.84"/><circle cx="385.3" cy="415.5" r="3.78"/><circle cx="286.0" cy="620.3" r="3.96"/><circle cx="443.6" cy="481.8" r="3.79"/><circle cx="390.0" cy="410.2" r="3.64"/><circle cx="408.5" cy="392.7" r="3.59"/><circle cx="506.2" cy="556.5" r="3.98"/><circle cx="287.4" cy="513.3" r="3.95"/><circle cx="360.3" cy="511.3" r="3.63"/><circle cx="284.5" cy="444.9" r="3.53"/><circle cx="324.7" cy="540.6" r="3.52"/><circle cx="375.4" cy="572.2" r="3.90"/><circle cx="436.4" cy="502.4" r="3.70"/><circle cx="290.9" cy="417.6" r="4.03"/><circle cx="451.2" cy="392.8" r="3.69"/><circle cx="434.0" cy="531.7" r="3.71"/><circle cx="364.6" cy="430.8" r="3.72"/><circle cx="471.9" cy="391.0" r="3.85"/><circle cx="346.7" cy="587.4" r="4.02"/><circle cx="505.8" cy="379.0" r="3.61"/><circle cx="500.1" cy="482.9" r="3.87"/><circle cx="351.4" cy="569.8" r="3.97"/><circle cx="492.9" cy="429.7" r="3.73"/><circle cx="445.4" cy="418.3" r="3.70"/><circle cx="382.0" cy="459.5" r="3.92"/><circle cx="406.9" cy="467.6" r="3.67"/><circle cx="446.4" cy="397.4" r="3.72"/><circle cx="492.3" cy="522.7" r="3.62"/><circle cx="474.2" cy="632.3" r="3.68"/><circle cx="495.8" cy="613.0" r="3.80"/><circle cx="345.9" cy="565.7" r="3.81"/><circle cx="241.3" cy="456.3" r="3.73"/><circle cx="273.7" cy="607.3" r="3.77"/><circle cx="343.7" cy="390.9" r="3.56"/><circle cx="261.7" cy="508.4" r="4.07"/><circle cx="383.8" cy="558.8" r="3.59"/><circle cx="264.6" cy="589.1" r="3.83"/><circle cx="323.2" cy="617.0" r="3.64"/><circle cx="326.3" cy="533.7" r="3.76"/><circle cx="480.6" cy="530.4" r="3.45"/><circle cx="368.8" cy="570.6" r="3.65"/><circle cx="266.7" cy="615.1" r="3.57"/><circle cx="439.2" cy="415.4" r="3.80"/><circle cx="489.9" cy="588.9" r="3.77"/><circle cx="427.6" cy="586.5" r="3.61"/><circle cx="240.9" cy="505.7" r="3.60"/><circle cx="461.1" cy="602.0" r="3.81"/><circle cx="304.2" cy="599.6" r="3.68"/><circle cx="458.8" cy="411.0" r="3.84"/><circle cx="456.2" cy="614.3" r="3.79"/><circle cx="419.0" cy="501.2" r="3.68"/><circle cx="258.7" cy="411.4" r="3.71"/><circle cx="338.0" cy="473.9" r="3.47"/><circle cx="271.6" cy="634.0" r="3.75"/><circle cx="446.0" cy="475.4" r="3.71"/><circle cx="255.7" cy="628.7" r="3.75"/><circle cx="353.9" cy="508.4" r="3.97"/><circle cx="435.4" cy="459.2" r="3.77"/><circle cx="459.5" cy="586.3" r="3.75"/><circle cx="350.5" cy="445.0" r="3.75"/><circle cx="264.9" cy="549.8" r="3.69"/><circle cx="468.7" cy="396.8" r="3.96"/><circle cx="321.4" cy="431.8" r="3.75"/><circle cx="377.4" cy="528.1" r="3.94"/><circle cx="240.3" cy="466.4" r="3.86"/><circle cx="324.7" cy="385.6" r="3.64"/><circle cx="500.2" cy="471.9" r="3.78"/><circle cx="428.7" cy="544.0" r="3.92"/><circle cx="428.8" cy="566.9" r="3.70"/><circle cx="389.1" cy="593.5" r="3.76"/><circle cx="278.7" cy="403.6" r="3.72"/><circle cx="305.4" cy="580.8" r="3.72"/><circle cx="492.8" cy="502.2" r="3.87"/><circle cx="269.2" cy="561.5" r="3.63"/><circle cx="413.8" cy="468.7" r="3.70"/><circle cx="336.9" cy="480.9" r="3.78"/><circle cx="441.1" cy="607.6" r="3.36"/><circle cx="279.6" cy="532.4" r="3.70"/><circle cx="270.6" cy="521.6" r="3.77"/><circle cx="382.3" cy="573.3" r="3.81"/><circle cx="307.1" cy="468.8" r="3.65"/><circle cx="449.8" cy="597.7" r="3.61"/><circle cx="504.9" cy="549.7" r="3.88"/><circle cx="280.8" cy="589.9" r="3.65"/><circle cx="306.7" cy="625.3" r="3.82"/><circle cx="282.9" cy="551.1" r="3.76"/><circle cx="341.5" cy="554.4" r="3.64"/><circle cx="307.0" cy="587.4" r="3.68"/><circle cx="402.6" cy="534.4" r="3.63"/><circle cx="344.1" cy="599.3" r="3.90"/><circle cx="384.3" cy="498.2" r="3.78"/><circle cx="466.2" cy="440.2" r="3.49"/><circle cx="471.7" cy="452.5" r="4.03"/><circle cx="287.7" cy="609.0" r="3.96"/><circle cx="303.1" cy="463.1" r="3.94"/><circle cx="388.0" cy="403.4" r="3.61"/><circle cx="361.5" cy="480.4" r="3.68"/><circle cx="240.4" cy="527.0" r="3.66"/><circle cx="435.2" cy="568.3" r="3.97"/><circle cx="446.2" cy="404.3" r="3.76"/><circle cx="350.1" cy="496.5" r="3.80"/><circle cx="273.9" cy="579.9" r="3.72"/><circle cx="431.1" cy="497.6" r="3.54"/><circle cx="256.8" cy="450.2" r="3.89"/><circle cx="253.6" cy="611.4" r="4.09"/><circle cx="391.8" cy="474.7" r="3.71"/><circle cx="358.5" cy="408.8" r="3.62"/><circle cx="498.6" cy="505.5" r="3.65"/><circle cx="303.5" cy="523.3" r="3.66"/><circle cx="287.5" cy="564.4" r="3.53"/><circle cx="336.8" cy="543.1" r="3.68"/><circle cx="470.4" cy="563.4" r="3.70"/><circle cx="423.4" cy="496.1" r="3.53"/><circle cx="240.7" cy="548.3" r="3.82"/><circle cx="274.1" cy="572.6" r="3.69"/><circle cx="491.8" cy="582.5" r="3.58"/><circle cx="392.6" cy="561.8" r="3.76"/><circle cx="351.2" cy="437.8" r="3.99"/><circle cx="259.2" cy="545.7" r="3.96"/><circle cx="310.9" cy="573.1" r="3.92"/><circle cx="246.0" cy="623.3" r="3.92"/><circle cx="467.5" cy="600.3" r="3.90"/><circle cx="493.1" cy="379.5" r="3.86"/><circle cx="382.6" cy="632.8" r="3.89"/><circle cx="454.9" cy="485.7" r="4.06"/><circle cx="280.3" cy="514.2" r="3.70"/><circle cx="318.3" cy="411.7" r="3.88"/><circle cx="400.2" cy="484.2" r="3.55"/><circle cx="421.8" cy="410.4" r="3.86"/><circle cx="398.2" cy="477.4" r="3.97"/><circle cx="263.6" cy="452.1" r="3.71"/><circle cx="487.2" cy="433.5" r="4.02"/><circle cx="304.4" cy="475.2" r="3.62"/><circle cx="418.6" cy="597.2" r="3.99"/><circle cx="467.0" cy="501.6" r="3.72"/><circle cx="273.1" cy="449.5" r="3.82"/><circle cx="361.7" cy="394.8" r="3.70"/><circle cx="405.0" cy="449.9" r="3.85"/><circle cx="506.5" cy="630.4" r="3.73"/><circle cx="426.0" cy="618.0" r="3.93"/><circle cx="348.9" cy="594.1" r="3.76"/><circle cx="424.8" cy="580.3" r="3.80"/><circle cx="377.9" cy="597.9" r="3.72"/><circle cx="262.3" cy="378.7" r="3.82"/><circle cx="300.6" cy="605.6" r="3.69"/><circle cx="402.9" cy="595.9" r="3.72"/><circle cx="418.8" cy="421.6" r="3.55"/><circle cx="352.4" cy="618.4" r="3.69"/><circle cx="313.5" cy="546.5" r="3.70"/><circle cx="255.4" cy="430.2" r="3.74"/><circle cx="439.4" cy="600.8" r="3.76"/><circle cx="292.1" cy="389.9" r="3.53"/><circle cx="427.0" cy="532.2" r="3.88"/><circle cx="493.2" cy="483.8" r="4.09"/><circle cx="458.6" cy="527.0" r="3.76"/><circle cx="394.4" cy="606.9" r="3.46"/><circle cx="254.6" cy="509.0" r="3.88"/><circle cx="423.1" cy="573.8" r="3.76"/><circle cx="505.1" cy="408.2" r="3.73"/><circle cx="328.1" cy="621.5" r="3.78"/><circle cx="466.1" cy="489.7" r="3.76"/><circle cx="377.7" cy="393.8" r="3.73"/><circle cx="447.6" cy="424.9" r="3.84"/><circle cx="432.8" cy="619.1" r="3.80"/><circle cx="328.2" cy="377.8" r="3.71"/><circle cx="373.0" cy="622.2" r="3.87"/><circle cx="259.1" cy="585.2" r="3.95"/><circle cx="272.0" cy="461.7" r="3.95"/><circle cx="314.7" cy="606.0" r="3.61"/><circle cx="427.8" cy="400.4" r="3.77"/><circle cx="343.4" cy="573.9" r="3.86"/><circle cx="475.8" cy="447.4" r="3.79"/><circle cx="412.0" cy="563.2" r="3.74"/><circle cx="490.3" cy="386.2" r="3.94"/><circle cx="453.0" cy="564.6" r="3.81"/><circle cx="350.2" cy="526.2" r="3.83"/><circle cx="261.6" cy="595.3" r="3.54"/><circle cx="369.9" cy="523.3" r="3.55"/><circle cx="373.0" cy="584.3" r="3.69"/><circle cx="268.3" cy="473.3" r="3.79"/><circle cx="282.5" cy="596.5" r="3.90"/><circle cx="498.4" cy="606.8" r="3.65"/><circle cx="457.9" cy="391.8" r="4.00"/><circle cx="335.0" cy="557.0" r="3.79"/><circle cx="250.7" cy="455.7" r="3.69"/><circle cx="311.5" cy="612.3" r="3.88"/><circle cx="385.4" cy="625.5" r="3.98"/><circle cx="498.4" cy="546.2" r="3.78"/><circle cx="246.3" cy="461.3" r="3.77"/><circle cx="431.9" cy="580.7" r="3.81"/><circle cx="492.3" cy="556.3" r="3.88"/><circle cx="498.5" cy="418.8" r="3.73"/><circle cx="396.6" cy="469.4" r="3.76"/><circle cx="440.6" cy="393.3" r="3.79"/><circle cx="417.0" cy="493.6" r="3.74"/><circle cx="243.1" cy="435.6" r="3.82"/><circle cx="313.9" cy="468.0" r="3.66"/><circle cx="489.9" cy="489.7" r="3.47"/><circle cx="268.6" cy="568.6" r="3.68"/><circle cx="286.5" cy="585.6" r="3.71"/><circle cx="402.2" cy="443.5" r="4.04"/><circle cx="474.9" cy="427.5" r="3.92"/><circle cx="338.2" cy="536.2" r="3.82"/><circle cx="400.6" cy="540.7" r="3.69"/><circle cx="505.8" cy="488.0" r="3.58"/><circle cx="464.1" cy="581.0" r="3.66"/><circle cx="239.7" cy="442.5" r="3.83"/><circle cx="412.3" cy="615.5" r="3.74"/><circle cx="263.9" cy="519.6" r="3.60"/><circle cx="491.6" cy="569.1" r="3.78"/><circle cx="425.9" cy="452.1" r="3.65"/><circle cx="485.3" cy="392.5" r="3.82"/><circle cx="377.1" cy="560.4" r="4.04"/><circle cx="249.2" cy="475.2" r="3.89"/><circle cx="292.7" cy="500.6" r="3.38"/><circle cx="253.4" cy="581.2" r="3.92"/><circle cx="434.7" cy="491.4" r="3.68"/><circle cx="468.3" cy="575.5" r="3.80"/><circle cx="357.2" cy="449.1" r="3.80"/><circle cx="464.0" cy="509.6" r="3.79"/><circle cx="297.4" cy="475.9" r="3.49"/><circle cx="356.0" cy="425.7" r="3.94"/><circle cx="343.9" cy="523.9" r="3.61"/><circle cx="366.0" cy="507.3" r="3.62"/><circle cx="247.5" cy="537.8" r="3.79"/><circle cx="284.7" cy="519.7" r="3.86"/><circle cx="269.8" cy="455.3" r="3.67"/><circle cx="413.5" cy="438.5" r="3.52"/><circle cx="366.6" cy="514.2" r="3.82"/><circle cx="505.1" cy="508.8" r="3.71"/><circle cx="406.4" cy="437.8" r="3.88"/><circle cx="294.5" cy="482.3" r="3.94"/><circle cx="265.8" cy="385.8" r="3.57"/><circle cx="421.4" cy="397.0" r="3.57"/><circle cx="459.4" cy="404.1" r="3.73"/><circle cx="273.4" cy="428.3" r="3.63"/><circle cx="381.7" cy="539.3" r="4.01"/><circle cx="492.4" cy="549.5" r="3.77"/><circle cx="479.4" cy="571.6" r="3.77"/><circle cx="272.7" cy="494.1" r="3.79"/><circle cx="373.6" cy="548.8" r="3.98"/><circle cx="472.6" cy="538.1" r="3.82"/><circle cx="398.7" cy="418.3" r="3.88"/><circle cx="243.0" cy="449.4" r="3.66"/><circle cx="337.5" cy="612.6" r="3.87"/><circle cx="316.2" cy="384.1" r="3.70"/><circle cx="335.3" cy="392.0" r="3.68"/><circle cx="504.9" cy="522.6" r="3.67"/><circle cx="451.7" cy="514.2" r="3.94"/><circle cx="506.0" cy="536.2" r="3.71"/><circle cx="450.5" cy="480.5" r="3.82"/><circle cx="498.3" cy="559.9" r="3.77"/><circle cx="354.0" cy="477.7" r="3.83"/><circle cx="484.8" cy="505.8" r="3.67"/><circle cx="385.1" cy="550.7" r="3.56"/><circle cx="450.5" cy="610.0" r="3.71"/><circle cx="292.0" cy="431.6" r="3.77"/><circle cx="468.8" cy="483.2" r="3.63"/><circle cx="349.0" cy="482.7" r="3.75"/><circle cx="498.5" cy="390.5" r="3.86"/><circle cx="321.6" cy="605.5" r="3.45"/><circle cx="339.6" cy="568.2" r="3.98"/><circle cx="371.4" cy="470.4" r="3.91"/><circle cx="481.6" cy="451.4" r="3.80"/><circle cx="431.9" cy="434.7" r="3.93"/><circle cx="312.6" cy="486.6" r="3.46"/><circle cx="368.4" cy="456.9" r="3.78"/><circle cx="460.0" cy="515.4" r="3.82"/><circle cx="473.3" cy="513.1" r="3.83"/><circle cx="430.1" cy="526.0" r="3.83"/><circle cx="326.0" cy="583.1" r="4.03"/><circle cx="477.5" cy="564.7" r="3.86"/><circle cx="343.7" cy="403.1" r="3.67"/><circle cx="434.0" cy="403.7" r="3.54"/><circle cx="451.4" cy="538.9" r="3.61"/><circle cx="426.1" cy="502.5" r="3.70"/><circle cx="248.4" cy="378.2" r="3.79"/><circle cx="298.9" cy="457.6" r="3.76"/><circle cx="452.2" cy="419.6" r="3.80"/><circle cx="409.7" cy="517.6" r="3.67"/><circle cx="463.5" cy="433.6" r="3.70"/><circle cx="421.8" cy="623.8" r="3.82"/><circle cx="423.2" cy="610.7" r="3.72"/><circle cx="472.4" cy="378.0" r="3.66"/><circle cx="486.3" cy="546.8" r="3.69"/><circle cx="318.6" cy="611.8" r="3.82"/><circle cx="464.7" cy="452.3" r="3.68"/><circle cx="498.7" cy="626.1" r="3.71"/><circle cx="267.1" cy="426.0" r="4.03"/><circle cx="360.2" cy="415.7" r="3.73"/><circle cx="378.5" cy="414.0" r="3.78"/><circle cx="388.8" cy="460.9" r="3.92"/><circle cx="465.6" cy="537.9" r="4.01"/><circle cx="239.4" cy="588.5" r="3.86"/><circle cx="251.9" cy="398.2" r="3.56"/><circle cx="446.8" cy="387.4" r="4.11"/><circle cx="323.6" cy="417.7" r="3.62"/><circle cx="366.6" cy="602.8" r="3.58"/><circle cx="278.7" cy="632.5" r="3.63"/><circle cx="498.6" cy="573.4" r="3.97"/><circle cx="369.9" cy="405.5" r="3.74"/><circle cx="258.5" cy="418.4" r="3.47"/><circle cx="482.1" cy="479.1" r="4.03"/><circle cx="393.7" cy="541.9" r="3.52"/><circle cx="310.7" cy="553.1" r="4.03"/><circle cx="265.2" cy="542.9" r="3.37"/><circle cx="248.3" cy="428.2" r="3.73"/><circle cx="469.2" cy="593.6" r="3.75"/><circle cx="267.8" cy="583.1" r="3.66"/><circle cx="300.2" cy="469.5" r="3.74"/><circle cx="383.0" cy="466.4" r="3.91"/><circle cx="252.6" cy="407.6" r="3.78"/><circle cx="423.2" cy="445.7" r="3.86"/><circle cx="414.7" cy="426.8" r="3.77"/><circle cx="410.3" cy="492.0" r="3.78"/><circle cx="337.2" cy="522.4" r="3.66"/><circle cx="316.5" cy="618.5" r="3.74"/><circle cx="436.9" cy="482.8" r="3.89"/><circle cx="498.6" cy="456.3" r="3.92"/><circle cx="396.0" cy="594.8" r="3.58"/><circle cx="476.3" cy="411.4" r="3.66"/><circle cx="281.0" cy="438.8" r="3.78"/><circle cx="439.9" cy="548.6" r="3.73"/><circle cx="306.6" cy="547.3" r="3.63"/><circle cx="314.0" cy="514.9" r="3.44"/><circle cx="248.1" cy="468.2" r="3.79"/><circle cx="492.3" cy="415.5" r="3.65"/><circle cx="279.7" cy="396.9" r="4.06"/><circle cx="302.9" cy="541.4" r="3.93"/><circle cx="331.5" cy="538.5" r="3.82"/><circle cx="349.3" cy="519.4" r="3.56"/><circle cx="454.9" cy="532.8" r="3.64"/><circle cx="259.6" cy="615.0" r="3.92"/><circle cx="262.6" cy="630.4" r="3.63"/><circle cx="301.5" cy="481.6" r="3.72"/><circle cx="473.4" cy="440.9" r="3.82"/><circle cx="458.9" cy="420.7" r="3.84"/><circle cx="474.4" cy="420.5" r="3.70"/><circle cx="369.6" cy="628.2" r="3.83"/><circle cx="240.2" cy="493.0" r="3.50"/><circle cx="403.6" cy="431.4" r="3.75"/><circle cx="315.1" cy="434.5" r="3.73"/><circle cx="277.4" cy="538.7" r="4.01"/><circle cx="321.8" cy="501.9" r="3.82"/><circle cx="432.4" cy="560.7" r="3.42"/><circle cx="389.7" cy="632.8" r="3.98"/><circle cx="431.3" cy="465.0" r="4.16"/><circle cx="398.5" cy="612.5" r="3.84"/><circle cx="395.4" cy="442.8" r="3.86"/><circle cx="385.4" cy="434.7" r="3.99"/><circle cx="446.1" cy="632.5" r="3.75"/><circle cx="425.4" cy="560.9" r="3.75"/><circle cx="415.6" cy="569.2" r="3.79"/><circle cx="331.1" cy="615.2" r="3.25"/><circle cx="299.7" cy="499.8" r="3.67"/><circle cx="443.5" cy="501.9" r="3.85"/><circle cx="410.5" cy="432.2" r="3.84"/><circle cx="441.4" cy="520.2" r="3.52"/><circle cx="324.2" cy="521.2" r="3.71"/><circle cx="240.3" cy="534.1" r="3.67"/><circle cx="450.5" cy="462.2" r="3.64"/><circle cx="284.8" cy="420.8" r="3.89"/><circle cx="443.6" cy="461.4" r="3.62"/><circle cx="247.2" cy="403.3" r="3.72"/><circle cx="262.4" cy="391.9" r="3.85"/><circle cx="265.7" cy="412.0" r="3.61"/><circle cx="276.4" cy="378.1" r="3.74"/><circle cx="453.7" cy="603.7" r="3.60"/><circle cx="240.0" cy="399.2" r="3.74"/><circle cx="325.6" cy="450.2" r="3.73"/><circle cx="383.1" cy="612.0" r="3.84"/><circle cx="382.9" cy="427.8" r="3.67"/><circle cx="420.0" cy="533.0" r="3.70"/><circle cx="382.3" cy="592.3" r="3.50"/><circle cx="271.3" cy="487.1" r="3.65"/><circle cx="257.4" cy="560.9" r="3.59"/><circle cx="446.3" cy="551.0" r="3.55"/><circle cx="322.3" cy="424.7" r="3.69"/><circle cx="280.7" cy="607.7" r="3.74"/><circle cx="323.4" cy="547.6" r="3.73"/><circle cx="272.4" cy="421.2" r="3.91"/><circle cx="441.2" cy="588.4" r="3.66"/><circle cx="298.7" cy="579.3" r="3.63"/><circle cx="394.4" cy="618.2" r="3.42"/><circle cx="350.0" cy="538.6" r="3.91"/><circle cx="392.5" cy="568.9" r="3.85"/><circle cx="486.0" cy="412.4" r="3.84"/><circle cx="373.6" cy="603.7" r="3.63"/><circle cx="272.4" cy="414.1" r="3.65"/><circle cx="422.0" cy="514.8" r="3.66"/><circle cx="318.4" cy="474.4" r="3.55"/><circle cx="308.1" cy="528.6" r="3.80"/><circle cx="456.8" cy="626.1" r="3.73"/></g>
<g fill="#00dd00"><circle cx="320.9" cy="384" r="4.34"/><circle cx="281.6" cy="387" r="2.75"/><circle cx="285.9" cy="392.9" r="4.34"/><circle cx="306.8" cy="391" r="2.43"/><circle cx="312.5" cy="396.3" r="4.34"/><circle cx="295.1" cy="404.9" r="4.66"/><circle cx="291.2" cy="407" r="2.01"/><circle cx="287.1" cy="413.3" r="4.34"/><circle cx="291.7" cy="419.2" r="2.01"/><circle cx="247" cy="427" r="2.96"/><circle cx="313.5" cy="426.4" r="2.75"/><circle cx="317" cy="429.2" r="2.75"/><circle cx="259.3" cy="437.3" r="2.22"/><circle cx="241.4" cy="440.1" r="2.75"/><circle cx="242.1" cy="435.8" r="1.37"/><circle cx="255.9" cy="448.7" r="3.70"/><circle cx="253.4" cy="445.6" r="1.90"/><circle cx="251" cy="453.2" r="2.96"/><circle cx="249.5" cy="458.5" r="4.66"/><circle cx="264.1" cy="455.4" r="3.28"/><circle cx="290" cy="455.8" r="3.07"/><circle cx="287.8" cy="455.8" r="2.75"/><circle cx="301.2" cy="451.1" r="2.96"/><circle cx="346.5" cy="387.3" r="2.33"/><circle cx="383.6" cy="402.1" r="1.37"/><circle cx="382" cy="404.9" r="1.37"/><circle cx="416.4" cy="404.5" r="2.01"/><circle cx="366.7" cy="443.8" r="3.28"/><circle cx="355.7" cy="446.8" r="1.90"/><circle cx="359.3" cy="451.5" r="3.28"/><circle cx="369.8" cy="450.9" r="2.01"/><circle cx="377.5" cy="455.4" r="4.02"/><circle cx="385.1" cy="440.1" r="2.43"/><circle cx="388.2" cy="438.9" r="2.43"/><circle cx="392.2" cy="440.4" r="4.02"/><circle cx="415.2" cy="447.4" r="2.01"/><circle cx="406" cy="460.6" r="4.23"/><circle cx="438.7" cy="381.1" r="2.11"/><circle cx="429.5" cy="384.5" r="2.11"/><circle cx="449.3" cy="390.1" r="3.92"/><circle cx="451.9" cy="395" r="3.07"/><circle cx="460.9" cy="393.3" r="1.48"/><circle cx="440.9" cy="395.9" r="2.11"/><circle cx="431.2" cy="405" r="4.45"/><circle cx="436.3" cy="401.5" r="3.92"/><circle cx="442.8" cy="401.5" r="3.92"/><circle cx="418.2" cy="405" r="4.45"/><circle cx="437.6" cy="417.9" r="4.66"/><circle cx="444.5" cy="421.5" r="4.66"/><circle cx="481" cy="421.4" r="4.45"/><circle cx="486.8" cy="428.9" r="3.49"/><circle cx="462.2" cy="435.4" r="3.49"/><circle cx="504.6" cy="391.7" r="1.80"/><circle cx="495.2" cy="396.8" r="1.48"/><circle cx="488.1" cy="456.7" r="3.49"/><circle cx="491.3" cy="460" r="2.75"/><circle cx="415.6" cy="447.7" r="1.48"/><circle cx="268.1" cy="505.8" r="3.60"/><circle cx="264.4" cy="513.4" r="2.33"/><circle cx="268.7" cy="517" r="2.75"/><circle cx="276.1" cy="510.9" r="2.96"/><circle cx="276.1" cy="515.8" r="3.39"/><circle cx="291.7" cy="519.9" r="2.75"/><circle cx="239.7" cy="528.3" r="1.90"/><circle cx="304.3" cy="495.2" r="2.96"/><circle cx="303.1" cy="506.6" r="4.23"/><circle cx="308.6" cy="505.4" r="4.23"/><circle cx="314.7" cy="494.3" r="2.75"/><circle cx="317.8" cy="499.3" r="4.02"/><circle cx="320.9" cy="505.4" r="4.02"/><circle cx="314.1" cy="505.4" r="2.75"/><circle cx="319" cy="486.4" r="1.37"/><circle cx="297" cy="545.9" r="4.02"/><circle cx="301.9" cy="545.3" r="3.39"/><circle cx="306.1" cy="544.4" r="2.75"/><circle cx="330.9" cy="465.5" r="2.96"/><circle cx="339.7" cy="477.2" r="4.23"/><circle cx="363" cy="485.8" r="3.70"/><circle cx="366.7" cy="486.4" r="2.96"/><circle cx="371.6" cy="478.4" r="2.96"/><circle cx="371.6" cy="482.1" r="2.75"/><circle cx="374.7" cy="486.7" r="3.39"/><circle cx="410.9" cy="464.3" r="2.01"/><circle cx="406.6" cy="475.3" r="4.34"/><circle cx="365.8" cy="501.7" r="2.22"/><circle cx="375.5" cy="514.3" r="2.75"/><circle cx="392.5" cy="515.4" r="1.69"/><circle cx="360.8" cy="510" r="1.16"/><circle cx="325.6" cy="506.6" r="1.16"/><circle cx="342.2" cy="521.3" r="3.70"/><circle cx="344" cy="525.6" r="3.70"/><circle cx="353.5" cy="518.9" r="1.37"/><circle cx="364.3" cy="521.3" r="4.02"/><circle cx="367.9" cy="517.7" r="3.39"/><circle cx="369.2" cy="525" r="4.34"/><circle cx="379" cy="522.3" r="2.75"/><circle cx="358.1" cy="532.4" r="3.39"/><circle cx="361.8" cy="533.4" r="2.96"/><circle cx="374.7" cy="533" r="2.96"/><circle cx="412.7" cy="520.1" r="4.66"/><circle cx="409.6" cy="518.9" r="3.39"/><circle cx="394.3" cy="539.7" r="3.70"/><circle cx="394.9" cy="545.9" r="3.39"/><circle cx="341" cy="543.8" r="2.96"/><circle cx="344.6" cy="543.8" r="2.96"/><circle cx="348.3" cy="548.1" r="4.02"/><circle cx="329.9" cy="549.3" r="2.01"/><circle cx="464.1" cy="467.1" r="4.23"/><circle cx="470.6" cy="467.1" r="3.92"/><circle cx="473.8" cy="467.1" r="2.54"/><circle cx="460.3" cy="482" r="3.92"/><circle cx="433.1" cy="489.5" r="3.49"/><circle cx="440.2" cy="488.7" r="2.86"/><circle cx="432.5" cy="496.2" r="4.23"/><circle cx="430.5" cy="499.4" r="2.86"/><circle cx="439.3" cy="521.8" r="3.49"/><circle cx="444.7" cy="527" r="3.49"/><circle cx="443.5" cy="534.4" r="4.23"/><circle cx="434.1" cy="542.8" r="4.23"/><circle cx="478.4" cy="528.5" r="4.87"/><circle cx="475.8" cy="531.8" r="4.23"/><circle cx="482.3" cy="532.4" r="3.92"/><circle cx="480.3" cy="537.6" r="3.49"/><circle cx="505.5" cy="522.1" r="3.49"/><circle cx="501" cy="528.3" r="4.23"/><circle cx="492.6" cy="536" r="4.23"/><circle cx="492.6" cy="547.9" r="3.07"/><circle cx="325.8" cy="557.8" r="3.28"/><circle cx="248.5" cy="571.3" r="2.96"/><circle cx="276.7" cy="572.5" r="3.70"/><circle cx="269.7" cy="570.1" r="1.69"/><circle cx="304.9" cy="570.7" r="4.34"/><circle cx="311.1" cy="570.1" r="4.02"/><circle cx="309.8" cy="575.6" r="4.23"/><circle cx="312.3" cy="581.1" r="3.39"/><circle cx="320.9" cy="568.9" r="2.75"/><circle cx="287.7" cy="588.5" r="4.66"/><circle cx="292.7" cy="585.4" r="3.39"/><circle cx="253.4" cy="614.9" r="1.69"/><circle cx="241.4" cy="619.1" r="2.96"/><circle cx="290.2" cy="618.5" r="3.70"/><circle cx="294.5" cy="623.1" r="4.02"/><circle cx="307.1" cy="609.6" r="1.37"/><circle cx="328.7" cy="555.4" r="4.66"/><circle cx="393.1" cy="552.9" r="3.39"/><circle cx="394.9" cy="549.2" r="2.75"/><circle cx="384.5" cy="559.7" r="3.60"/><circle cx="344" cy="570.1" r="4.23"/><circle cx="342.8" cy="575" r="3.39"/><circle cx="369.4" cy="570.7" r="2.33"/><circle cx="404.7" cy="574.4" r="2.96"/><circle cx="407.2" cy="576" r="2.43"/><circle cx="409.6" cy="590.9" r="4.23"/><circle cx="406" cy="603.2" r="4.23"/><circle cx="412.1" cy="599.5" r="2.96"/><circle cx="379.6" cy="603.8" r="3.60"/><circle cx="362.8" cy="612.8" r="3.28"/><circle cx="337.3" cy="617.3" r="2.96"/><circle cx="333.6" cy="621" r="2.96"/><circle cx="357.5" cy="624.7" r="4.66"/><circle cx="349.5" cy="633.9" r="2.33"/><circle cx="351.3" cy="633.9" r="2.33"/><circle cx="415.8" cy="619.1" r="3.28"/><circle cx="448.4" cy="572.6" r="2.86"/><circle cx="446" cy="578" r="2.54"/><circle cx="432.5" cy="575.4" r="2.86"/><circle cx="478.4" cy="576.5" r="3.49"/><circle cx="483.5" cy="575.2" r="3.92"/><circle cx="490.7" cy="566.1" r="1.80"/><circle cx="495.8" cy="565.1" r="2.11"/><circle cx="490" cy="582.3" r="3.49"/><circle cx="488.7" cy="586.8" r="3.07"/><circle cx="493.9" cy="586.8" r="3.49"/><circle cx="495.2" cy="592" r="3.49"/><circle cx="495.8" cy="597.1" r="3.49"/><circle cx="496.5" cy="599.7" r="4.23"/><circle cx="460.9" cy="595.9" r="4.23"/><circle cx="481" cy="611.4" r="4.23"/><circle cx="478.4" cy="610.1" r="3.49"/><circle cx="484.8" cy="612" r="3.49"/><circle cx="427.9" cy="617.2" r="3.07"/><circle cx="418.2" cy="620.4" r="4.23"/><circle cx="416.3" cy="617.8" r="2.86"/><circle cx="484.8" cy="631.4" r="4.66"/><circle cx="488.5" cy="632" r="3.49"/><circle cx="483.5" cy="635.3" r="2.86"/><circle cx="447.1" cy="629.5" r="1.48"/></g>
<g fill="#8a1a8c"><circle cx="288.4" cy="420.5" r="1.80"/><circle cx="252.2" cy="442.2" r="2.22"/><circle cx="314.5" cy="461.5" r="2.43"/><circle cx="415.8" cy="383" r="2.96"/><circle cx="381.7" cy="395.9" r="2.22"/><circle cx="347.1" cy="430.6" r="3.17"/><circle cx="368" cy="461" r="2.96"/><circle cx="456.6" cy="403.3" r="3.07"/><circle cx="495.8" cy="393.7" r="1.80"/><circle cx="504" cy="453.2" r="3.49"/><circle cx="427.3" cy="379.8" r="1.16"/><circle cx="297" cy="478.6" r="4.23"/><circle cx="317" cy="513.6" r="2.22"/><circle cx="347.1" cy="476.2" r="4.23"/><circle cx="397.1" cy="485.1" r="3.60"/><circle cx="356.3" cy="527.5" r="2.43"/><circle cx="382.9" cy="530.3" r="4.87"/><circle cx="492" cy="515.4" r="3.49"/><circle cx="503.2" cy="517.9" r="1.80"/><circle cx="426" cy="544.3" r="3.49"/><circle cx="266.3" cy="567" r="2.96"/><circle cx="283.5" cy="600.1" r="3.70"/><circle cx="290.8" cy="628.3" r="3.60"/><circle cx="303.7" cy="606.3" r="1.37"/><circle cx="410.9" cy="556.3" r="4.66"/><circle cx="418.2" cy="554.5" r="3.92"/><circle cx="338.7" cy="580.9" r="4.34"/><circle cx="391.2" cy="582.3" r="4.02"/><circle cx="383.3" cy="590.9" r="4.23"/><circle cx="346.5" cy="632" r="1.69"/><circle cx="430.5" cy="558.1" r="4.66"/><circle cx="462.2" cy="562.2" r="3.81"/><circle cx="500.1" cy="566.4" r="3.49"/><circle cx="422.8" cy="600.4" r="4.23"/><circle cx="474.2" cy="604.3" r="2.01"/></g>
<g fill="#ff1010"><circle cx="501.1" cy="501.9" r="1.19"/><circle cx="440.3" cy="450.1" r="1.18"/><circle cx="354.5" cy="539.0" r="0.93"/><circle cx="262.1" cy="492.6" r="0.87"/><circle cx="493.4" cy="615.5" r="1.14"/><circle cx="358.0" cy="609.4" r="0.90"/><circle cx="307.6" cy="602.0" r="1.01"/><circle cx="261.4" cy="420.9" r="1.17"/><circle cx="488.4" cy="529.8" r="1.05"/><circle cx="422.2" cy="522.3" r="1.19"/><circle cx="364.7" cy="592.2" r="0.89"/><circle cx="250.5" cy="559.7" r="1.23"/><circle cx="419.1" cy="512.0" r="1.08"/><circle cx="298.3" cy="618.7" r="1.07"/><circle cx="288.2" cy="490.9" r="0.86"/><circle cx="355.2" cy="502.0" r="1.08"/><circle cx="457.7" cy="575.9" r="1.00"/><circle cx="409.1" cy="612.3" r="1.26"/><circle cx="475.4" cy="390.0" r="0.87"/><circle cx="240.3" cy="581.1" r="1.07"/><circle cx="355.8" cy="602.8" r="1.03"/><circle cx="327.5" cy="537.6" r="1.27"/><circle cx="344.5" cy="561.9" r="1.23"/><circle cx="399.0" cy="522.5" r="1.04"/><circle cx="489.6" cy="451.6" r="1.23"/><circle cx="293.8" cy="573.1" r="1.08"/><circle cx="370.9" cy="416.4" r="0.86"/><circle cx="409.3" cy="547.0" r="0.85"/><circle cx="323.1" cy="484.8" r="1.00"/><circle cx="446.8" cy="459.6" r="1.26"/><circle cx="332.8" cy="542.4" r="1.18"/><circle cx="392.9" cy="630.3" r="1.25"/><circle cx="285.9" cy="624.2" r="1.28"/><circle cx="489.7" cy="486.0" r="1.17"/><circle cx="446.9" cy="428.8" r="1.00"/><circle cx="297.0" cy="528.3" r="0.93"/><circle cx="500.8" cy="460.4" r="1.19"/><circle cx="488.2" cy="502.4" r="1.20"/><circle cx="271.6" cy="529.6" r="1.28"/><circle cx="454.4" cy="607.3" r="1.12"/><circle cx="351.8" cy="522.6" r="1.24"/><circle cx="386.0" cy="430.6" r="0.94"/><circle cx="344.6" cy="414.1" r="0.94"/><circle cx="498.6" cy="612.2" r="1.03"/><circle cx="437.5" cy="609.1" r="0.88"/><circle cx="496.8" cy="436.7" r="1.23"/><circle cx="283.6" cy="511.7" r="1.21"/><circle cx="363.0" cy="561.2" r="1.25"/><circle cx="459.2" cy="534.2" r="0.89"/><circle cx="316.2" cy="579.0" r="1.13"/><circle cx="294.8" cy="580.1" r="0.81"/><circle cx="333.7" cy="611.9" r="0.85"/><circle cx="400.2" cy="555.1" r="1.07"/><circle cx="474.7" cy="459.7" r="1.16"/><circle cx="277.5" cy="440.6" r="1.13"/><circle cx="249.4" cy="588.6" r="0.86"/><circle cx="325.1" cy="525.2" r="0.96"/><circle cx="260.4" cy="626.8" r="1.05"/><circle cx="460.3" cy="582.3" r="0.80"/><circle cx="278.1" cy="478.3" r="1.09"/><circle cx="365.3" cy="625.5" r="1.05"/><circle cx="293.7" cy="474.3" r="1.08"/><circle cx="446.3" cy="381.5" r="1.30"/><circle cx="353.2" cy="545.7" r="1.03"/><circle cx="368.3" cy="510.5" r="1.28"/><circle cx="272.8" cy="457.8" r="1.09"/><circle cx="429.7" cy="450.5" r="1.03"/><circle cx="497.2" cy="444.4" r="0.90"/><circle cx="323.3" cy="453.6" r="1.21"/><circle cx="324.8" cy="516.4" r="0.96"/><circle cx="444.4" cy="547.9" r="0.94"/><circle cx="448.8" cy="439.3" r="0.99"/><circle cx="389.1" cy="627.7" r="1.05"/><circle cx="376.1" cy="587.0" r="0.98"/><circle cx="374.1" cy="506.5" r="1.19"/><circle cx="245.3" cy="541.3" r="0.91"/><circle cx="288.1" cy="448.0" r="0.92"/><circle cx="398.3" cy="620.9" r="1.11"/><circle cx="480.9" cy="413.5" r="0.81"/><circle cx="299.0" cy="563.8" r="0.98"/><circle cx="339.3" cy="469.5" r="1.22"/><circle cx="443.4" cy="452.7" r="1.27"/><circle cx="412.6" cy="509.8" r="1.14"/><circle cx="408.3" cy="452.2" r="0.90"/><circle cx="318.5" cy="627.4" r="0.98"/><circle cx="346.8" cy="469.5" r="1.01"/><circle cx="294.9" cy="486.3" r="1.23"/><circle cx="395.8" cy="415.6" r="0.92"/><circle cx="391.4" cy="533.8" r="1.17"/><circle cx="415.5" cy="594.6" r="1.02"/><circle cx="329.4" cy="530.6" r="1.16"/><circle cx="441.9" cy="492.7" r="1.13"/><circle cx="495.2" cy="609.0" r="1.25"/><circle cx="477.7" cy="630.2" r="1.14"/><circle cx="460.9" cy="578.4" r="0.93"/><circle cx="254.5" cy="513.2" r="1.02"/><circle cx="252.0" cy="466.7" r="1.01"/><circle cx="360.1" cy="384.0" r="0.89"/><circle cx="269.4" cy="396.4" r="1.25"/><circle cx="270.1" cy="418.1" r="0.90"/><circle cx="276.6" cy="414.0" r="0.95"/><circle cx="394.5" cy="565.3" r="1.29"/><circle cx="450.0" cy="384.1" r="1.13"/><circle cx="271.6" cy="628.6" r="1.22"/><circle cx="299.9" cy="609.3" r="0.81"/><circle cx="301.0" cy="597.1" r="1.13"/><circle cx="348.5" cy="492.8" r="1.00"/><circle cx="288.8" cy="556.5" r="1.28"/><circle cx="339.2" cy="425.8" r="1.24"/><circle cx="442.9" cy="561.1" r="1.11"/><circle cx="384.5" cy="536.2" r="1.27"/><circle cx="289.5" cy="427.9" r="1.17"/><circle cx="464.3" cy="429.6" r="0.85"/><circle cx="279.9" cy="380.6" r="1.10"/><circle cx="347.4" cy="499.8" r="1.27"/><circle cx="497.2" cy="452.1" r="0.87"/><circle cx="481.1" cy="546.7" r="1.10"/><circle cx="440.8" cy="446.1" r="0.84"/><circle cx="281.0" cy="428.0" r="1.01"/><circle cx="277.1" cy="452.3" r="1.17"/><circle cx="494.4" cy="519.3" r="1.02"/><circle cx="353.3" cy="433.6" r="1.27"/><circle cx="370.8" cy="401.2" r="0.96"/><circle cx="403.6" cy="591.9" r="1.21"/><circle cx="291.9" cy="492.5" r="0.82"/><circle cx="406.1" cy="507.3" r="0.99"/><circle cx="325.2" cy="606.3" r="1.25"/><circle cx="275.5" cy="617.9" r="1.16"/><circle cx="330.9" cy="489.8" r="1.18"/><circle cx="398.2" cy="531.9" r="1.01"/><circle cx="500.3" cy="494.3" r="1.10"/><circle cx="410.1" cy="470.1" r="1.14"/><circle cx="394.9" cy="446.9" r="1.02"/><circle cx="255.2" cy="618.0" r="1.11"/><circle cx="260.0" cy="603.9" r="1.07"/><circle cx="446.7" cy="479.2" r="1.00"/><circle cx="255.6" cy="589.5" r="1.06"/><circle cx="334.3" cy="443.8" r="1.08"/><circle cx="502.7" cy="404.6" r="1.11"/><circle cx="304.1" cy="584.8" r="1.16"/><circle cx="430.1" cy="396.9" r="1.15"/><circle cx="462.2" cy="540.3" r="1.25"/><circle cx="455.1" cy="378.0" r="1.28"/><circle cx="388.9" cy="471.9" r="0.80"/><circle cx="322.5" cy="602.6" r="1.15"/><circle cx="309.4" cy="489.0" r="1.23"/><circle cx="258.0" cy="506.7" r="1.09"/><circle cx="380.2" cy="562.0" r="0.87"/><circle cx="334.2" cy="535.5" r="1.28"/><circle cx="489.3" cy="557.5" r="1.18"/><circle cx="289.8" cy="384.5" r="0.96"/><circle cx="479.0" cy="478.1" r="0.95"/><circle cx="285.7" cy="553.9" r="0.84"/><circle cx="496.6" cy="422.4" r="0.96"/><circle cx="401.6" cy="563.0" r="1.03"/><circle cx="318.1" cy="603.7" r="0.94"/><circle cx="326.8" cy="492.2" r="0.84"/><circle cx="444.9" cy="587.1" r="0.90"/><circle cx="286.8" cy="509.3" r="0.82"/><circle cx="374.2" cy="599.6" r="1.00"/><circle cx="362.1" cy="585.8" r="1.10"/><circle cx="359.8" cy="579.3" r="1.22"/><circle cx="308.1" cy="476.9" r="1.22"/><circle cx="502.9" cy="512.3" r="0.97"/><circle cx="281.9" cy="579.6" r="1.09"/><circle cx="357.1" cy="480.9" r="1.12"/><circle cx="392.4" cy="486.0" r="0.87"/><circle cx="293.2" cy="504.5" r="1.12"/><circle cx="251.4" cy="419.3" r="1.03"/><circle cx="422.7" cy="387.3" r="1.08"/><circle cx="440.1" cy="504.2" r="1.25"/><circle cx="472.2" cy="448.8" r="0.93"/><circle cx="396.6" cy="457.9" r="0.84"/><circle cx="361.6" cy="528.8" r="1.04"/><circle cx="269.3" cy="387.8" r="0.83"/><circle cx="356.3" cy="563.4" r="1.28"/><circle cx="245.4" cy="502.7" r="1.22"/><circle cx="446.7" cy="598.9" r="0.90"/><circle cx="378.5" cy="593.7" r="1.03"/><circle cx="487.9" cy="509.0" r="1.26"/><circle cx="466.6" cy="413.4" r="0.81"/><circle cx="401.8" cy="615.0" r="1.18"/><circle cx="386.0" cy="469.2" r="1.01"/><circle cx="445.1" cy="440.7" r="0.87"/><circle cx="379.0" cy="494.1" r="1.24"/><circle cx="503.2" cy="498.4" r="1.13"/><circle cx="298.8" cy="590.1" r="1.00"/><circle cx="281.5" cy="465.9" r="0.90"/><circle cx="339.5" cy="404.5" r="1.24"/><circle cx="248.9" cy="496.2" r="0.88"/><circle cx="414.0" cy="490.8" r="1.11"/><circle cx="460.3" cy="628.6" r="1.12"/><circle cx="325.3" cy="624.6" r="0.96"/><circle cx="335.3" cy="461.5" r="1.28"/><circle cx="357.3" cy="546.1" r="1.29"/><circle cx="253.4" cy="473.5" r="1.21"/><circle cx="458.0" cy="396.1" r="0.90"/><circle cx="382.2" cy="500.7" r="1.30"/><circle cx="290.9" cy="462.6" r="1.25"/><circle cx="286.1" cy="549.6" r="1.28"/><circle cx="463.8" cy="630.7" r="1.24"/><circle cx="264.3" cy="423.4" r="1.08"/><circle cx="399.6" cy="504.8" r="0.85"/><circle cx="333.0" cy="605.2" r="1.00"/><circle cx="467.4" cy="623.7" r="1.02"/><circle cx="303.5" cy="467.2" r="1.08"/><circle cx="315.2" cy="561.4" r="1.19"/><circle cx="493.3" cy="491.6" r="1.18"/><circle cx="261.0" cy="413.9" r="0.97"/><circle cx="344.0" cy="551.3" r="1.19"/><circle cx="331.4" cy="502.3" r="0.90"/><circle cx="432.1" cy="565.3" r="1.02"/><circle cx="384.4" cy="390.3" r="1.21"/><circle cx="267.3" cy="487.9" r="1.13"/><circle cx="386.7" cy="426.5" r="0.82"/><circle cx="246.0" cy="596.1" r="1.26"/><circle cx="427.5" cy="536.2" r="1.20"/><circle cx="425.5" cy="622.2" r="1.04"/><circle cx="468.5" cy="604.2" r="1.02"/><circle cx="258.2" cy="631.1" r="1.16"/><circle cx="469.5" cy="442.5" r="0.83"/><circle cx="306.5" cy="621.2" r="0.99"/><circle cx="470.0" cy="552.2" r="0.99"/><circle cx="502.7" cy="546.3" r="1.25"/><circle cx="407.2" cy="514.3" r="0.92"/><circle cx="451.5" cy="530.7" r="0.86"/><circle cx="389.2" cy="433.3" r="1.09"/><circle cx="433.3" cy="482.1" r="0.98"/><circle cx="260.4" cy="575.4" r="0.86"/><circle cx="506.5" cy="612.6" r="1.09"/><circle cx="308.2" cy="582.7" r="1.06"/><circle cx="370.5" cy="474.4" r="1.10"/><circle cx="457.1" cy="601.0" r="1.15"/><circle cx="285.5" cy="437.6" r="1.14"/><circle cx="453.2" cy="632.8" r="1.22"/><circle cx="373.7" cy="404.2" r="0.93"/><circle cx="374.9" cy="552.7" r="0.88"/><circle cx="324.1" cy="591.2" r="1.03"/><circle cx="424.9" cy="414.2" r="0.91"/><circle cx="348.7" cy="615.7" r="0.92"/><circle cx="422.8" cy="500.0" r="1.13"/><circle cx="394.5" cy="478.1" r="0.90"/><circle cx="296.8" cy="602.6" r="1.23"/><circle cx="396.7" cy="558.2" r="1.08"/><circle cx="366.8" cy="580.0" r="1.16"/><circle cx="303.1" cy="377.8" r="1.05"/><circle cx="379.1" cy="467.7" r="1.28"/><circle cx="394.4" cy="614.4" r="1.09"/><circle cx="311.9" cy="530.2" r="1.21"/><circle cx="458.9" cy="523.1" r="1.21"/><circle cx="477.5" cy="518.1" r="0.97"/><circle cx="417.4" cy="467.2" r="0.89"/><circle cx="264.3" cy="474.2" r="1.06"/><circle cx="371.6" cy="573.4" r="1.03"/><circle cx="347.3" cy="608.8" r="1.19"/><circle cx="257.1" cy="549.1" r="0.98"/><circle cx="472.9" cy="410.8" r="1.06"/><circle cx="377.6" cy="538.6" r="0.86"/><circle cx="290.6" cy="377.9" r="0.98"/><circle cx="380.2" cy="503.4" r="0.94"/></g>
<g fill="none" stroke="#3048aa" stroke-width="0.6"><circle cx="617.0" cy="469.7" r="3.58"/><circle cx="635.8" cy="466.6" r="3.64"/><circle cx="716.7" cy="509.6" r="3.63"/><circle cx="683.0" cy="516.1" r="3.79"/><circle cx="616.8" cy="483.5" r="3.71"/><circle cx="664.8" cy="514.5" r="3.77"/><circle cx="675.3" cy="535.7" r="3.88"/><circle cx="635.3" cy="550.9" r="3.88"/><circle cx="710.9" cy="468.3" r="3.82"/><circle cx="627.7" cy="528.8" r="3.68"/><circle cx="660.0" cy="447.7" r="3.64"/><circle cx="680.0" cy="448.2" r="3.63"/><circle cx="666.6" cy="450.1" r="3.70"/><circle cx="693.6" cy="448.0" r="3.74"/><circle cx="712.2" cy="540.7" r="3.60"/><circle cx="736.3" cy="488.9" r="3.58"/><circle cx="645.4" cy="501.3" r="3.80"/><circle cx="694.2" cy="501.3" r="3.47"/><circle cx="703.4" cy="468.9" r="3.72"/><circle cx="646.3" cy="447.8" r="3.81"/><circle cx="610.1" cy="466.2" r="3.60"/><circle cx="743.7" cy="552.5" r="3.58"/><circle cx="646.9" cy="487.7" r="3.64"/><circle cx="651.7" cy="498.6" r="3.85"/><circle cx="728.6" cy="473.7" r="3.73"/><circle cx="691.4" cy="545.1" r="3.47"/><circle cx="668.2" cy="536.2" r="3.69"/><circle cx="714.0" cy="485.9" r="3.90"/><circle cx="615.6" cy="513.7" r="3.90"/><circle cx="710.5" cy="492.1" r="3.84"/><circle cx="658.1" cy="516.5" r="3.71"/><circle cx="623.6" cy="523.1" r="3.47"/><circle cx="694.2" cy="520.0" r="3.78"/><circle cx="737.5" cy="563.8" r="3.72"/><circle cx="637.5" cy="564.2" r="3.76"/><circle cx="700.4" cy="447.9" r="3.98"/><circle cx="646.2" cy="494.5" r="3.78"/><circle cx="719.4" cy="448.0" r="3.79"/><circle cx="706.1" cy="486.7" r="3.84"/><circle cx="642.2" cy="550.9" r="3.71"/><circle cx="717.0" cy="528.0" r="3.65"/><circle cx="689.7" cy="514.6" r="3.64"/><circle cx="713.1" cy="450.6" r="3.87"/><circle cx="721.7" cy="546.1" r="3.83"/><circle cx="668.0" cy="520.6" r="3.68"/><circle cx="717.9" cy="479.8" r="3.92"/><circle cx="728.6" cy="545.4" r="3.78"/><circle cx="617.0" cy="448.9" r="3.55"/><circle cx="725.1" cy="467.6" r="3.84"/><circle cx="661.8" cy="548.6" r="3.73"/><circle cx="673.2" cy="447.6" r="3.55"/><circle cx="623.4" cy="459.7" r="3.83"/><circle cx="703.2" cy="512.0" r="3.70"/><circle cx="650.9" cy="541.0" r="3.69"/><circle cx="727.9" cy="513.3" r="3.84"/><circle cx="642.9" cy="441.0" r="3.42"/><circle cx="684.6" cy="481.5" r="3.56"/><circle cx="658.0" cy="540.7" r="3.69"/><circle cx="692.0" cy="489.8" r="3.79"/><circle cx="635.5" cy="473.4" r="3.65"/><circle cx="629.4" cy="441.1" r="3.60"/><circle cx="714.5" cy="474.0" r="3.59"/><circle cx="712.8" cy="572.4" r="3.73"/><circle cx="683.4" cy="441.6" r="3.85"/><circle cx="730.7" cy="507.1" r="3.53"/><circle cx="639.6" cy="557.5" r="3.44"/><circle cx="721.8" cy="533.3" r="3.71"/><circle cx="623.1" cy="473.1" r="3.69"/><circle cx="736.4" cy="528.8" r="3.61"/><circle cx="697.1" cy="460.7" r="3.84"/><circle cx="687.4" cy="502.7" r="3.87"/><circle cx="744.6" cy="473.8" r="3.67"/><circle cx="720.3" cy="558.7" r="3.70"/><circle cx="716.7" cy="552.9" r="3.84"/><circle cx="608.9" cy="540.4" r="3.69"/><circle cx="664.6" cy="496.6" r="3.54"/><circle cx="615.9" cy="545.3" r="3.74"/><circle cx="634.3" cy="572.0" r="3.61"/><circle cx="634.3" cy="494.2" r="3.80"/><circle cx="723.5" cy="508.3" r="3.67"/><circle cx="623.2" cy="466.3" r="3.72"/><circle cx="648.5" cy="460.4" r="3.83"/><circle cx="672.2" cy="542.0" r="3.73"/><circle cx="733.3" cy="448.0" r="3.65"/><circle cx="735.8" cy="512.0" r="3.60"/><circle cx="709.9" cy="456.8" r="4.01"/><circle cx="634.7" cy="528.9" r="3.92"/><circle cx="684.3" cy="546.2" r="3.52"/><circle cx="698.9" cy="569.4" r="3.59"/><circle cx="616.7" cy="490.5" r="3.84"/><circle cx="698.9" cy="488.0" r="3.66"/><circle cx="658.0" cy="495.9" r="3.75"/><circle cx="689.5" cy="533.2" r="3.87"/><circle cx="705.5" cy="542.8" r="3.77"/><circle cx="703.0" cy="457.2" r="3.73"/><circle cx="678.0" cy="492.0" r="3.68"/><circle cx="686.9" cy="447.7" r="3.74"/><circle cx="629.2" cy="476.5" r="3.81"/><circle cx="668.9" cy="548.3" r="4.01"/><circle cx="625.6" cy="571.0" r="3.91"/><circle cx="669.7" cy="572.4" r="3.72"/><circle cx="684.4" cy="453.7" r="3.89"/><circle cx="717.6" cy="491.5" r="3.77"/><circle cx="660.1" cy="559.2" r="3.53"/><circle cx="610.3" cy="508.6" r="3.73"/><circle cx="671.3" cy="494.5" r="3.90"/><circle cx="637.4" cy="544.1" r="3.66"/><circle cx="700.0" cy="555.9" r="3.89"/><circle cx="660.4" cy="467.8" r="3.70"/><circle cx="662.7" cy="502.9" r="3.75"/><circle cx="744.4" cy="461.6" r="3.57"/><circle cx="666.6" cy="470.9" r="4.06"/><circle cx="653.4" cy="511.6" r="3.82"/><circle cx="660.1" cy="474.7" r="3.90"/><circle cx="665.5" cy="554.5" r="3.68"/><circle cx="622.5" cy="494.0" r="3.53"/><circle cx="690.7" cy="470.5" r="3.93"/><circle cx="732.3" cy="518.0" r="3.64"/><circle cx="692.1" cy="476.8" r="4.00"/><circle cx="716.8" cy="456.3" r="3.72"/><circle cx="735.5" cy="572.5" r="3.99"/><circle cx="718.0" cy="467.9" r="3.64"/><circle cx="714.0" cy="462.4" r="3.49"/><circle cx="725.9" cy="502.0" r="3.85"/><circle cx="722.8" cy="441.3" r="3.74"/><circle cx="644.5" cy="544.2" r="3.75"/><circle cx="672.5" cy="454.0" r="3.91"/><circle cx="649.8" cy="440.9" r="3.62"/><circle cx="648.7" cy="569.3" r="3.56"/><circle cx="680.6" cy="504.2" r="3.57"/><circle cx="652.6" cy="560.7" r="3.50"/><circle cx="691.1" cy="563.6" r="3.48"/><circle cx="687.0" cy="539.8" r="3.56"/><circle cx="616.0" cy="439.9" r="3.60"/><circle cx="671.3" cy="530.1" r="3.68"/><circle cx="660.7" cy="454.1" r="3.57"/><circle cx="715.8" cy="440.0" r="3.73"/><circle cx="618.1" cy="552.0" r="3.86"/><circle cx="628.9" cy="483.5" r="3.71"/><circle cx="677.3" cy="547.0" r="3.81"/><circle cx="667.0" cy="507.9" r="3.61"/><circle cx="698.5" cy="544.0" r="3.79"/><circle cx="650.7" cy="528.6" r="3.81"/><circle cx="641.6" cy="572.0" r="3.64"/><circle cx="737.4" cy="505.1" r="3.51"/><circle cx="646.7" cy="556.7" r="3.71"/><circle cx="628.4" cy="551.9" r="3.73"/><circle cx="642.8" cy="517.7" r="3.95"/><circle cx="650.0" cy="505.9" r="3.67"/><circle cx="639.8" cy="504.9" r="3.97"/><circle cx="680.7" cy="522.7" r="3.37"/><circle cx="739.2" cy="467.6" r="3.68"/><circle cx="622.4" cy="509.1" r="3.65"/><circle cx="664.7" cy="528.5" r="3.67"/><circle cx="697.4" cy="481.3" r="3.64"/><circle cx="732.1" cy="467.5" r="3.72"/><circle cx="743.5" cy="454.6" r="3.97"/><circle cx="630.3" cy="545.0" r="3.70"/><circle cx="674.3" cy="564.9" r="3.90"/><circle cx="730.4" cy="552.2" r="3.71"/><circle cx="618.1" cy="527.7" r="3.74"/><circle cx="687.5" cy="521.3" r="3.37"/><circle cx="629.1" cy="455.5" r="3.73"/><circle cx="713.2" cy="558.7" r="3.81"/><circle cx="743.0" cy="500.5" r="3.55"/><circle cx="682.6" cy="534.4" r="3.63"/><circle cx="610.3" cy="452.4" r="3.59"/><circle cx="621.0" cy="540.4" r="4.03"/><circle cx="666.6" cy="457.2" r="3.57"/><circle cx="723.8" cy="564.6" r="3.61"/><circle cx="641.0" cy="538.0" r="3.32"/><circle cx="701.0" cy="518.7" r="3.49"/><circle cx="657.7" cy="528.6" r="3.75"/><circle cx="641.5" cy="477.1" r="3.53"/><circle cx="712.2" cy="504.2" r="3.31"/><circle cx="648.9" cy="453.7" r="3.68"/><circle cx="659.7" cy="481.8" r="3.73"/><circle cx="721.6" cy="473.8" r="3.76"/><circle cx="678.7" cy="464.0" r="3.77"/><circle cx="724.7" cy="491.1" r="3.63"/><circle cx="676.8" cy="440.3" r="4.13"/><circle cx="625.9" cy="447.7" r="3.64"/><circle cx="665.8" cy="490.3" r="3.78"/><circle cx="727.4" cy="570.7" r="3.53"/><circle cx="680.0" cy="540.8" r="3.63"/><circle cx="743.7" cy="492.3" r="3.49"/><circle cx="608.9" cy="473.1" r="3.75"/><circle cx="654.7" cy="457.2" r="3.66"/><circle cx="714.7" cy="497.7" r="3.57"/><circle cx="703.2" cy="530.6" r="3.42"/><circle cx="681.6" cy="552.7" r="3.80"/><circle cx="701.1" cy="500.0" r="3.84"/><circle cx="727.4" cy="558.5" r="3.84"/><circle cx="695.7" cy="550.5" r="3.71"/><circle cx="678.0" cy="558.8" r="3.82"/><circle cx="682.8" cy="497.2" r="3.85"/><circle cx="705.5" cy="505.3" r="3.80"/><circle cx="648.2" cy="467.2" r="3.93"/><circle cx="698.7" cy="525.3" r="3.70"/><circle cx="690.3" cy="441.8" r="3.75"/><circle cx="719.0" cy="503.1" r="3.50"/><circle cx="672.7" cy="467.5" r="4.03"/><circle cx="616.7" cy="505.0" r="3.61"/><circle cx="684.8" cy="467.4" r="3.77"/><circle cx="729.8" cy="440.8" r="3.82"/><circle cx="689.6" cy="496.1" r="3.61"/><circle cx="696.6" cy="494.7" r="3.72"/><circle cx="660.1" cy="509.5" r="3.83"/><circle cx="654.4" cy="464.1" r="3.71"/><circle cx="709.9" cy="510.8" r="3.68"/><circle cx="616.9" cy="476.5" r="3.68"/><circle cx="722.9" cy="454.1" r="3.62"/><circle cx="730.9" cy="493.4" r="3.70"/><circle cx="742.5" cy="532.3" r="3.78"/><circle cx="623.0" cy="480.0" r="3.80"/><circle cx="622.6" cy="533.5" r="3.89"/><circle cx="736.5" cy="549.1" r="3.74"/><circle cx="663.3" cy="440.5" r="3.66"/><circle cx="647.8" cy="474.1" r="3.86"/><circle cx="666.3" cy="483.9" r="3.78"/><circle cx="691.9" cy="526.6" r="3.88"/><circle cx="628.4" cy="512.9" r="3.76"/><circle cx="676.2" cy="517.5" r="3.81"/><circle cx="706.3" cy="451.0" r="3.79"/><circle cx="707.5" cy="474.2" r="3.84"/><circle cx="610.5" cy="459.4" r="3.59"/><circle cx="719.2" cy="539.7" r="3.72"/><circle cx="661.4" cy="534.7" r="3.76"/><circle cx="672.3" cy="487.8" r="3.99"/><circle cx="682.4" cy="564.2" r="3.73"/><circle cx="642.3" cy="463.3" r="3.80"/><circle cx="736.9" cy="441.4" r="3.71"/><circle cx="634.0" cy="501.3" r="3.43"/><circle cx="685.1" cy="527.9" r="3.92"/><circle cx="630.4" cy="564.5" r="3.84"/><circle cx="692.0" cy="507.9" r="3.92"/><circle cx="735.5" cy="461.3" r="3.53"/><circle cx="725.8" cy="520.0" r="3.78"/><circle cx="622.6" cy="440.7" r="3.76"/><circle cx="688.7" cy="551.6" r="3.50"/><circle cx="732.0" cy="479.8" r="3.81"/><circle cx="635.9" cy="453.6" r="3.65"/><circle cx="666.6" cy="464.1" r="3.81"/><circle cx="703.0" cy="549.4" r="3.49"/><circle cx="701.3" cy="562.8" r="3.61"/><circle cx="672.7" cy="474.3" r="3.63"/><circle cx="692.1" cy="570.8" r="3.51"/><circle cx="693.2" cy="557.0" r="3.74"/><circle cx="652.6" cy="491.7" r="3.93"/><circle cx="709.7" cy="444.8" r="3.73"/><circle cx="684.7" cy="460.5" r="3.83"/><circle cx="703.5" cy="493.3" r="3.95"/><circle cx="678.8" cy="477.9" r="3.82"/><circle cx="654.2" cy="471.0" r="3.68"/><circle cx="666.5" cy="477.5" r="3.45"/><circle cx="736.2" cy="556.2" r="3.79"/><circle cx="632.6" cy="447.9" r="3.69"/><circle cx="632.5" cy="557.7" r="3.67"/><circle cx="610.1" cy="501.4" r="3.84"/><circle cx="726.7" cy="538.5" r="3.82"/><circle cx="744.0" cy="509.8" r="3.50"/><circle cx="644.6" cy="563.5" r="3.77"/><circle cx="641.8" cy="470.2" r="3.69"/><circle cx="635.1" cy="480.2" r="3.86"/><circle cx="685.2" cy="509.4" r="3.73"/><circle cx="673.9" cy="506.1" r="3.87"/><circle cx="725.1" cy="479.9" r="3.64"/><circle cx="634.7" cy="487.2" r="3.68"/><circle cx="729.5" cy="454.3" r="3.66"/><circle cx="669.4" cy="501.2" r="3.71"/><circle cx="714.7" cy="546.7" r="3.70"/><circle cx="723.6" cy="552.6" r="3.91"/><circle cx="737.2" cy="496.0" r="3.59"/><circle cx="678.2" cy="572.7" r="3.75"/><circle cx="685.2" cy="572.1" r="3.56"/><circle cx="684.9" cy="488.6" r="3.52"/><circle cx="629.8" cy="462.5" r="3.65"/><circle cx="670.7" cy="559.1" r="3.51"/><circle cx="742.7" cy="568.8" r="3.76"/><circle cx="734.7" cy="535.5" r="3.63"/><circle cx="610.5" cy="570.5" r="3.66"/><circle cx="698.7" cy="506.6" r="3.80"/><circle cx="649.7" cy="517.6" r="3.97"/><circle cx="622.6" cy="453.1" r="3.66"/><circle cx="628.3" cy="497.6" r="3.45"/><circle cx="716.6" cy="564.7" r="3.68"/><circle cx="736.1" cy="454.3" r="3.74"/><circle cx="678.6" cy="457.1" r="3.91"/><circle cx="656.5" cy="440.9" r="3.73"/><circle cx="676.1" cy="499.2" r="3.61"/><circle cx="721.2" cy="514.8" r="3.88"/><circle cx="714.5" cy="516.1" r="3.90"/><circle cx="616.7" cy="558.9" r="3.71"/><circle cx="634.3" cy="535.9" r="3.78"/><circle cx="723.9" cy="526.6" r="3.79"/><circle cx="673.9" cy="523.9" r="4.13"/><circle cx="696.5" cy="513.3" r="3.65"/><circle cx="721.3" cy="461.6" r="3.68"/><circle cx="697.1" cy="453.9" r="3.73"/><circle cx="710.1" cy="529.3" r="3.85"/><circle cx="685.0" cy="474.5" r="3.70"/><circle cx="639.9" cy="497.8" r="3.82"/><circle cx="630.6" cy="522.4" r="3.88"/><circle cx="742.9" cy="516.9" r="4.04"/><circle cx="609.6" cy="480.0" r="3.72"/><circle cx="698.8" cy="474.3" r="3.70"/><circle cx="728.4" cy="461.3" r="3.69"/><circle cx="641.7" cy="530.2" r="3.47"/><circle cx="608.8" cy="530.9" r="3.57"/><circle cx="660.6" cy="460.9" r="3.77"/><circle cx="653.8" cy="477.9" r="3.77"/><circle cx="672.6" cy="460.7" r="4.13"/><circle cx="661.3" cy="522.5" r="3.93"/><circle cx="738.9" cy="479.7" r="3.86"/><circle cx="623.4" cy="556.8" r="3.96"/><circle cx="735.5" cy="473.6" r="3.65"/><circle cx="616.9" cy="520.7" r="3.66"/><circle cx="730.7" cy="524.9" r="3.63"/><circle cx="656.4" cy="566.7" r="3.72"/><circle cx="707.7" cy="535.8" r="4.07"/><circle cx="609.6" cy="562.8" r="3.71"/><circle cx="671.6" cy="512.8" r="3.65"/><circle cx="703.8" cy="440.0" r="3.75"/><circle cx="690.9" cy="483.4" r="3.87"/><circle cx="714.8" cy="534.4" r="3.82"/><circle cx="628.6" cy="490.5" r="3.87"/><circle cx="654.2" cy="534.7" r="3.57"/><circle cx="690.7" cy="456.6" r="3.62"/><circle cx="610.2" cy="523.8" r="3.71"/><circle cx="729.8" cy="486.4" r="3.76"/><circle cx="662.6" cy="572.1" r="3.95"/><circle cx="639.6" cy="448.0" r="3.56"/><circle cx="640.5" cy="490.8" r="3.84"/><circle cx="700.9" cy="537.4" r="3.71"/><circle cx="608.7" cy="494.0" r="3.84"/><circle cx="639.5" cy="511.8" r="3.65"/><circle cx="653.3" cy="484.8" r="3.54"/><circle cx="636.4" cy="460.0" r="3.92"/><circle cx="710.9" cy="480.0" r="3.79"/><circle cx="686.2" cy="558.2" r="3.46"/><circle cx="734.9" cy="542.4" r="3.85"/><circle cx="704.0" cy="480.0" r="3.60"/><circle cx="647.2" cy="534.7" r="3.73"/><circle cx="649.1" cy="550.1" r="3.75"/><circle cx="623.3" cy="547.1" r="3.55"/><circle cx="636.2" cy="440.9" r="3.91"/><circle cx="696.8" cy="467.5" r="3.67"/><circle cx="705.7" cy="572.3" r="3.99"/><circle cx="647.4" cy="480.9" r="3.82"/><circle cx="655.1" cy="547.0" r="3.82"/><circle cx="712.3" cy="522.7" r="3.79"/><circle cx="744.4" cy="559.4" r="4.04"/><circle cx="616.7" cy="456.0" r="3.59"/><circle cx="616.8" cy="566.6" r="3.63"/><circle cx="706.5" cy="557.9" r="3.65"/><circle cx="672.7" cy="481.1" r="3.92"/><circle cx="664.9" cy="542.4" r="3.90"/><circle cx="697.0" cy="440.1" r="3.76"/><circle cx="709.7" cy="551.6" r="3.79"/><circle cx="616.6" cy="497.6" r="3.50"/><circle cx="741.0" cy="538.9" r="3.97"/><circle cx="742.8" cy="545.5" r="3.72"/><circle cx="669.9" cy="440.3" r="3.77"/><circle cx="665.5" cy="563.8" r="3.70"/><circle cx="642.4" cy="456.1" r="3.85"/><circle cx="690.8" cy="463.7" r="3.72"/><circle cx="633.7" cy="508.4" r="3.77"/><circle cx="678.6" cy="485.0" r="3.76"/><circle cx="728.8" cy="531.7" r="3.67"/><circle cx="678.8" cy="470.9" r="3.66"/><circle cx="719.1" cy="521.4" r="3.81"/><circle cx="627.8" cy="538.4" r="3.81"/><circle cx="730.8" cy="564.5" r="3.86"/><circle cx="622.3" cy="501.0" r="3.97"/><circle cx="641.0" cy="483.9" r="3.56"/><circle cx="705.5" cy="524.0" r="3.47"/><circle cx="645.3" cy="524.1" r="3.69"/><circle cx="623.3" cy="563.8" r="3.94"/><circle cx="622.2" cy="516.2" r="3.74"/><circle cx="721.6" cy="496.9" r="3.48"/><circle cx="609.9" cy="487.0" r="3.99"/><circle cx="615.9" cy="535.6" r="3.82"/><circle cx="737.3" cy="521.8" r="3.53"/><circle cx="726.3" cy="448.0" r="3.63"/><circle cx="659.0" cy="488.9" r="3.76"/><circle cx="629.4" cy="469.6" r="3.67"/><circle cx="732.3" cy="500.4" r="3.73"/><circle cx="721.1" cy="485.5" r="3.83"/><circle cx="706.8" cy="462.9" r="3.75"/><circle cx="678.5" cy="511.0" r="3.96"/><circle cx="678.2" cy="529.2" r="3.72"/><circle cx="743.5" cy="485.4" r="3.97"/><circle cx="674.1" cy="553.0" r="3.66"/><circle cx="617.0" cy="462.8" r="3.57"/><circle cx="610.2" cy="445.6" r="3.44"/><circle cx="696.4" cy="532.0" r="3.62"/><circle cx="707.7" cy="517.4" r="3.76"/><circle cx="694.0" cy="538.6" r="3.89"/><circle cx="709.1" cy="564.4" r="3.24"/><circle cx="646.3" cy="511.6" r="3.74"/><circle cx="655.1" cy="554.1" r="3.60"/><circle cx="637.9" cy="522.7" r="3.86"/><circle cx="656.2" cy="503.7" r="3.67"/><circle cx="634.4" cy="516.5" r="3.79"/><circle cx="720.3" cy="570.8" r="4.02"/><circle cx="622.8" cy="486.9" r="3.77"/><circle cx="627.9" cy="504.8" r="3.72"/><circle cx="707.9" cy="498.7" r="3.90"/><circle cx="654.4" cy="522.6" r="3.79"/><circle cx="653.2" cy="448.2" r="3.72"/><circle cx="742.6" cy="525.5" r="3.51"/><circle cx="740.4" cy="447.9" r="3.70"/></g>
<g fill="#00dd00"><circle cx="630.4" cy="442.9" r="3.81"/><circle cx="635.1" cy="440.4" r="3.81"/><circle cx="644" cy="449" r="4.23"/><circle cx="625.9" cy="461.8" r="4.23"/><circle cx="635.1" cy="470.3" r="4.02"/><circle cx="656.8" cy="456.2" r="1.37"/><circle cx="644.9" cy="489.7" r="4.45"/><circle cx="628" cy="493.2" r="2.75"/><circle cx="662.2" cy="495.1" r="2.75"/><circle cx="667.1" cy="498.1" r="3.81"/><circle cx="673.1" cy="500.1" r="4.23"/><circle cx="676.5" cy="500.6" r="3.28"/><circle cx="629.2" cy="506" r="4.23"/><circle cx="656.8" cy="502.5" r="2.01"/><circle cx="720.9" cy="446.6" r="2.01"/><circle cx="723.2" cy="450.7" r="2.43"/><circle cx="684.4" cy="464.1" r="2.22"/><circle cx="721.9" cy="478.9" r="3.81"/><circle cx="709.5" cy="482.5" r="4.02"/><circle cx="735.2" cy="483.8" r="4.45"/><circle cx="685.7" cy="493.4" r="2.01"/><circle cx="701.9" cy="499.9" r="4.23"/><circle cx="721.2" cy="499.1" r="4.23"/><circle cx="648.4" cy="508.9" r="4.02"/><circle cx="645" cy="513.9" r="3.81"/><circle cx="611.4" cy="520" r="3.81"/><circle cx="644" cy="526.5" r="2.43"/><circle cx="643.5" cy="534.1" r="4.02"/><circle cx="654.8" cy="528.2" r="2.75"/><circle cx="657.3" cy="528.7" r="2.43"/><circle cx="659.7" cy="536.6" r="2.22"/><circle cx="669.3" cy="532.9" r="4.45"/><circle cx="675" cy="546.4" r="3.07"/><circle cx="667.6" cy="555.1" r="2.01"/><circle cx="616.6" cy="551.7" r="3.92"/><circle cx="614.4" cy="559.7" r="3.28"/><circle cx="617.3" cy="562.7" r="3.28"/><circle cx="628.5" cy="562" r="3.07"/><circle cx="657.8" cy="504.5" r="1.69"/><circle cx="694.7" cy="507.9" r="2.75"/><circle cx="708.1" cy="509.7" r="3.28"/><circle cx="726.3" cy="508.9" r="1.69"/><circle cx="744.1" cy="509.9" r="3.81"/><circle cx="745.6" cy="515.3" r="4.13"/><circle cx="715.3" cy="526.7" r="2.75"/><circle cx="710" cy="533.1" r="2.43"/><circle cx="735" cy="536.9" r="2.22"/><circle cx="699.2" cy="551.7" r="1.37"/><circle cx="719.2" cy="555.5" r="3.07"/><circle cx="742.3" cy="557.3" r="3.28"/><circle cx="744.6" cy="561.4" r="3.07"/></g>
<g fill="#8a1a8c"><circle cx="609.4" cy="471" r="4.45"/><circle cx="670.9" cy="487.7" r="3.28"/><circle cx="674.5" cy="488.2" r="1.69"/><circle cx="694.3" cy="440.7" r="3.28"/><circle cx="699.5" cy="456.5" r="3.81"/><circle cx="687.8" cy="498.9" r="4.23"/><circle cx="739" cy="498.6" r="4.02"/><circle cx="712.9" cy="506" r="4.13"/><circle cx="643.5" cy="541.3" r="4.02"/></g>
<g fill="#ff1010"><circle cx="740.9" cy="521.4" r="0.93"/><circle cx="710.2" cy="460.7" r="0.88"/><circle cx="732.0" cy="514.4" r="1.06"/><circle cx="744.1" cy="492.0" r="0.81"/><circle cx="742.1" cy="538.9" r="1.18"/><circle cx="661.5" cy="567.6" r="1.30"/><circle cx="670.2" cy="562.6" r="0.87"/><circle cx="739.6" cy="542.3" r="1.13"/><circle cx="695.7" cy="484.3" r="1.25"/><circle cx="689.3" cy="473.9" r="0.91"/><circle cx="609.7" cy="501.3" r="1.26"/><circle cx="732.4" cy="489.6" r="1.16"/><circle cx="708.5" cy="539.8" r="1.18"/><circle cx="694.9" cy="464.0" r="0.93"/><circle cx="667.8" cy="511.7" r="1.15"/><circle cx="679.0" cy="496.2" r="1.20"/><circle cx="722.8" cy="504.5" r="1.25"/><circle cx="721.3" cy="493.2" r="1.08"/><circle cx="714.0" cy="530.6" r="0.85"/><circle cx="658.3" cy="545.4" r="1.12"/><circle cx="739.7" cy="463.5" r="1.00"/><circle cx="708.9" cy="572.5" r="1.24"/><circle cx="680.8" cy="467.4" r="0.97"/><circle cx="711.5" cy="518.8" r="1.10"/><circle cx="609.2" cy="511.2" r="1.07"/><circle cx="706.7" cy="490.7" r="0.86"/><circle cx="646.6" cy="456.7" r="1.17"/><circle cx="733.7" cy="456.7" r="1.03"/><circle cx="626.5" cy="566.4" r="1.06"/><circle cx="631.1" cy="517.3" r="1.01"/><circle cx="697.0" cy="445.3" r="0.81"/><circle cx="729.7" cy="450.1" r="0.86"/><circle cx="717.4" cy="513.5" r="1.06"/><circle cx="724.6" cy="548.0" r="1.01"/><circle cx="699.4" cy="529.3" r="1.01"/><circle cx="728.6" cy="477.8" r="0.91"/><circle cx="617.6" cy="540.4" r="1.09"/><circle cx="740.0" cy="452.3" r="1.02"/><circle cx="653.7" cy="515.3" r="1.05"/><circle cx="664.0" cy="510.6" r="1.11"/><circle cx="717.9" cy="531.9" r="1.29"/><circle cx="686.2" cy="566.6" r="1.16"/><circle cx="652.2" cy="467.4" r="1.11"/><circle cx="638.3" cy="548.6" r="1.15"/><circle cx="629.2" cy="450.3" r="0.93"/><circle cx="618.9" cy="480.0" r="1.18"/><circle cx="695.2" cy="561.2" r="0.93"/><circle cx="699.6" cy="470.2" r="1.13"/><circle cx="634.0" cy="541.7" r="0.91"/><circle cx="732.0" cy="463.4" r="1.20"/><circle cx="620.9" cy="456.2" r="0.97"/><circle cx="677.7" cy="507.1" r="1.26"/><circle cx="700.1" cy="483.1" r="1.20"/><circle cx="691.2" cy="504.0" r="1.27"/><circle cx="630.7" cy="487.1" r="1.18"/><circle cx="723.8" cy="560.6" r="0.98"/><circle cx="739.7" cy="475.7" r="0.89"/><circle cx="657.9" cy="478.1" r="1.25"/><circle cx="743.9" cy="483.8" r="0.83"/><circle cx="731.2" cy="569.2" r="1.28"/><circle cx="687.2" cy="477.6" r="0.88"/><circle cx="623.5" cy="571.2" r="1.10"/><circle cx="675.9" cy="539.5" r="1.06"/><circle cx="609.1" cy="482.4" r="1.15"/><circle cx="742.7" cy="467.7" r="0.87"/><circle cx="635.8" cy="512.2" r="0.99"/><circle cx="627.1" cy="517.1" r="1.09"/><circle cx="689.0" cy="510.7" r="1.20"/><circle cx="735.2" cy="517.2" r="1.09"/><circle cx="716.7" cy="560.7" r="1.14"/><circle cx="663.3" cy="446.1" r="0.93"/><circle cx="645.3" cy="548.4" r="1.01"/><circle cx="731.9" cy="548.9" r="1.11"/><circle cx="668.0" cy="526.4" r="0.98"/><circle cx="645.9" cy="519.8" r="1.20"/></g>
<text transform="translate(149.96,494.40) scale(1.1400,1)" font-family="Liberation Sans, sans-serif" font-size="18.48">growth</text>
<text transform="translate(511.69,493.30) scale(1.1133,1)" font-family="Liberation Sans, sans-serif" font-size="18.34">shrinkage</text>
<g stroke="#000" stroke-width="1.2" fill="none"><line x1="151" y1="506.8" x2="222.8" y2="506.8"/><polyline points="204.8,495.2 222.8,506.8 205.4,518.2"/><line x1="512.7" y1="506.7" x2="585" y2="506.7"/><polyline points="566.7,495.6 585,506.7 566.7,517.7"/></g>
</svg></body></html>
